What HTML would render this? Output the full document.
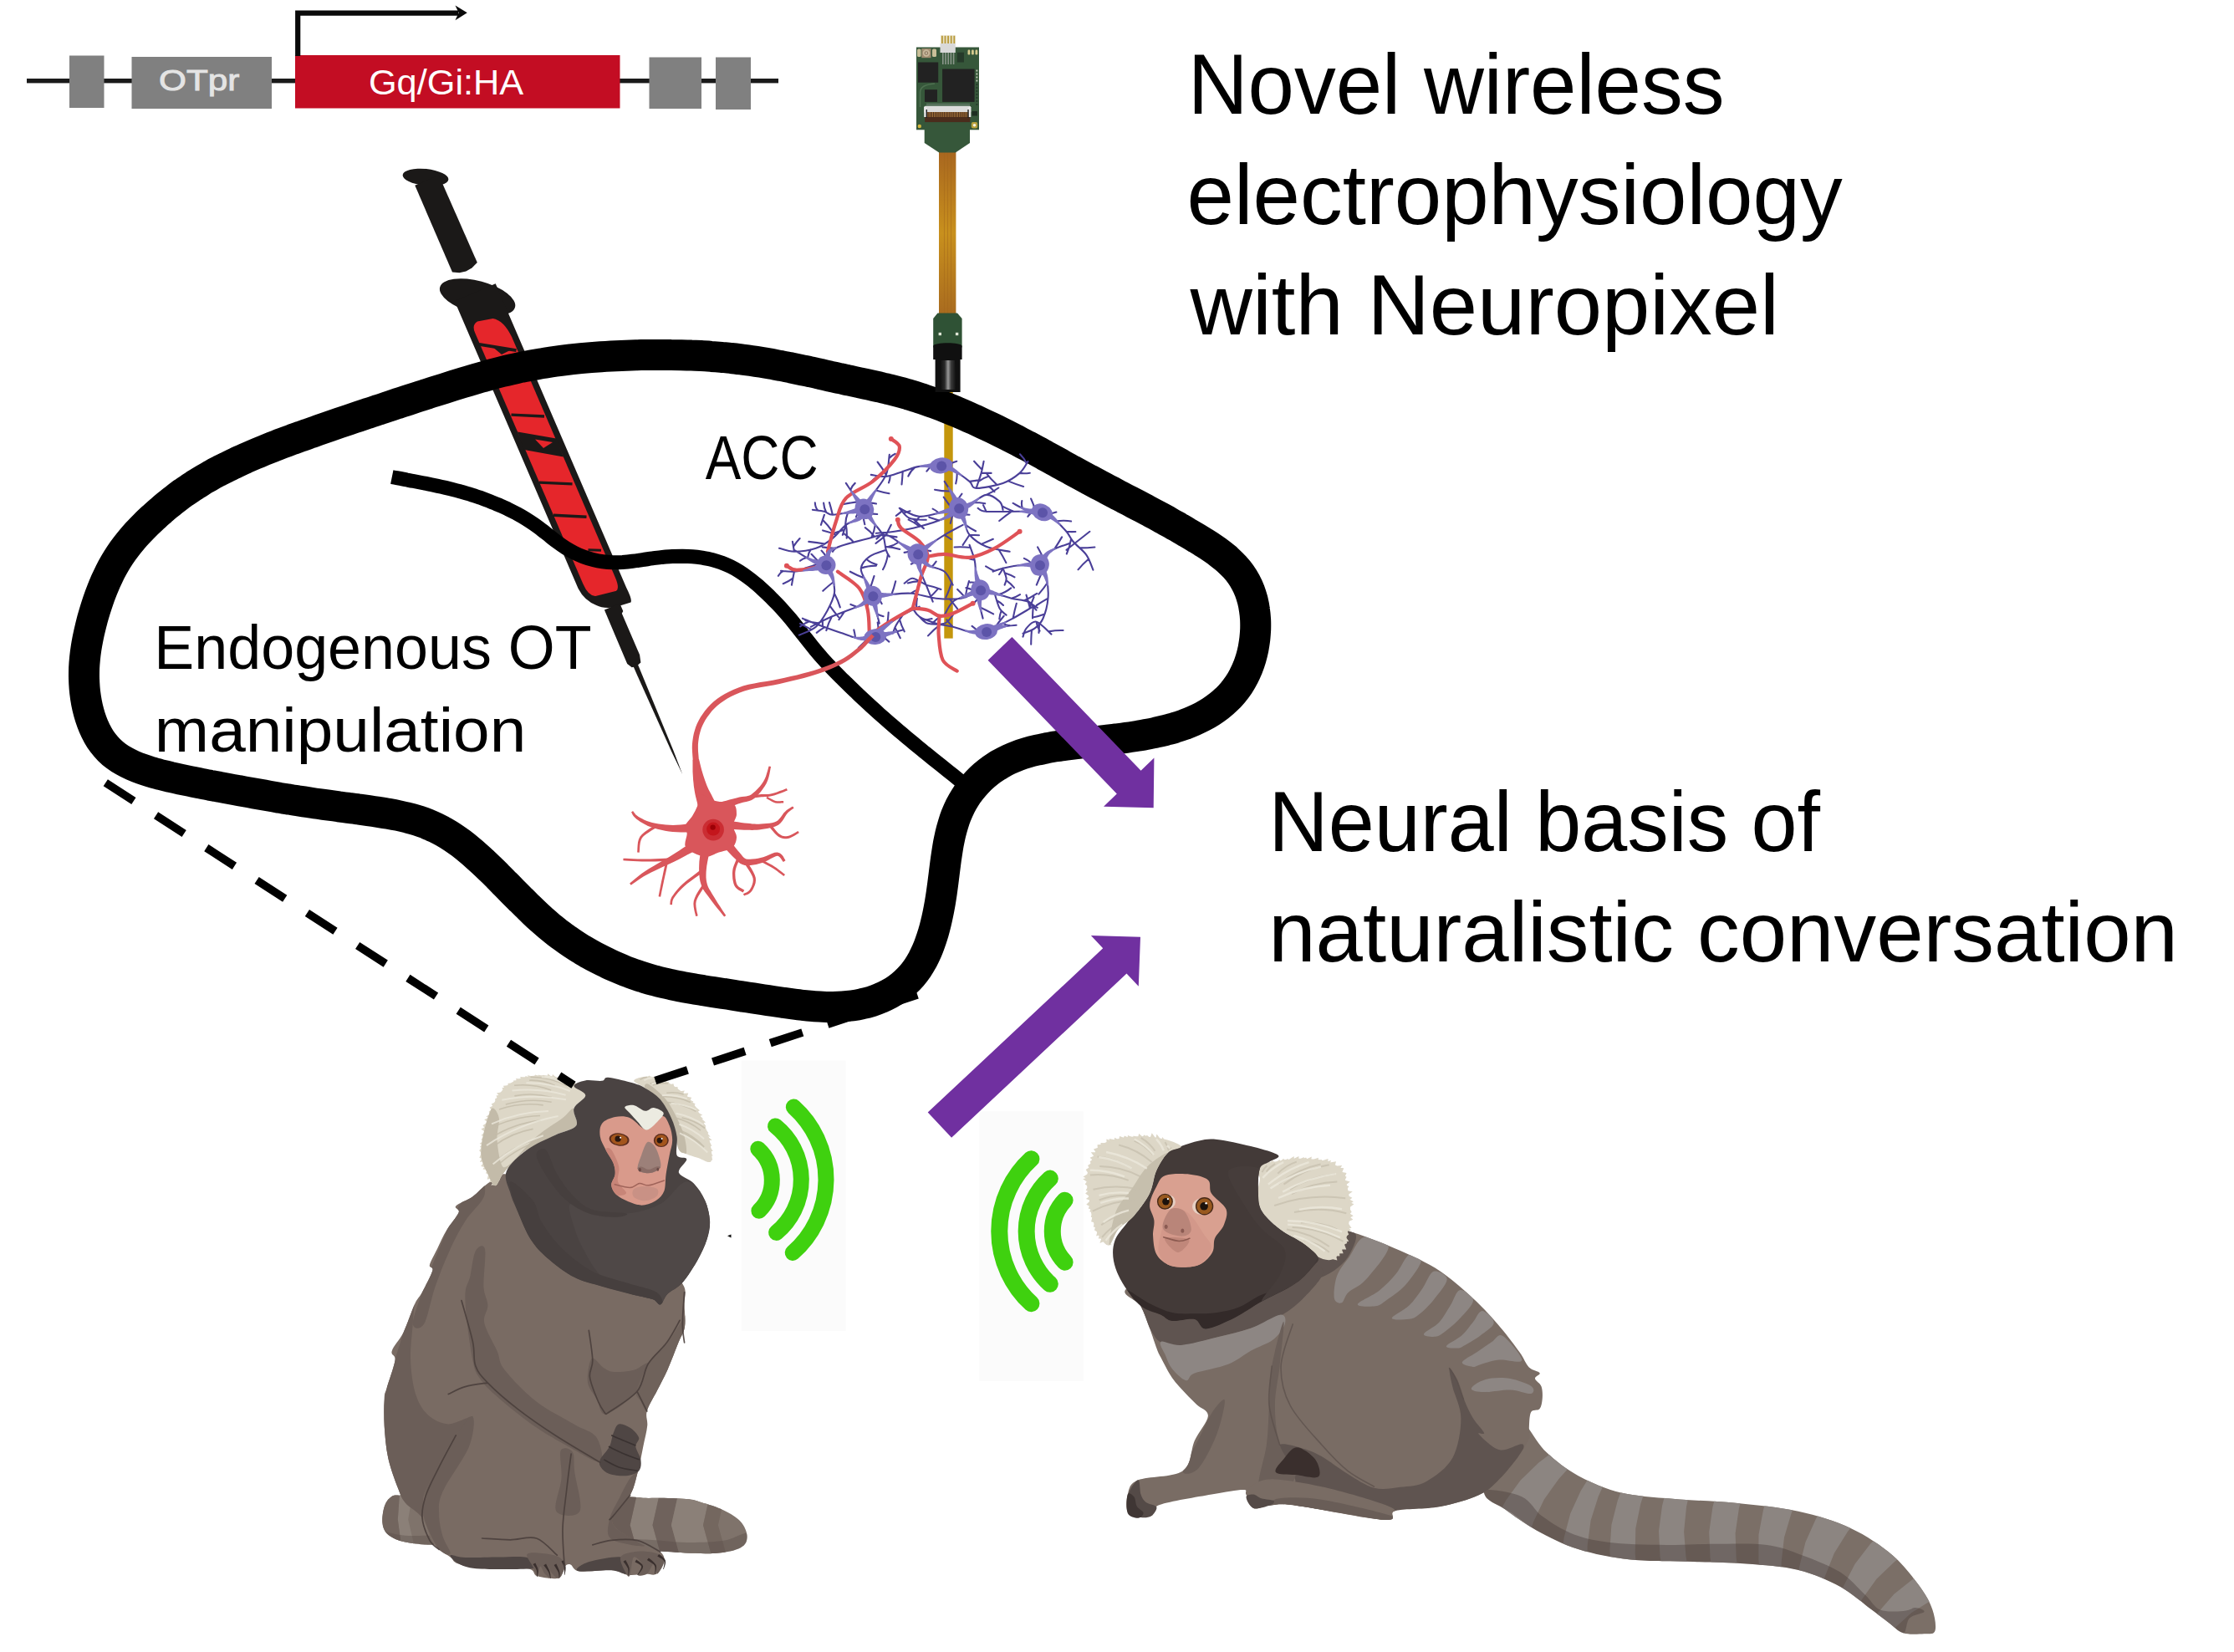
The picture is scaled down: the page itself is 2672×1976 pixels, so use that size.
<!DOCTYPE html>
<html><head><meta charset="utf-8"><title>Figure</title>
<style>html,body{margin:0;padding:0;background:#fff}svg{display:block}text{font-family:"Liberation Sans",sans-serif}</style>
</head><body>
<svg width="2672" height="1976" viewBox="0 0 2672 1976">
<rect width="2672" height="1976" fill="#fff"/>
<g id="gene"><rect x="32" y="94" width="899" height="5.4" fill="#1a1a1a"/>
<rect x="83" y="66.5" width="41.5" height="62.5" fill="#808080"/>
<rect x="157.5" y="68" width="167.5" height="62" fill="#808080"/>
<rect x="776.5" y="68.5" width="62.5" height="61.5" fill="#808080"/>
<rect x="856" y="68.5" width="42" height="62.5" fill="#808080"/>
<rect x="353" y="66" width="388.5" height="63.5" fill="#c30d23"/>
<path d="M356.2 67V15.7H548" fill="none" stroke="#0a0a0a" stroke-width="6.2" stroke-linejoin="miter"/>
<path d="M558.8 15.3L544.5 6.6L548.6 15.3L544.5 24.2Z" fill="#0a0a0a"/></g>
<g id="gene_texts"><text x="190.12" y="107.6" font-size="35.5" fill="#e4e4e4" stroke="#e4e4e4" stroke-width="0.9" textLength="96.32" lengthAdjust="spacingAndGlyphs">OTpr</text>
<text x="440.94" y="113" font-size="42" fill="#fff" textLength="185.27" lengthAdjust="spacingAndGlyphs">Gq/Gi:HA</text></g>
<g id="waves"><rect x="1171.3" y="1329.4" width="124.5" height="322.6" fill="#fbfbfb"/>
<path d="M1273.6 1435.7A53.6 53.6 0 0 0 1273.6 1509.7" fill="none" stroke="#3fd10f" stroke-width="20" stroke-linecap="round"/>
<path d="M1255.8 1409.6A84.8 84.8 0 0 0 1255.8 1535.8" fill="none" stroke="#3fd10f" stroke-width="20" stroke-linecap="round"/>
<path d="M1233.4 1386.2A117.2 117.2 0 0 0 1233.4 1559.2" fill="none" stroke="#3fd10f" stroke-width="20" stroke-linecap="round"/></g>
<g id="waves_left"><rect x="887.2" y="1268.5" width="124.2" height="323.5" fill="#fbfbfb"/>
<path d="M906.8 1374.2A51 51 0 0 1 907.9 1448.3" fill="none" stroke="#3fd10f" stroke-width="19" stroke-linecap="round"/>
<path d="M927.5 1346.9A82.3 82.3 0 0 1 928.6 1474.4" fill="none" stroke="#3fd10f" stroke-width="19" stroke-linecap="round"/>
<path d="M949.3 1324.1A116.4 116.4 0 0 1 948.2 1498.4" fill="none" stroke="#3fd10f" stroke-width="19" stroke-linecap="round"/>
<path d="M870 1478.3L874.5 1476.5L874.5 1480.5Z" fill="#111"/></g>
<g id="syringe"><ellipse cx="509" cy="212" rx="27.5" ry="10" fill="#1b1918" transform="rotate(6 509 212)"/>
<path d="M496.3 221.8L541 325.6L549.5 326.3L557.4 324.5L564.4 320.4L570.8 313.9L524.8 209.5Z" fill="#1b1918"/>
<ellipse cx="571.1" cy="355.5" rx="46.5" ry="19.5" fill="#1b1918" transform="rotate(15 571.1 355.5)"/>
<path d="M543.8 360.3L691.6 703.9Q698.9 718.2 713.3 723.9Q722.6 728.7 736.6 725.9L754.5 720.4Q756.4 717.3 749.2 703L592.7 339.3Z" fill="#1b1918"/>
<path d="M568 397.8Q564.1 388.6 571 384.5L589.5 380.9Q602.4 383 612 402.8L735.9 690.8Q741.8 704.6 736.3 707L712.3 712.9Q703.8 713.3 697.4 698.6Z" fill="#e5262b"/>
<path d="M573 411.9L617.5 419.1" stroke="#1b1918" stroke-width="3.6" fill="none"/>
<path d="M588 414L612 418L600 424Z" fill="#1b1918"/>
<path d="M611.5 496.1L651 498" stroke="#1b1918" stroke-width="3.4" fill="none"/>
<path d="M619 516.5L665.2 524.6L674 546.4L627 538Z" fill="#1b1918"/>
<path d="M640 525.5L661 529L650 536Z" fill="#e5262b"/>
<path d="M645 577.1L684.5 578.9" stroke="#1b1918" stroke-width="3.4" fill="none"/>
<path d="M662 616.2L701.5 618.3" stroke="#1b1918" stroke-width="3.4" fill="none"/>
<path d="M703.5 657.8L719 658.3" stroke="#1b1918" stroke-width="3" fill="none"/>
<path d="M722.9 729.6L750.2 794.1L755.7 798.2L760.7 797.2L766.4 792.5L765.1 783.3L743.8 733.7L745.3 730.9L741.3 721.7Z" fill="#1b1918"/>
<path d="M756.8 795.6L803.2 899.1L816.2 926.1L805.5 898L762.3 793.2Z" fill="#1b1918"/></g>
<g id="shank"><rect x="1129.3" y="460" width="10.4" height="303.6" fill="#c4960c"/></g>
<g id="brain"><path d="M600.2 444.7C604.1 443.7 607.9 442.8 611.8 441.9C615.7 441 619.7 440.2 623.6 439.3C627.5 438.5 631.4 437.7 635.3 437C639.3 436.3 643.2 435.6 647.2 434.9C651.1 434.2 655.1 433.6 659 433C663 432.4 666.9 431.9 670.9 431.4C674.9 430.9 678.9 430.4 682.8 429.9C686.8 429.5 690.8 429.1 694.8 428.7C698.8 428.3 702.7 428 706.7 427.6C710.7 427.3 714.7 427 718.7 426.7C722.7 426.5 726.7 426.2 730.7 426C734.7 425.8 738.7 425.6 742.7 425.4C746.7 425.2 750.7 425.1 754.7 424.9C758.7 424.8 762.7 424.7 766.7 424.6C770.7 424.5 774.7 424.5 778.7 424.4C782.7 424.4 786.7 424.4 790.7 424.4C794.7 424.4 798.7 424.4 802.7 424.5C806.7 424.5 810.7 424.6 814.7 424.7C818.8 424.8 822.8 424.9 826.8 425.1C830.8 425.2 834.8 425.4 838.7 425.6C842.7 425.8 846.7 426.1 850.7 426.4C854.7 426.6 858.7 426.9 862.7 427.3C866.7 427.7 870.7 428 874.6 428.5C878.6 428.9 882.6 429.4 886.6 429.9C890.5 430.4 894.5 430.9 898.5 431.5C902.4 432.1 906.4 432.7 910.3 433.3C914.3 434 918.2 434.6 922.2 435.3C926.1 436 930 436.8 934 437.5C937.9 438.3 941.8 439.1 945.8 439.8C949.7 440.6 953.6 441.5 957.5 442.3C961.4 443.1 965.3 444 969.3 444.8C973.2 445.7 977.1 446.6 981 447.4C984.9 448.3 988.8 449.2 992.7 450.1C996.6 450.9 1000.5 451.8 1004.4 452.7C1008.4 453.5 1012.3 454.4 1016.2 455.2C1020.1 456.1 1024 456.9 1027.9 457.8C1031.8 458.6 1035.8 459.4 1039.7 460.3C1043.6 461.2 1047.5 462 1051.4 462.9C1055.3 463.9 1059.2 464.8 1063.1 465.7C1066.9 466.7 1070.8 467.7 1074.7 468.7C1078.6 469.7 1082.4 470.8 1086.3 471.9C1090.1 473 1093.9 474.2 1097.7 475.4C1101.5 476.6 1105.3 477.9 1109.1 479.2C1112.9 480.5 1116.7 481.8 1120.4 483.2C1124.2 484.6 1127.9 486 1131.6 487.5C1135.3 489 1139 490.5 1142.7 492C1146.4 493.6 1150.1 495.2 1153.8 496.8C1157.4 498.4 1161.1 500 1164.7 501.6C1168.4 503.3 1172 505 1175.6 506.7C1179.3 508.4 1182.9 510.1 1186.5 511.8C1190.1 513.6 1193.7 515.3 1197.3 517.1C1200.9 518.9 1204.4 520.7 1208 522.5C1211.6 524.3 1215.1 526.1 1218.7 528C1222.2 529.9 1225.8 531.7 1229.3 533.6C1232.9 535.5 1236.4 537.4 1239.9 539.3C1243.4 541.2 1246.9 543.1 1250.4 545.1C1254 547 1257.5 548.9 1261 550.9C1264.5 552.8 1268 554.7 1271.5 556.7C1275 558.6 1278.5 560.5 1282 562.5C1285.5 564.4 1289 566.3 1292.6 568.2C1296.1 570.1 1299.6 572 1303.1 573.9C1306.7 575.8 1310.2 577.7 1313.7 579.6C1317.3 581.5 1320.8 583.3 1324.3 585.2C1327.9 587.1 1331.4 588.9 1335 590.8C1338.5 592.7 1342.1 594.5 1345.6 596.4C1349.2 598.3 1352.7 600.1 1356.3 602C1359.8 603.8 1363.4 605.7 1366.9 607.6C1370.4 609.5 1374 611.3 1377.5 613.2C1381 615.1 1384.6 617 1388.1 618.9C1391.6 620.9 1395.1 622.8 1398.6 624.7C1402.1 626.7 1405.6 628.7 1409.1 630.6C1412.5 632.6 1416 634.6 1419.4 636.7C1422.9 638.7 1426.3 640.7 1429.8 642.8C1433.2 644.9 1436.6 646.9 1439.9 649.1C1443.3 651.2 1446.7 653.4 1449.9 655.6C1453.2 657.8 1456.4 660.1 1459.5 662.5C1462.6 664.9 1465.7 667.3 1468.6 669.9C1471.4 672.5 1474.2 675.2 1476.8 678C1479.4 680.8 1481.8 683.8 1484 686.9C1486.2 690 1488.2 693.2 1490 696.6C1491.8 699.9 1493.4 703.4 1494.7 706.9C1496.1 710.5 1497.2 714.2 1498.2 717.9C1499.1 721.6 1499.9 725.4 1500.4 729.3C1501 733.1 1501.4 737 1501.6 740.9C1501.8 744.8 1501.8 748.7 1501.7 752.6C1501.5 756.6 1501.2 760.5 1500.8 764.4C1500.3 768.3 1499.7 772.2 1499 776C1498.2 779.8 1497.3 783.6 1496.2 787.4C1495.1 791.1 1493.8 794.8 1492.4 798.4C1490.9 802 1489.3 805.6 1487.5 809C1485.8 812.4 1483.8 815.8 1481.7 819C1479.5 822.2 1477.2 825.3 1474.7 828.3C1472.3 831.2 1469.6 834.1 1466.8 836.7C1464.1 839.4 1461.1 842 1458.1 844.3C1455 846.7 1451.8 849 1448.5 851.1C1445.2 853.2 1441.8 855.2 1438.4 857C1434.9 858.8 1431.3 860.5 1427.7 862.1C1424.1 863.7 1420.4 865.2 1416.7 866.6C1413 867.9 1409.2 869.2 1405.4 870.3C1401.7 871.5 1397.8 872.5 1394 873.5C1390.1 874.5 1386.2 875.4 1382.3 876.2C1378.4 877.1 1374.5 877.8 1370.6 878.5C1366.6 879.3 1362.7 879.9 1358.7 880.6C1354.8 881.2 1350.8 881.8 1346.9 882.3C1342.9 882.9 1338.9 883.4 1335 883.9C1331 884.5 1327 884.9 1323 885.4C1319.1 885.9 1315.1 886.4 1311.1 886.8C1307.1 887.3 1303.2 887.8 1299.2 888.2C1295.2 888.7 1291.2 889.1 1287.3 889.6C1283.3 890.1 1279.3 890.6 1275.3 891.1C1271.4 891.6 1267.4 892.2 1263.5 892.8C1259.5 893.4 1255.6 894.1 1251.7 894.8C1247.8 895.6 1243.9 896.4 1240 897.3C1236.2 898.2 1232.3 899.2 1228.5 900.3C1224.7 901.4 1221 902.6 1217.3 904C1213.6 905.4 1210 906.9 1206.5 908.5C1202.9 910.2 1199.5 912 1196.1 914C1192.7 915.9 1189.5 918.1 1186.3 920.3C1183.1 922.6 1180.1 925 1177.1 927.6C1174.2 930.1 1171.4 932.8 1168.7 935.6C1166 938.5 1163.5 941.4 1161.1 944.5C1158.7 947.5 1156.4 950.7 1154.4 954C1152.3 957.3 1150.4 960.7 1148.6 964.1C1146.9 967.6 1145.3 971.2 1143.8 974.8C1142.4 978.4 1141.1 982.2 1140 985.9C1138.8 989.7 1137.8 993.5 1136.9 997.3C1136 1001.2 1135.2 1005.1 1134.4 1009C1133.7 1012.9 1133.1 1016.8 1132.5 1020.8C1131.9 1024.7 1131.3 1028.7 1130.8 1032.6C1130.3 1036.6 1129.8 1040.6 1129.3 1044.5C1128.8 1048.5 1128.3 1052.5 1127.8 1056.4C1127.3 1060.4 1126.7 1064.4 1126.2 1068.3C1125.6 1072.3 1125 1076.2 1124.3 1080.2C1123.6 1084.1 1122.9 1088 1122.1 1091.9C1121.3 1095.8 1120.5 1099.7 1119.5 1103.6C1118.6 1107.5 1117.6 1111.3 1116.5 1115.1C1115.3 1118.9 1114.2 1122.7 1112.8 1126.4C1111.5 1130.2 1110.1 1133.9 1108.6 1137.4C1107 1141 1105.3 1144.6 1103.5 1148C1101.6 1151.4 1099.7 1154.7 1097.5 1157.9C1095.3 1161.1 1093 1164.2 1090.5 1167.1C1088 1170 1085.3 1172.7 1082.5 1175.3C1079.7 1177.9 1076.7 1180.3 1073.6 1182.5C1070.5 1184.8 1067.2 1186.8 1063.8 1188.7C1060.5 1190.5 1057 1192.2 1053.4 1193.7C1049.8 1195.3 1046.2 1196.6 1042.4 1197.8C1038.7 1198.9 1034.9 1199.9 1031.1 1200.7C1027.3 1201.6 1023.4 1202.3 1019.5 1202.8C1015.6 1203.3 1011.7 1203.7 1007.8 1204C1003.8 1204.3 999.9 1204.4 995.9 1204.4C991.9 1204.5 987.9 1204.4 984 1204.2C980 1204 976 1203.8 972.1 1203.5C968.1 1203.2 964.1 1202.8 960.1 1202.3C956.2 1201.9 952.2 1201.4 948.2 1200.9C944.3 1200.4 940.3 1199.8 936.3 1199.3C932.4 1198.7 928.4 1198.1 924.4 1197.5C920.5 1196.9 916.5 1196.3 912.6 1195.7C908.6 1195.1 904.6 1194.5 900.7 1193.9C896.7 1193.3 892.8 1192.7 888.8 1192.1C884.9 1191.5 880.9 1190.9 876.9 1190.2C873 1189.6 869 1189 865.1 1188.4C861.1 1187.8 857.1 1187.2 853.2 1186.6C849.2 1186 845.3 1185.4 841.3 1184.8C837.4 1184.1 833.4 1183.5 829.5 1182.8C825.5 1182.1 821.6 1181.4 817.6 1180.7C813.7 1180 809.8 1179.2 805.9 1178.4C802 1177.6 798.1 1176.7 794.2 1175.8C790.3 1174.9 786.4 1173.9 782.6 1172.8C778.7 1171.8 774.9 1170.7 771 1169.5C767.2 1168.4 763.4 1167.1 759.7 1165.8C755.9 1164.5 752.2 1163.1 748.5 1161.7C744.7 1160.2 741.1 1158.7 737.4 1157.1C733.7 1155.5 730.1 1153.9 726.5 1152.1C722.9 1150.4 719.3 1148.6 715.8 1146.8C712.2 1145 708.7 1143.1 705.2 1141.1C701.8 1139.2 698.3 1137.1 694.9 1135.1C691.5 1133 688.1 1130.8 684.8 1128.6C681.5 1126.4 678.2 1124.2 675 1121.8C671.8 1119.5 668.6 1117.1 665.4 1114.7C662.3 1112.2 659.2 1109.7 656.1 1107.1C653.1 1104.6 650.1 1101.9 647.1 1099.3C644.1 1096.6 641.2 1093.9 638.3 1091.1C635.4 1088.4 632.6 1085.6 629.7 1082.8C626.8 1080 624 1077.1 621.2 1074.3C618.4 1071.5 615.5 1068.6 612.7 1065.8C609.9 1062.9 607.1 1060.1 604.3 1057.2C601.5 1054.4 598.7 1051.5 595.8 1048.7C593 1045.9 590.2 1043 587.3 1040.3C584.4 1037.5 581.6 1034.7 578.6 1032C575.7 1029.2 572.8 1026.5 569.8 1023.9C566.8 1021.2 563.8 1018.6 560.7 1016.1C557.7 1013.6 554.5 1011.1 551.4 1008.7C548.2 1006.3 545 1004 541.7 1001.8C538.4 999.6 535 997.5 531.6 995.6C528.2 993.6 524.7 991.8 521.2 990.1C517.6 988.4 514 986.8 510.4 985.3C506.7 983.9 503 982.6 499.2 981.4C495.4 980.2 491.6 979.1 487.8 978.2C484 977.2 480.1 976.3 476.2 975.5C472.3 974.7 468.4 974 464.4 973.3C460.5 972.6 456.5 972 452.6 971.4C448.6 970.8 444.7 970.2 440.7 969.6C436.8 969.1 432.8 968.5 428.8 968C424.9 967.4 420.9 966.9 416.9 966.4C412.9 965.8 409 965.3 405 964.8C401 964.2 397.1 963.7 393.1 963.2C389.1 962.6 385.2 962.1 381.2 961.5C377.2 961 373.3 960.4 369.3 959.8C365.3 959.2 361.4 958.6 357.4 958C353.5 957.4 349.5 956.8 345.6 956.1C341.6 955.5 337.7 954.8 333.7 954.2C329.8 953.5 325.8 952.8 321.9 952.1C317.9 951.4 314 950.7 310 950C306.1 949.3 302.1 948.6 298.2 947.9C294.3 947.2 290.3 946.5 286.4 945.8C282.4 945 278.5 944.3 274.6 943.6C270.6 942.8 266.7 942.1 262.7 941.4C258.8 940.6 254.9 939.9 250.9 939.2C247 938.4 243.1 937.6 239.1 936.9C235.2 936.1 231.3 935.3 227.4 934.5C223.4 933.7 219.5 932.9 215.6 932.1C211.7 931.2 207.8 930.4 203.9 929.5C200 928.5 196.1 927.6 192.2 926.6C188.4 925.6 184.5 924.6 180.7 923.4C176.9 922.3 173.2 921.1 169.5 919.8C165.8 918.5 162.1 917.1 158.6 915.5C155 913.9 151.6 912.2 148.3 910.3C144.9 908.4 141.7 906.4 138.7 904.1C135.7 901.9 132.9 899.4 130.3 896.8C127.6 894.2 125.2 891.3 122.9 888.3C120.7 885.3 118.6 882.1 116.8 878.8C114.9 875.5 113.3 872 111.8 868.5C110.3 864.9 109 861.3 107.8 857.6C106.6 853.8 105.6 850 104.7 846.2C103.8 842.4 103.1 838.5 102.5 834.6C101.9 830.7 101.4 826.8 101.1 822.9C100.8 818.9 100.6 815 100.5 811C100.4 807.1 100.5 803.1 100.6 799.2C100.8 795.2 101.1 791.2 101.5 787.3C101.9 783.3 102.4 779.4 103 775.5C103.6 771.5 104.3 767.6 105.1 763.7C105.9 759.8 106.7 755.9 107.7 752C108.6 748.2 109.6 744.3 110.6 740.4C111.7 736.6 112.8 732.8 114 728.9C115.2 725.1 116.4 721.3 117.7 717.6C119 713.8 120.4 710.1 121.9 706.3C123.3 702.6 124.8 699 126.4 695.3C128.1 691.7 129.8 688.1 131.5 684.6C133.3 681 135.2 677.5 137.2 674.1C139.2 670.7 141.3 667.3 143.5 664C145.7 660.7 148 657.5 150.4 654.4C152.8 651.2 155.3 648.1 157.8 645.1C160.4 642.1 163 639.1 165.8 636.2C168.5 633.3 171.3 630.4 174.1 627.6C176.9 624.8 179.8 622.1 182.7 619.4C185.7 616.7 188.6 614 191.7 611.4C194.7 608.7 197.7 606.2 200.8 603.6C203.9 601.1 207 598.6 210.2 596.2C213.4 593.8 216.6 591.4 219.8 589.1C223.1 586.8 226.4 584.5 229.7 582.3C233 580.1 236.4 578 239.8 575.9C243.2 573.8 246.6 571.8 250.1 569.9C253.6 567.9 257.1 566 260.6 564.1C264.2 562.3 267.7 560.4 271.3 558.7C274.9 556.9 278.5 555.1 282.1 553.4C285.7 551.7 289.4 550.1 293 548.4C296.7 546.8 300.4 545.2 304 543.6C307.7 542.1 311.4 540.5 315.1 539C318.8 537.5 322.5 536 326.3 534.5C330 533.1 333.7 531.6 337.5 530.2C341.2 528.8 345 527.4 348.7 526C352.5 524.6 356.3 523.3 360 521.9C363.8 520.6 367.6 519.2 371.3 517.9C375.1 516.6 378.9 515.3 382.7 513.9C386.5 512.6 390.3 511.3 394 510C397.8 508.7 401.6 507.4 405.4 506.1C409.2 504.8 413 503.5 416.8 502.2C420.6 500.9 424.4 499.7 428.2 498.4C432 497.1 435.8 495.8 439.6 494.5C443.4 493.3 447.2 492 451 490.7C454.8 489.5 458.6 488.2 462.4 486.9C466.2 485.7 470 484.4 473.8 483.2C477.6 481.9 481.4 480.7 485.2 479.5C489 478.2 492.8 477 496.6 475.7C500.4 474.5 504.3 473.3 508.1 472.1C511.9 470.8 515.7 469.6 519.5 468.4C523.3 467.2 527.1 466 531 464.8C534.8 463.6 538.6 462.4 542.4 461.2C546.3 460 550.1 458.8 553.9 457.6C557.7 456.5 561.6 455.3 565.4 454.2C569.3 453.1 573.1 451.9 577 450.9C580.8 449.8 584.7 448.7 588.5 447.7C592.4 446.7 596.3 445.7 600.2 444.7Z" fill="none" stroke="#000" stroke-width="37" stroke-linejoin="round"/>
<path d="M468.8 570.5C471.8 571.1 482.5 573.1 486.8 574C491.2 574.8 491.8 574.9 494.8 575.5C497.8 576.1 501.3 576.8 504.8 577.5C508.4 578.2 512.3 578.9 516.1 579.7C519.9 580.5 523.9 581.4 527.8 582.2C531.7 583.1 535.6 584 539.5 584.9C543.4 585.9 547.2 586.9 551.1 588C555 589 558.8 590.2 562.6 591.3C566.4 592.5 570.2 593.8 574 595.1C577.8 596.5 581.5 597.9 585.3 599.3C589 600.8 592.7 602.3 596.4 603.9C600 605.5 603.7 607.1 607.3 608.8C610.9 610.6 614.5 612.4 618 614.2C621.5 616.1 625 618.1 628.4 620.2C631.8 622.3 635.1 624.5 638.4 626.8C641.7 629 644.8 631.5 648 633.9C651.2 636.3 654.3 638.9 657.4 641.3C660.6 643.8 663.7 646.3 666.9 648.6C670.1 651 673.4 653.3 676.8 655.4C680.1 657.4 683.6 659.4 687.1 661.2C690.6 663 694.3 664.6 698 666C701.7 667.4 705.5 668.6 709.3 669.5C713.1 670.5 717 671.3 720.9 671.8C724.8 672.3 728.8 672.6 732.7 672.7C736.7 672.8 740.7 672.7 744.6 672.5C748.6 672.2 752.6 671.8 756.5 671.3C760.5 670.8 764.4 670.2 768.4 669.6C772.4 669.1 776.3 668.4 780.3 667.9C784.2 667.4 788.2 666.8 792.2 666.4C796.2 666.1 800.2 665.7 804.1 665.5C808.1 665.3 812.1 665.2 816.1 665.2C820.1 665.3 824.1 665.4 828.1 665.7C832 666 836 666.5 839.9 667.1C843.8 667.8 847.7 668.5 851.6 669.5C855.4 670.5 859.2 671.7 862.9 673C866.6 674.4 870.3 676 873.8 677.7C877.4 679.5 880.8 681.4 884.2 683.5C887.5 685.6 890.8 687.9 894 690.3C897.2 692.6 900.4 695.1 903.4 697.7C906.5 700.2 909.5 702.9 912.5 705.6C915.4 708.3 918.3 711 921.2 713.8C924 716.6 926.8 719.5 929.6 722.4C932.4 725.3 935.1 728.2 937.7 731.2C940.4 734.2 943 737.2 945.6 740.3C948.1 743.4 950.6 746.5 953.1 749.6C955.6 752.8 958.1 756 960.5 759.1C963 762.3 965.5 765.4 968 768.6C970.5 771.7 973 774.8 975.5 777.9C978.1 781 980.7 784 983.3 787C986 790 988.7 793 991.5 795.9C994.2 798.8 997 801.7 999.8 804.5C1002.6 807.4 1005.5 810.2 1008.3 813C1011.2 815.8 1014 818.6 1016.9 821.4C1019.8 824.2 1022.7 827 1025.6 829.7C1028.5 832.5 1031.4 835.2 1034.4 838C1037.3 840.7 1040.2 843.4 1043.2 846.1C1046.2 848.8 1049.1 851.5 1052.1 854.2C1055.1 856.8 1058.1 859.5 1061.1 862.1C1064.1 864.8 1067.2 867.4 1070.2 870C1073.3 872.6 1076.3 875.2 1079.4 877.8C1082.5 880.4 1085.5 882.9 1088.6 885.5C1091.7 888.1 1094.8 890.6 1097.9 893.2C1101 895.7 1104.1 898.2 1107.2 900.8C1110.3 903.3 1113.4 905.8 1116.5 908.3C1119.5 910.7 1122.6 913.2 1125.4 915.4C1128.3 917.7 1131 919.9 1133.4 921.8C1135.8 923.7 1136.3 924.1 1139.8 926.9C1143.2 929.7 1151.6 936.6 1154 938.5" fill="none" stroke="#000" stroke-width="17" stroke-linecap="butt"/></g>
<g id="probe"><defs><linearGradient id="flex" x1="0" y1="0" x2="0" y2="1"><stop offset="0" stop-color="#a8661f"/><stop offset=".5" stop-color="#c8901d"/><stop offset="1" stop-color="#a86a1f"/></linearGradient><linearGradient id="hold" x1="0" y1="0" x2="1" y2="0"><stop offset="0" stop-color="#0c0c0c"/><stop offset=".3" stop-color="#2a2a2a"/><stop offset=".5" stop-color="#9a9a9a"/><stop offset=".68" stop-color="#3a3a3a"/><stop offset="1" stop-color="#0a0a0a"/></linearGradient></defs>
<rect x="1123" y="180" width="20.4" height="198" fill="url(#flex)"/>
<path d="M1129.5 182V376M1133.5 182V376M1137.5 182V376" stroke="#a2671c" stroke-width="0.8" opacity=".6"/>
<rect x="1096" y="56.5" width="75" height="98.8" fill="#36573a"/>
<rect x="1124.8" y="42.3" width="18" height="10" fill="#e8e2c8"/>
<rect x="1126" y="42.8" width="1.8" height="9.4" fill="#b89a3c"/>
<rect x="1129.6" y="42.8" width="1.8" height="9.4" fill="#b89a3c"/>
<rect x="1133.2" y="42.8" width="1.8" height="9.4" fill="#b89a3c"/>
<rect x="1136.8" y="42.8" width="1.8" height="9.4" fill="#b89a3c"/>
<rect x="1140.4" y="42.8" width="1.8" height="9.4" fill="#b89a3c"/>
<rect x="1124.5" y="52" width="18.3" height="11" fill="#d9d9d9"/>
<rect x="1127" y="63" width="1.6" height="14" fill="#8a968a"/>
<rect x="1130.2" y="63" width="1.6" height="14" fill="#8a968a"/>
<rect x="1133.4" y="63" width="1.6" height="14" fill="#8a968a"/>
<rect x="1136.6" y="63" width="1.6" height="14" fill="#8a968a"/>
<rect x="1139.8" y="63" width="1.6" height="14" fill="#8a968a"/>
<rect x="1097" y="58.5" width="4.6" height="9.5" rx="1.5" fill="#c9bf98"/>
<rect x="1115" y="58.5" width="5" height="9.5" rx="1.5" fill="#c9bf98"/>
<rect x="1102.3" y="58" width="11.2" height="11.2" fill="#a08c70"/>
<circle cx="1107.9" cy="63.5" r="4.2" fill="#c7b79a"/><circle cx="1107.9" cy="63.5" r="2.3" fill="#8f7a60"/><circle cx="1107.9" cy="63.5" r="1" fill="#e0d6c0"/>
<rect x="1157.5" y="59.6" width="2.8" height="6" rx="1.3" fill="#d6cb8e"/>
<rect x="1162" y="59.6" width="2.8" height="6" rx="1.3" fill="#d6cb8e"/>
<rect x="1166.5" y="59.6" width="2.8" height="6" rx="1.3" fill="#d6cb8e"/>
<rect x="1098" y="74.5" width="24.2" height="24.2" fill="#222222"/>
<rect x="1127.1" y="82.5" width="38.5" height="39.4" fill="#222222"/>
<rect x="1106" y="107.2" width="15" height="14.7" fill="#222222"/>
<rect x="1144.8" y="62.7" width="8.1" height="11.8" fill="#263a2a"/>
<rect x="1162.5" y="133" width="6.5" height="5.5" fill="#1e2e22"/>
<rect x="1167.6" y="83.5" width="1.6" height="2" fill="#cfd4c4"/>
<rect x="1167.6" y="87.5" width="1.6" height="2" fill="#cfd4c4"/>
<rect x="1167.6" y="91.5" width="1.6" height="2" fill="#cfd4c4"/>
<rect x="1167.6" y="95.5" width="1.6" height="2" fill="#cfd4c4"/>
<rect x="1167.6" y="100" width="1.6" height="2" fill="#24382a"/>
<rect x="1167.6" y="104" width="1.6" height="2" fill="#24382a"/>
<rect x="1167.6" y="108" width="1.6" height="2" fill="#24382a"/>
<rect x="1167.6" y="112" width="1.6" height="2" fill="#24382a"/>
<rect x="1167.6" y="116" width="1.6" height="2" fill="#24382a"/>
<rect x="1167.6" y="120" width="1.6" height="2" fill="#24382a"/>
<rect x="1167.6" y="124" width="1.6" height="2" fill="#24382a"/>
<path d="M1118 100C1108 101 1101 103 1100.5 110V128" stroke="#4e7050" stroke-width="1.6" fill="none"/>
<rect x="1108" y="123.5" width="52" height="3" fill="#55705a"/>
<rect x="1105.2" y="126.7" width="56.1" height="8.3" rx="1.5" fill="#dcdcdc"/>
<rect x="1106.2" y="134" width="54.1" height="12.3" fill="#4a2c1c"/>
<rect x="1108.5" y="134" width="1" height="6" fill="#a9793e"/>
<rect x="1110.7" y="134" width="1" height="6" fill="#a9793e"/>
<rect x="1112.8" y="134" width="1" height="6" fill="#a9793e"/>
<rect x="1115" y="134" width="1" height="6" fill="#a9793e"/>
<rect x="1117.1" y="134" width="1" height="6" fill="#a9793e"/>
<rect x="1119.2" y="134" width="1" height="6" fill="#a9793e"/>
<rect x="1121.4" y="134" width="1" height="6" fill="#a9793e"/>
<rect x="1123.5" y="134" width="1" height="6" fill="#a9793e"/>
<rect x="1125.7" y="134" width="1" height="6" fill="#a9793e"/>
<rect x="1127.8" y="134" width="1" height="6" fill="#a9793e"/>
<rect x="1130" y="134" width="1" height="6" fill="#a9793e"/>
<rect x="1132.2" y="134" width="1" height="6" fill="#a9793e"/>
<rect x="1134.3" y="134" width="1" height="6" fill="#a9793e"/>
<rect x="1136.5" y="134" width="1" height="6" fill="#a9793e"/>
<rect x="1138.6" y="134" width="1" height="6" fill="#a9793e"/>
<rect x="1140.8" y="134" width="1" height="6" fill="#a9793e"/>
<rect x="1142.9" y="134" width="1" height="6" fill="#a9793e"/>
<rect x="1145" y="134" width="1" height="6" fill="#a9793e"/>
<rect x="1147.2" y="134" width="1" height="6" fill="#a9793e"/>
<rect x="1149.3" y="134" width="1" height="6" fill="#a9793e"/>
<rect x="1151.5" y="134" width="1" height="6" fill="#a9793e"/>
<rect x="1153.7" y="134" width="1" height="6" fill="#a9793e"/>
<rect x="1155.8" y="134" width="1" height="6" fill="#a9793e"/>
<rect x="1158" y="134" width="1" height="6" fill="#a9793e"/>
<rect x="1105.2" y="128" width="3" height="12" fill="#e8e8e8"/><rect x="1158.3" y="128" width="3" height="12" fill="#e8e8e8"/>
<rect x="1107.6" y="131" width="1.4" height="10" fill="#222"/><rect x="1157.3" y="131" width="1.4" height="10" fill="#222"/>
<circle cx="1099.8" cy="151" r="2.2" fill="#d4b63c"/>
<rect x="1161.8" y="146" width="7.4" height="7.4" rx="2" fill="#b6a03c"/><circle cx="1165.5" cy="149.7" r="1.8" fill="#f4f0e0"/>
<path d="M1105.7 146.3L1160 146.3L1160 171L1142.8 182.5L1123.2 182.5L1105.7 171Z" fill="#36573a"/>
<path d="M1121.5 374.5L1145 374.5L1150.6 381L1150.6 415.5L1116.2 415.5L1116.2 381Z" fill="#2f5235"/>
<rect x="1122.6" y="397.8" width="3.4" height="3.4" fill="#dfe6d6"/><rect x="1142.9" y="397.8" width="3.4" height="3.4" fill="#dfe6d6"/>
<path d="M1116.2 414C1116.2 409 1150.6 409 1150.6 414V430H1148.6V469H1118.6V430H1116.2Z" fill="#101010"/>
<path d="M1124 431H1142L1144 466H1126Z" fill="url(#hold)"/></g>
<g id="network"><path d="M1125.7 556.9C1121.4 557.1 1107.4 556.8 1099.7 557.9C1092.1 559.1 1086.4 561.9 1079.7 563.9C1073.1 565.9 1066.1 569.2 1059.8 569.9C1053.5 570.6 1044.8 568.2 1041.8 567.9M1114 557Q1112.1 559.1 1108.4 563.6M1094.3 559.1Q1089 563.1 1086.3 569.6M1079.7 563.9Q1079.4 570.4 1078.5 579.4M1064.6 569Q1064.9 572.5 1063 577.4M1049.5 569.3Q1044.8 573.2 1038.9 579.5M1125.7 556.9C1128 557.8 1134 558.8 1139.7 561.9C1145.3 565.1 1155 572.2 1159.6 575.9C1164.3 579.6 1161 583.5 1167.6 583.9C1174.3 584.2 1190.9 580.9 1199.6 577.9C1208.2 574.9 1214.6 570.2 1219.6 565.9C1224.5 561.6 1227.9 554.3 1229.5 551.9M1131.4 558.5Q1136.5 553.8 1144.3 551.7M1144.5 564.9Q1145.1 571.3 1143.2 578.4M1159.6 575.9Q1165.3 575.2 1170.5 574.4M1182.9 582.1Q1186.1 584.1 1189.4 588.2M1205.7 575.4Q1213.6 578.8 1224.1 581.9M1219.6 565.9Q1225.6 566.7 1231.8 565.7M1228 554.5Q1224.5 547.6 1220 543.3M1167.6 583.9C1168.6 580.9 1172.1 571.2 1173.6 565.9C1175.1 560.6 1176.1 554.3 1176.6 551.9M1170.4 575.8Q1176.6 571.4 1181.7 570M1174.6 561.8Q1169 556.1 1165.1 551.7M1173.6 565.9C1175.6 565.9 1183.6 565.9 1185.6 565.9M1179.6 565.9Q1184.5 572.6 1192 579.6M1033.8 608.8C1031.5 605.7 1023.5 595 1019.8 589.9C1016.2 584.7 1013.2 579.9 1011.8 577.9M1027.3 600.1Q1017.6 601.3 1009.2 603M1017.2 586.1Q1019 581.2 1022.7 577.9M1033.8 608.8C1035.5 606 1039.5 598.7 1043.8 591.9C1048.1 585 1056.4 575.9 1059.8 567.9C1063.1 559.9 1063.1 547.9 1063.8 543.9M1037.8 601.9Q1042.2 601.1 1048 602.4M1047.7 586.4Q1055.6 588.7 1063.5 590.3M1059.8 567.9Q1056 560.8 1049.6 552.5M1063.3 548.2Q1067.5 544.2 1070.8 542.8M1033.8 608.8C1031.5 609.3 1026.2 610.7 1019.8 611.8C1013.5 613 1001.5 615.8 995.9 615.8C990.2 615.8 989.9 612.8 985.9 611.8C981.9 610.8 974.2 610.2 971.9 609.8M1028.3 610.1Q1026.4 613 1023.9 618.3M1014.2 613Q1011.4 619.6 1011.1 628M995.9 615.8Q993.9 607.3 992 601.1M988.3 612.9Q985.6 608 985.1 601.6M978.3 610.6Q975.1 607.3 974.8 601.3M985.9 615.8C985.2 617.8 982.6 625.8 981.9 627.8M983.9 621.8Q990.7 628.5 996 636.4M1033.8 608.8C1035.5 611.3 1040.1 618.7 1043.8 623.8C1047.5 629 1053.1 634.1 1055.8 639.8C1058.4 645.5 1058.4 653.5 1059.8 657.8C1061.1 662.1 1063.1 664.4 1063.8 665.8M1038.1 615.3Q1043.2 614.2 1049.2 615M1046.8 627.7Q1045.6 635.9 1042.6 642.5M1055.8 639.8Q1063.3 641.1 1072.5 642.4M1059 653.9Q1067.5 654.5 1076.2 656.9M1062 662.9Q1060.5 673.4 1056 681.2M1033.8 608.8C1032.8 610.7 1031.5 616.7 1027.8 619.8C1024.2 623 1017.2 623.8 1011.8 627.8C1006.5 631.8 1001.9 639.1 995.9 643.8C989.9 648.5 983.5 653.1 975.9 655.8C968.2 658.4 957.3 659.8 949.9 659.8C942.6 659.8 935 656.4 932 655.8M1031.8 613.8Q1032.6 620.5 1034.3 627.3M1011.8 627.8Q1013.2 634.5 1012.7 643.6M1000.1 639.9Q992 636.2 984.1 634.4M986.5 650.5Q977.6 649.1 967.3 647.9M969.6 657.5Q966.8 661.2 966.1 666.9M1146.7 607.8C1145.5 605.2 1142.5 597.2 1139.7 591.9C1136.8 586.5 1131.3 578.6 1129.7 575.9M1143.8 600.9Q1147.3 594.7 1150.5 590.7M1137.1 587.5Q1127.4 587.7 1118 585.7M1146.7 607.8C1148.8 607.2 1154.1 606.5 1159.6 603.9C1165.1 601.2 1173.6 592.5 1179.6 591.9C1185.6 591.2 1192.3 596.9 1195.6 599.9C1198.9 602.9 1198.9 608.2 1199.6 609.8M1164.2 601Q1172 601.1 1178.2 602.2M1179.6 591.9Q1188.1 588.2 1194.3 583.5M1198.6 605.4Q1203.6 608.2 1211.5 611.5M1146.7 607.8C1147.8 610.5 1151.5 618.5 1153.6 623.8C1155.8 629.2 1155.3 634.8 1159.6 639.8C1164 644.8 1171.6 650.5 1179.6 653.8C1187.6 657.1 1202.9 658.8 1207.6 659.8M1149.8 614.8Q1153.6 615.6 1159.5 615.7M1154.9 627.9Q1161.1 632.4 1167 635.3M1159.6 639.8Q1166.1 640 1171 640.2M1173.7 650.9Q1180.8 647.9 1187.8 644.8M1194.8 657.7Q1199.1 664.6 1203.4 673.1M1146.7 607.8C1143.8 608.5 1137.5 610.2 1129.7 611.8C1121.9 613.5 1108.7 618.5 1099.7 617.8C1090.7 617.2 1079.7 609.5 1075.8 607.8M1140 609.5Q1133.5 601.9 1128.7 594.6M1123 613.6Q1118.5 609.8 1115.6 608.6M1099.7 617.8Q1097.4 622.2 1093.7 625.6M1079.9 610Q1077.2 613.1 1071.8 616.9M1146.7 607.8C1143.8 609.8 1137.5 616.2 1129.7 619.8C1121.9 623.5 1109.7 627.2 1099.7 629.8C1089.7 632.5 1078.4 634.5 1069.8 635.8C1061.1 637.1 1051.5 637.5 1047.8 637.8M1140 613.2Q1138.5 619.1 1136.8 626M1123.1 622.6Q1116.7 620.5 1111.3 618.7M1099.7 629.8Q1093.2 624.4 1086.6 621.6M1056.9 637.2Q1053.9 639.9 1048.4 644.6M1246.5 612.8C1243.4 612.3 1233.4 611.7 1227.5 609.8C1221.7 608 1214.2 603.2 1211.6 601.9M1238 611.8Q1236.9 603.9 1233.1 596.5M1223 608Q1221.3 604.1 1222.3 599M1246.5 612.8C1242 612.7 1230.7 612 1219.6 611.8C1208.4 611.7 1187.9 612.5 1179.6 611.8C1171.3 611.2 1171.3 608.5 1169.6 607.8M1235.5 612.3Q1231.2 614.3 1229.4 617.8M1209.8 611.9Q1202.4 617 1195.2 623M1179.6 611.8Q1178.5 609.3 1176 604.1M1246.5 612.8C1248.7 614 1254.7 616 1259.5 619.8C1264.3 623.7 1271.5 631.1 1275.5 635.8C1279.5 640.5 1279.5 643.1 1283.5 647.8C1287.5 652.5 1295.4 658.1 1299.4 663.8C1303.4 669.4 1306.1 678.7 1307.4 681.7M1252 615.3Q1257.1 614.7 1263.4 612.6M1263.5 623.3Q1273.8 622 1281.1 623.5M1275.5 635.8Q1280.8 636.4 1286.4 636M1281.1 644.6Q1279.9 653 1275.8 662.5M1291.5 655.4Q1301.1 655.4 1309.4 654.5M1302.2 668.5Q1294.4 675.3 1289.5 681.3M1275.5 657.8C1280.1 654.1 1298.8 639.5 1303.4 635.8M987.9 675.8C984.9 674.8 976.2 672.8 969.9 669.8C963.6 666.8 953.3 659.8 949.9 657.8M980.1 673.5Q972.7 677 963.1 679.5M964.6 666.9Q959.8 668.2 957 670.8M987.9 675.8C985.9 676.4 982.2 678.4 975.9 679.7C969.6 681.1 956.9 683.2 949.9 683.7C942.9 684.2 936.6 682.9 934 682.7M983.5 677.5Q977.1 669.4 970.5 662.8M949.9 683.7Q944.1 679.2 940.7 676M936.6 683Q933 684.7 930.9 688.8M987.9 675.8C988.5 673.1 989.2 663.4 991.9 659.8C994.5 656.1 1001.9 654.8 1003.9 653.8M989.1 668.1Q986.2 662.1 982.5 658.6M987.9 675.8C989.2 678.4 994.2 686.1 995.9 691.7C997.5 697.4 998.9 703.4 997.9 709.7C996.9 716 993.5 723 989.9 729.7C986.2 736.3 981.6 744.7 975.9 749.7C970.2 754.6 959.3 758 955.9 759.6M997 696Q990.6 700.8 984.3 706.8M997.9 709.7Q1002.5 718.4 1004.8 726.4M992.5 724.6Q998 732.3 1003 738.1M983.6 740.3Q984.1 745.9 983.8 748.8M970.9 753.1Q964.4 750 957.1 745.8M1097.7 662.8C1094.7 660.9 1086.1 655.6 1079.7 651.8C1073.4 648 1066.4 641.1 1059.8 639.8C1053.1 638.5 1049.1 641.5 1039.8 643.8C1030.5 646.1 1011.2 651.1 1003.9 653.8C996.5 656.4 997.2 658.8 995.9 659.8M1090 658Q1087.1 660.6 1081.6 660.9M1074.9 648.5Q1069.6 652.3 1062.4 654.1M1059.8 639.8Q1053.5 645.8 1047.5 649.8M1045.9 642Q1040.8 635.3 1034.9 631.2M1021.1 648.7Q1015.3 642.2 1008.8 637.9M999.7 655.7Q992.3 655.6 983.7 654.4M1097.7 662.8C1099.7 664.9 1104.4 672.3 1109.7 675.8C1115 679.2 1124.7 679.7 1129.7 683.7C1134.7 687.7 1138 697.1 1139.7 699.7M1102.5 668.8Q1100.3 676.7 1100.5 682.2M1114.4 677.9Q1116.9 675.7 1119.7 671.6M1138.1 696.7Q1136 704.3 1131.4 714.4M1097.7 662.8C1098.1 665.6 1098.1 673.6 1099.7 679.7C1101.4 685.9 1105 693.1 1107.7 699.7C1110.4 706.4 1114.4 716.4 1115.7 719.7M1098.2 670Q1095 672.4 1089.8 674.7M1107.7 699.7Q1116.3 701.4 1125.4 705M1097.7 662.8C1100.1 660.9 1106.4 655.6 1111.7 651.8C1117 648 1123 643.8 1129.7 639.8C1136.3 635.8 1148 629.8 1151.6 627.8M1103.6 658Q1107.9 658 1113.2 659.1M1129.7 639.8Q1134.9 643 1137.6 645M1243.5 675.8C1240.2 675.8 1230.9 675.1 1223.5 675.8C1216.2 676.4 1205.6 678.4 1199.6 679.7C1193.6 681.1 1189.6 683.1 1187.6 683.7M1235 675.5Q1231.1 670.4 1224.9 667.9M1199.6 679.7Q1197.8 683.8 1195.1 687.1M1189.5 683Q1185.1 681.1 1179.1 677.4M1243.5 675.8C1245.5 673.1 1249.5 664.1 1255.5 659.8C1261.5 655.4 1275.5 651.5 1279.5 649.8M1248 668.4Q1245.8 662.7 1241.1 654.4M1261.2 656.6Q1265.5 650.3 1270.1 642.4M1243.5 675.8C1244.9 678.4 1249.8 685.1 1251.5 691.7C1253.2 698.4 1254.2 707.7 1253.5 715.7C1252.8 723.7 1250.2 733.7 1247.5 739.7C1244.9 745.7 1241.5 748.7 1237.5 751.6C1233.5 754.6 1225.9 756.6 1223.5 757.6M1247.4 682.2Q1243.7 689.9 1239.8 699.6M1252.6 697.2Q1248.9 703.1 1242.4 710.6M1253.5 715.7Q1245.5 720.3 1239.8 724M1249.5 734.5Q1242.5 737.1 1236.6 738.2M1243 746.8Q1242.9 751.3 1242.5 756.9M1234 753.7Q1233.3 761.9 1233.2 770.7M1043.8 712.7C1042.5 709.9 1038.1 701.2 1035.8 695.7C1033.5 690.2 1029.2 684.7 1029.8 679.7C1030.5 674.8 1034.8 669.4 1039.8 665.8C1044.8 662.1 1056.4 659.1 1059.8 657.8M1040.2 705.2Q1042.9 697.4 1045.5 689.1M1033.8 691.6Q1025 688.1 1016.8 683.7M1029.8 679.7Q1037.5 676.8 1048 676.6M1036.2 668.8Q1041.1 673.3 1048.6 675.2M1043.8 712.7C1046.5 712.5 1052.1 712.2 1059.8 711.7C1067.4 711.2 1079.7 709 1089.7 709.7C1099.7 710.4 1109.7 714.7 1119.7 715.7C1129.7 716.7 1142.3 716.7 1149.7 715.7C1157 714.7 1161.3 710.7 1163.6 709.7M1049.9 712.3Q1051.1 716.2 1054.7 722.2M1066.3 711.1Q1069.2 703.9 1071.2 695.2M1089.7 709.7Q1094.2 706.2 1098.3 705.5M1112.2 714.4Q1117 710 1122.1 704.1M1135.7 716.4Q1140.1 721.4 1145.1 728.1M1154.6 714.5Q1156.1 704.2 1159 695M1043.8 712.7C1044.5 715.5 1046.5 724.2 1047.8 729.7C1049.1 735.2 1051.1 743 1051.8 745.7M1048.9 734.1Q1052.5 736.2 1056.6 737.3M1043.8 712.7C1041.5 714.5 1035.5 720.5 1029.8 723.7C1024.2 726.8 1016.5 729 1009.8 731.7C1003.2 734.3 996.5 736.7 989.9 739.7C983.2 742.7 973.2 748 969.9 749.7M1038.1 717.7Q1037.8 725 1038.1 733.8M1025.2 725.9Q1020.8 724.2 1017.4 722.9M1009.8 731.7Q1007.7 735.1 1003.4 741.2M994.9 737.5Q990.8 745 988.3 754.1M978.6 745.2Q971.4 744.9 963.4 742.2M1172.6 705.7C1171.8 702.7 1168.8 693.7 1167.6 687.7C1166.5 681.7 1167 675.8 1165.6 669.8C1164.3 663.8 1160.6 654.8 1159.6 651.8M1170.2 697.8Q1165.1 696.4 1160.6 696.6M1165.6 669.8Q1160.6 669 1155.8 667M1160.8 655Q1150.7 653.8 1141.6 654.5M1172.6 705.7C1175.4 706.4 1183.4 708 1189.6 709.7C1195.8 711.4 1202.9 714 1209.6 715.7C1216.2 717.4 1224.5 717.4 1229.5 719.7C1234.5 722 1237.9 728 1239.5 729.7M1194.4 711.1Q1202.8 708.7 1209.2 703.4M1209.6 715.7Q1214.3 714.8 1220 711.1M1225.2 718.3Q1232.2 715 1240.2 709.8M1235.8 724.9Q1235.2 731.6 1235 739.4M1172.6 705.7C1172.5 708.4 1171.1 716 1171.6 721.7C1172.1 727.3 1174.9 736.7 1175.6 739.7M1171.9 712.6Q1168.7 718.4 1163.6 722.6M1172.4 726.5Q1178.9 729.5 1188.1 734.4M1172.6 705.7C1170.1 706.7 1163.1 709.4 1157.6 711.7C1152.1 714 1144.3 715.7 1139.7 719.7C1135 723.7 1131.3 733 1129.7 735.7M1166.3 708.2Q1162.2 704.3 1155.4 703.1M1153.2 713.4Q1149.9 709.4 1145.2 704.9M1046.8 761.6C1043.6 762 1034.3 764.3 1027.8 763.6C1021.3 763 1015.8 760.3 1007.8 757.6C999.9 755 987.9 750.6 979.9 747.7C971.9 744.7 963.2 741 959.9 739.7M1038.6 763Q1032.6 769.7 1026.8 774.7M1023.1 762.8Q1022.2 756.6 1021.3 753.4M986.5 750.1Q981.1 753.1 976.7 756.9M968.2 743Q961.6 745.9 957.1 749.3M1046.8 761.6C1049.6 761 1058.3 759 1063.8 757.6C1069.3 756.3 1077.1 754.3 1079.7 753.6M1054.3 759.9Q1060.3 764.9 1063.4 767.6M1046.8 761.6C1048.3 760 1050.3 756 1055.8 751.6C1061.3 747.3 1072.4 740 1079.7 735.7C1087.1 731.3 1096.4 727.3 1099.7 725.7M1049.8 757.6Q1051.2 752.5 1049.7 744.6M1060.8 747.9Q1062.3 741 1062.7 732.6M1096.2 727.3Q1095.9 720.9 1096.9 715.8M1179.6 755.6C1176.3 755.6 1166.3 756.6 1159.6 755.6C1153 754.6 1146.3 751.3 1139.7 749.7C1133 748 1126.3 747.7 1119.7 745.7C1113 743.7 1104.4 740.7 1099.7 737.7C1095.1 734.7 1093.1 729.3 1091.7 727.7M1170.9 756Q1166 751.4 1162.6 748.9M1139.7 749.7Q1135.2 745.6 1132.4 741.4M1124.7 746.9Q1116.2 753.6 1110.1 760.4M1179.6 755.6C1182.3 754.3 1190.3 750.3 1195.6 747.7C1200.9 745 1204.9 743.3 1211.6 739.7C1218.2 736 1231.5 728 1235.5 725.7M1199.4 745.8Q1203.8 748 1207.6 748.3M1211.6 739.7Q1213.5 730 1215.8 721.8M1231 728.3Q1234.2 720.4 1236.6 714.2M1179.6 755.6C1182.9 754.6 1193.6 751 1199.6 749.7C1205.6 748.3 1212.9 748 1215.6 747.7M1188.6 752.8Q1193.3 745.5 1200.7 736.8M1223.5 761.6C1224.2 760 1224.9 754.6 1227.5 751.6C1230.2 748.7 1234.5 742.5 1239.5 743.7C1244.5 744.8 1254.5 756.1 1257.5 758.6M1239.5 743.7Q1240.7 750.1 1243.6 754.7M1254.1 755.4Q1263.4 753.7 1271.6 754M1099.7 737.7C1101.4 739 1104.7 744.3 1109.7 745.7C1114.7 747 1124.7 747.3 1129.7 745.7C1134.7 744 1138 737.3 1139.7 735.7M1103.5 741.7Q1110.5 741.4 1114.6 740.1M1114.2 746.5Q1119.3 741.3 1125.3 736.6M1199.6 679.7C1200.2 681.7 1203.2 688.4 1203.6 691.7C1203.9 695.1 1201.9 698.4 1201.6 699.7M1201.7 685.2Q1208.9 687.6 1213.5 690.3M1203.5 694.2Q1209.3 698.4 1212.9 702.9M1189.6 709.7C1190.6 712.7 1193.3 723.4 1195.6 727.7C1197.9 732 1202.2 734.3 1203.6 735.7M1192.1 718.2Q1196.9 720.7 1200 723.9M1197.6 730.6Q1196 734.4 1195.3 740.3M1227.5 711.7C1228.2 714 1230.9 723.4 1231.5 725.7M1229.5 718.7Q1236.1 724.2 1240.8 726.8M1075.8 607.8C1077.8 609.8 1082.4 617.5 1087.7 619.8C1093.1 622.2 1104.4 621.5 1107.7 621.8M1080.5 613.7Q1085.8 611.9 1088.6 611.2M1092.6 621.1Q1099.3 627.8 1104.9 632.2M1079.7 735.7C1078.4 737.7 1073.8 744 1071.8 747.7C1069.8 751.3 1068.4 756 1067.8 757.6M1076 741Q1077.9 748.1 1081.7 755.3M1070.4 750.5Q1073.2 755.7 1076.8 763.2M1107.7 699.7C1105 698.4 1096.1 692.1 1091.7 691.7C1087.4 691.4 1083.4 696.7 1081.7 697.7M1100.3 695.4Q1093.8 695 1085.8 697.5M1011.8 627.8C1011.2 629.8 1008.5 637.8 1007.8 639.8M1009.8 633.8Q1001.9 636 995.1 638.7M949.9 659.8C949.6 657.8 948.3 649.8 947.9 647.8M948.9 653.8Q952.8 648 956.6 644M949.9 683.7C949.4 686.4 947.4 697.1 946.9 699.7M948.4 691.7Q942.9 695.9 936.7 698.2M1159.6 639.8C1158.3 641.8 1153 649.8 1151.6 651.8M1059.8 639.8C1060.8 637.8 1064.8 629.8 1065.8 627.8" fill="none" stroke="#4a3f98" stroke-width="2.1" stroke-linecap="round"/>
<path d="M1039.8 757.6C1039.5 753 1039.8 738.7 1037.8 729.7C1035.8 720.7 1033.8 711.4 1027.8 703.7C1021.8 696.1 1006.2 687.1 1001.9 683.7M940.9 676.8C942.8 677.6 946.1 681.4 951.9 681.7C957.8 682.1 971.9 679.2 975.9 678.7M989.9 659.8C991.5 653.8 996.2 634.5 999.9 623.8C1003.5 613.2 1004.5 603.9 1011.8 595.9C1019.2 587.9 1034.1 583.5 1043.8 575.9C1053.5 568.2 1064.4 556.9 1069.8 549.9C1075.1 542.9 1076.4 538.1 1075.8 534C1075.1 529.8 1067.4 526.5 1065.8 525M1091.7 727.7C1093.4 721.4 1098.7 700.1 1101.7 689.7C1104.7 679.4 1110 672.8 1109.7 665.8C1109.4 658.8 1105 653.5 1099.7 647.8C1094.4 642.1 1082.1 636.1 1077.8 631.8C1073.4 627.5 1074.4 623.5 1073.8 621.8M1109.7 665.8C1113 665.3 1121.4 662.6 1129.7 662.8C1138 662.9 1149.7 667.9 1159.6 666.8C1169.6 665.6 1179.6 660.9 1189.6 655.8C1199.6 650.6 1214.6 639.1 1219.6 635.8M1091.7 727.7C1094.7 728 1104.4 728.2 1109.7 729.7C1115 731.2 1118.7 736 1123.7 736.7C1128.7 737.3 1133 736.2 1139.7 733.7C1146.3 731.2 1159.6 723.7 1163.6 721.7M1123.7 736.7C1123.5 740.5 1122 750.8 1122.7 759.6C1123.4 768.5 1124 782.4 1127.7 789.6C1131.3 796.8 1141.8 800.4 1144.7 802.6M1037.8 761.6C1042.1 758.6 1054.8 749.3 1063.8 743.7C1072.8 738 1087.1 730.3 1091.7 727.7" fill="none" stroke="#df5257" stroke-width="4.2" stroke-linecap="round" stroke-linejoin="round"/>
<circle cx="1065.8" cy="525" r="3" fill="#df5257"/>
<circle cx="1073.8" cy="621.8" r="3" fill="#df5257"/>
<circle cx="1219.6" cy="635.8" r="3" fill="#df5257"/>
<circle cx="1163.6" cy="721.7" r="3" fill="#df5257"/>
<circle cx="940.9" cy="676.8" r="3" fill="#df5257"/>
<g fill="#7d73c2"><path d="M1125.6 552.4L1124.6 552.6L1123.1 552.8L1121.4 553.1L1119.6 553.4L1117.6 553.7L1115.4 554L1113.1 554.3L1110.8 554.7L1108.5 555.2L1106.1 555.6L1103.8 556.1L1102.1 556.5L1101 556.7L1100.3 556.9L1099.9 557L1099.6 557.1L1099.9 558.7L1100.2 558.7L1100.5 558.7L1101.2 558.7L1102.3 558.8L1104 558.9L1106.3 559.1L1108.7 559.3L1111 559.5L1113.2 559.8L1115.5 560.1L1117.7 560.4L1119.7 560.6L1121.5 560.9L1123.2 561.1L1124.7 561.3L1125.7 561.4Z"/><path d="M1124.5 561.3L1125 561.3L1125.7 561.4L1126.6 561.6L1127.5 561.7L1128.6 561.9L1129.7 562L1130.7 562.2L1131.8 562.4L1133 562.6L1134.2 562.9L1135.5 563.2L1136.7 563.5L1138 564L1139.4 564.6L1140.8 565.2L1142.4 565.9L1144.2 566.8L1146.3 567.8L1148.2 568.8L1149.5 569.5L1150 569.8L1150.9 568.3L1150.6 568.1L1150.5 568.1L1149.6 569.4L1149.7 569.5L1149.9 569.7L1151 568.3L1150.6 567.9L1149.5 566.9L1147.9 565.5L1146.1 563.9L1144.5 562.6L1143.2 561.4L1141.8 560.4L1140.5 559.4L1139.2 558.5L1137.9 557.7L1136.5 556.9L1135.3 556.3L1134.1 555.7L1132.9 555.1L1131.7 554.6L1130.7 554.2L1129.8 553.8L1128.9 553.5L1128.1 553.1L1127.4 552.8L1126.9 552.6Z"/><path d="M1037.4 606.2L1036.8 605.5L1035.8 604.5L1034.7 603.3L1033.5 602.1L1032.2 600.8L1030.7 599.3L1029.3 597.8L1027.8 596.3L1026.4 594.8L1025 593.3L1023.7 591.9L1022.4 590.6L1021.2 589.3L1020.1 588.1L1019.1 587.1L1018.5 586.3L1018.2 586L1016.8 587L1017 587.2L1017.1 587.3L1018.4 586.4L1018.3 586.3L1018.2 586.1L1016.8 587L1017 587.4L1017.4 588.2L1018.1 589.5L1018.9 591L1019.7 592.5L1020.6 594.2L1021.5 595.9L1022.5 597.7L1023.5 599.5L1024.5 601.3L1025.5 603.1L1026.5 604.9L1027.4 606.6L1028.3 608.1L1029.1 609.5L1029.7 610.7L1030.2 611.5Z"/><path d="M1037.7 611.1L1038 610.4L1038.4 609.5L1038.8 608.4L1039.3 607.2L1039.8 605.9L1040.4 604.5L1041 603.1L1041.6 601.6L1042.3 600L1042.9 598.4L1043.6 596.8L1044.4 595.1L1045.2 593.3L1046.2 591.4L1047 589.6L1047.8 588.2L1048.3 587.2L1048.7 586.5L1049 586L1049.2 585.7L1047.9 584.7L1047.6 585L1047.2 585.4L1046.6 586L1045.8 586.8L1044.7 588.1L1043.4 589.6L1042 591.2L1040.6 592.7L1039.5 594.2L1038.3 595.7L1037.2 597.1L1036.2 598.4L1035.2 599.7L1034.2 601L1033.3 602.2L1032.5 603.3L1031.7 604.3L1031 605.2L1030.3 606L1029.9 606.6Z"/><path d="M1032.8 604.5L1032.3 604.6L1031.7 604.9L1030.9 605.2L1030 605.5L1029.1 605.8L1028.2 606.2L1027.1 606.6L1026.1 607L1024.9 607.4L1023.7 607.8L1022.5 608.2L1021.1 608.7L1019.7 609.2L1018.3 609.7L1016.7 610.2L1015.1 610.7L1013.1 611.4L1010.9 612.2L1008.8 612.9L1007.4 613.3L1006.9 613.5L1007.3 615.2L1007.6 615.1L1007.8 615.1L1007.4 613.5L1007.3 613.5L1006.9 613.5L1007.2 615.2L1007.8 615.2L1009.3 615.1L1011.4 615L1013.8 614.8L1015.8 614.7L1017.6 614.6L1019.2 614.5L1020.8 614.4L1022.3 614.3L1023.7 614.2L1025 614.1L1026.3 614L1027.6 613.9L1028.8 613.8L1029.9 613.7L1030.9 613.6L1031.9 613.5L1032.8 613.4L1033.6 613.3L1034.3 613.3L1034.8 613.2Z"/><path d="M1030 611.3L1030.5 611.8L1031.1 612.6L1031.9 613.4L1032.7 614.4L1033.6 615.4L1034.6 616.4L1035.6 617.6L1036.6 618.8L1037.6 619.9L1038.7 621.1L1039.8 622.3L1040.9 623.5L1042 624.6L1043.1 625.8L1044.1 626.8L1045.1 627.8L1046.1 628.7L1046.9 629.5L1047.7 630.1L1048.2 630.6L1049.4 629.5L1049.1 628.9L1048.5 628.1L1047.9 627.1L1047.3 626.1L1046.6 624.9L1045.9 623.6L1045.2 622.3L1044.5 620.9L1043.8 619.6L1043.1 618.2L1042.4 616.7L1041.8 615.3L1041.1 614L1040.5 612.6L1039.9 611.3L1039.3 610.1L1038.8 608.9L1038.3 607.9L1037.9 607L1037.6 606.4Z"/><path d="M1029.6 607.2L1029.5 607.6L1029.4 608.3L1029.2 609.1L1028.9 609.9L1028.7 610.8L1028.5 611.8L1028.3 612.7L1028 613.5L1027.7 614.4L1027.4 615.3L1027 616.1L1026.7 616.8L1026.2 617.4L1025.6 618.1L1024.9 618.7L1024.1 619.4L1023.2 620L1022.2 620.6L1021 621.3L1019.8 622L1018.5 622.8L1017 623.6L1015.7 624.4L1014.8 624.9L1014.5 625.1L1015.2 626.7L1015.4 626.6L1015.5 626.5L1014.9 625L1014.8 625.1L1014.5 625.1L1015.2 626.7L1015.6 626.6L1016.6 626.3L1018 625.9L1019.6 625.5L1021.1 625.1L1022.4 624.7L1023.7 624.4L1025.1 624.1L1026.4 623.6L1027.6 623L1028.8 622.4L1030 621.7L1031.1 620.8L1032.1 619.8L1033 618.8L1033.7 617.7L1034.4 616.8L1035.1 615.7L1035.7 614.6L1036.2 613.7L1036.6 613L1037 612.2L1037.4 611.5L1037.8 610.9L1038 610.5Z"/><path d="M1150.8 606.1L1150.5 605.6L1150 604.7L1149.5 603.8L1148.9 602.7L1148.2 601.6L1147.5 600.4L1146.8 599L1146 597.7L1145.2 596.4L1144.4 595.1L1143.6 593.7L1142.8 592.4L1141.9 591.2L1141 590L1140.1 588.8L1139.2 587.5L1138.1 586.1L1136.9 584.6L1135.8 583.3L1135 582.4L1134.7 582L1133.3 583L1133.5 583.2L1133.6 583.3L1134.9 582.5L1134.8 582.3L1134.7 582.1L1133.3 583L1133.5 583.4L1134 584.5L1134.7 586L1135.5 587.7L1136.2 589.3L1136.8 590.7L1137.3 592L1137.8 593.3L1138.3 594.7L1138.7 596L1139.2 597.5L1139.6 598.9L1140 600.3L1140.4 601.7L1140.8 603.1L1141.1 604.5L1141.5 605.7L1141.8 606.9L1142.1 608L1142.3 608.9L1142.5 609.6Z"/><path d="M1147.7 612.2L1148.1 612.1L1148.8 611.8L1149.5 611.5L1150.3 611.2L1151.2 610.9L1152.1 610.5L1153.2 610.1L1154.3 609.7L1155.4 609.2L1156.6 608.6L1157.9 608L1159.2 607.3L1160.5 606.5L1161.8 605.5L1163.1 604.6L1164.4 603.4L1165.9 602.1L1167.5 600.6L1169 599.2L1170.1 598L1170.9 597.3L1171.4 596.8L1171.8 596.5L1172 596.3L1171.1 595L1170.8 595.1L1170.4 595.3L1169.7 595.7L1168.8 596.2L1167.3 597L1165.6 598L1163.7 599L1162.1 599.9L1160.6 600.5L1159.3 601.1L1158 601.5L1156.8 601.9L1155.6 602.2L1154.5 602.4L1153.4 602.6L1152.3 602.8L1151.3 602.9L1150.3 603L1149.4 603.1L1148.4 603.2L1147.5 603.3L1146.8 603.4L1146.1 603.4L1145.6 603.5Z"/><path d="M1142.5 609.7L1142.9 610.3L1143.4 611.1L1144 612L1144.6 613.1L1145.3 614.2L1146.1 615.4L1146.9 616.7L1147.7 618L1148.4 619.2L1149.2 620.6L1150 621.8L1150.7 623L1151.4 624.2L1152 625.3L1152.5 626.4L1153 627.5L1153.6 628.7L1154 630L1154.5 631.2L1154.8 632.2L1155.1 632.9L1155.3 633.3L1155.4 633.6L1155.5 633.8L1157 633.3L1157 633.1L1157 632.8L1156.9 632.4L1156.8 631.7L1156.7 630.7L1156.6 629.4L1156.5 628L1156.3 626.6L1156.1 625.3L1155.8 624L1155.5 622.6L1155.2 621.3L1154.8 619.8L1154.4 618.3L1153.9 616.8L1153.5 615.4L1153.1 613.9L1152.7 612.5L1152.3 611.1L1151.9 609.9L1151.5 608.7L1151.2 607.6L1151 606.7L1150.8 606Z"/><path d="M1145.6 603.5L1145 603.7L1144.2 604L1143.3 604.4L1142.3 604.8L1141.2 605.2L1140 605.6L1138.8 606.1L1137.4 606.6L1136.1 607.1L1134.6 607.7L1133 608.2L1131.4 608.8L1129.6 609.5L1127.7 610.2L1125.8 610.9L1124 611.6L1122.3 612.3L1120.6 613L1119.1 613.7L1118.1 614.1L1118.6 615.6L1119.7 615.5L1121.2 615.2L1123 615L1124.8 614.7L1126.7 614.5L1128.7 614.3L1130.7 614.1L1132.6 613.9L1134.3 613.7L1135.9 613.5L1137.5 613.4L1139 613.2L1140.4 613.1L1141.8 612.9L1143 612.8L1144.2 612.6L1145.3 612.5L1146.3 612.4L1147.1 612.3L1147.7 612.2Z"/><path d="M1143.8 604.4L1143.3 604.9L1142.6 605.7L1141.7 606.6L1140.8 607.6L1139.7 608.7L1138.7 609.8L1137.6 611L1136.4 612.1L1135.2 613.3L1133.8 614.5L1132.5 615.7L1131 616.9L1129.3 618L1127.3 619.3L1125.4 620.4L1124.1 621.1L1123.6 621.5L1124.4 623L1124.7 622.9L1124.8 622.8L1124.2 621.3L1124 621.3L1123.7 621.4L1124.4 623.1L1124.9 622.9L1126.3 622.5L1128.4 621.9L1130.8 621.2L1132.9 620.5L1134.9 619.7L1136.7 618.8L1138.4 617.9L1140 617.1L1141.6 616.2L1143.1 615.3L1144.5 614.4L1145.7 613.7L1146.8 613L1147.9 612.3L1148.8 611.7L1149.5 611.3Z"/><path d="M1247 608.4L1246.3 608.4L1245.2 608.4L1243.9 608.4L1242.6 608.4L1241.1 608.5L1239.5 608.5L1237.9 608.5L1236.3 608.5L1234.7 608.5L1233 608.5L1231.4 608.4L1229.9 608.3L1228.5 608.1L1227.1 607.8L1225.7 607.5L1224.4 607.2L1223.3 606.9L1222.2 606.5L1221.2 606.2L1220.5 605.9L1219.8 607.3L1220.4 607.7L1221.2 608.3L1222.3 609L1223.4 609.7L1224.6 610.4L1225.9 611.1L1227.3 611.8L1228.9 612.4L1230.5 613L1232.1 613.6L1233.8 614.1L1235.4 614.6L1237 615L1238.7 615.4L1240.3 615.8L1241.7 616.2L1243 616.5L1244.2 616.9L1245.3 617.1L1246 617.3Z"/><path d="M1246.7 608.3L1245.7 608.4L1244.4 608.6L1242.7 608.7L1241 608.9L1239.1 609L1237.1 609.2L1234.9 609.4L1232.7 609.6L1230.2 609.9L1227.5 610.2L1224.9 610.4L1222.9 610.6L1221.6 610.8L1220.6 610.9L1220 611L1219.6 611L1219.5 612.6L1220 612.7L1220.6 612.8L1221.5 612.9L1222.9 613.2L1224.9 613.5L1227.4 613.9L1230 614.4L1232.5 614.8L1234.7 615.2L1236.8 615.6L1238.8 616L1240.6 616.3L1242.4 616.6L1244 616.9L1245.4 617.2L1246.3 617.3Z"/><path d="M1244.7 616.9L1245.2 617.1L1245.9 617.3L1246.7 617.6L1247.7 617.9L1248.7 618.2L1249.7 618.5L1250.8 618.8L1251.9 619.1L1253 619.5L1254.2 620L1255.3 620.4L1256.4 621L1257.6 621.6L1258.8 622.3L1260 623.1L1261.3 623.9L1262.9 625L1264.5 626.2L1266.1 627.4L1267.1 628.2L1267.6 628.5L1268.7 627.2L1268.5 627L1268.4 626.9L1267.2 628.1L1267.3 628.2L1267.5 628.4L1268.8 627.2L1268.5 626.8L1267.6 625.8L1266.5 624.3L1265.1 622.6L1263.9 621.1L1262.8 619.8L1261.8 618.7L1260.7 617.6L1259.6 616.5L1258.4 615.5L1257.3 614.6L1256.1 613.8L1255.1 613L1254 612.2L1252.9 611.6L1251.9 611L1251 610.4L1250.2 609.9L1249.5 609.4L1248.8 609L1248.4 608.7Z"/><path d="M989.1 671.4L988.4 671.3L987.4 671.2L986.2 671L985 670.8L983.6 670.6L982.1 670.4L980.6 670.2L979 670L977.5 669.7L975.9 669.4L974.3 669L972.7 668.7L971 668.2L969.3 667.6L967.6 667L966.3 666.5L965.3 666.2L964.7 665.9L964.2 665.7L963.8 665.5L963 666.9L963.3 667.2L963.7 667.5L964.3 668L965.2 668.6L966.3 669.4L967.8 670.5L969.4 671.6L971 672.6L972.6 673.5L974.1 674.3L975.7 675.1L977.2 675.8L978.7 676.5L980.1 677.2L981.5 677.8L982.8 678.3L983.9 678.9L985 679.4L986 679.8L986.6 680.1Z"/><path d="M986.2 671.6L985.8 671.8L985.3 672.1L984.7 672.4L984 672.8L983.3 673.2L982.6 673.6L981.9 674L981.1 674.4L980.1 674.9L979.2 675.4L978.1 675.8L977 676.3L975.7 676.8L974.3 677.3L972.7 677.8L971 678.4L969 679L966.8 679.7L964.7 680.4L963 680.9L961.8 681.2L961.1 681.5L960.5 681.6L960.2 681.7L960.4 683.3L960.8 683.3L961.3 683.3L962.2 683.3L963.4 683.2L965.1 683.2L967.4 683.1L969.7 683L971.8 682.9L973.7 682.8L975.3 682.6L976.9 682.5L978.5 682.3L979.9 682.1L981.2 681.9L982.4 681.7L983.5 681.5L984.6 681.2L985.6 681L986.4 680.7L987.2 680.5L987.9 680.4L988.6 680.2L989.1 680L989.5 679.9Z"/><path d="M992.3 676.5L992.3 675.8L992.4 674.8L992.4 673.7L992.4 672.5L992.5 671.1L992.5 669.7L992.5 668.3L992.6 666.9L992.7 665.6L992.9 664.3L993.1 663.1L993.3 662.2L993.6 661.4L994 660.7L994.4 660L995 659.3L995.8 658.7L996.7 658L997.7 657.4L998.6 656.9L999.3 656.5L1000.1 656.1L1000.7 655.8L1001.1 655.6L1000.7 654.1L1000.2 654.1L999.5 654.3L998.6 654.4L997.7 654.7L996.6 655L995.4 655.3L994.1 655.8L992.9 656.3L991.8 657L990.8 657.8L989.9 658.8L989 659.9L988.2 661.3L987.5 662.7L987 664.1L986.4 665.5L985.9 667L985.4 668.5L985 669.9L984.6 671.2L984.3 672.3L983.9 673.4L983.6 674.4L983.4 675Z"/><path d="M984 678L984.4 678.5L985 679.3L985.7 680.2L986.4 681.3L987.3 682.3L988.1 683.5L989 684.7L989.9 685.9L990.7 687.1L991.6 688.4L992.4 689.6L993.1 690.8L993.7 692L994.2 693.1L994.7 694.3L995.2 695.5L995.7 696.9L996.2 698.4L996.7 699.7L997 700.6L997.1 701L998.8 700.6L998.7 700.4L998.6 700.3L997.1 700.6L997.1 700.8L997.1 701L998.8 700.7L998.7 700.3L998.7 699.3L998.6 697.9L998.5 696.3L998.4 694.8L998.2 693.4L998 692L997.8 690.6L997.5 689.1L997.1 687.6L996.6 686L996.1 684.5L995.5 683L995 681.5L994.4 680L993.8 678.6L993.3 677.4L992.9 676.2L992.4 675.1L992.1 674.2L991.8 673.5Z"/><path d="M1100.1 658.9L1099.3 658.6L1098.3 658.1L1097.1 657.6L1095.7 657L1094.3 656.4L1092.8 655.7L1091.1 655L1089.5 654.2L1087.8 653.5L1086.1 652.7L1084.4 652L1082.8 651.3L1081.1 650.5L1079.4 649.7L1077.8 648.9L1076.5 648.3L1075.6 647.8L1075.1 647.5L1074.7 647.3L1074.4 647.1L1073.4 648.4L1073.7 648.6L1074 649L1074.5 649.5L1075.3 650.1L1076.3 651.1L1077.7 652.2L1079.2 653.5L1080.6 654.7L1082.1 655.9L1083.5 657L1085 658.2L1086.4 659.3L1087.8 660.5L1089.2 661.6L1090.5 662.7L1091.7 663.6L1092.8 664.5L1093.9 665.4L1094.7 666.1L1095.4 666.6Z"/><path d="M1094.2 665.6L1094.7 666L1095.4 666.7L1096.2 667.5L1097.1 668.3L1098 669.2L1099.1 670.2L1100.2 671.3L1101.4 672.4L1102.6 673.4L1103.9 674.4L1105.3 675.5L1106.8 676.4L1108.3 677.2L1109.9 677.9L1111.4 678.4L1112.8 678.9L1114.2 679.2L1115.5 679.4L1116.6 679.6L1117.4 679.7L1117.8 678.2L1117.1 677.8L1116.1 677.4L1115 676.9L1113.9 676.2L1112.8 675.5L1111.6 674.6L1110.5 673.7L1109.5 672.8L1108.6 671.8L1107.8 670.6L1106.9 669.4L1106.1 668.2L1105.4 667L1104.6 665.8L1103.9 664.6L1103.3 663.4L1102.6 662.4L1102.1 661.4L1101.6 660.6L1101.3 660Z"/><path d="M1093.2 663.1L1093.4 663.7L1093.5 664.6L1093.8 665.7L1094 666.8L1094.2 668L1094.5 669.3L1094.8 670.8L1095.1 672.3L1095.5 673.8L1095.9 675.3L1096.3 676.8L1096.8 678.4L1097.3 679.9L1097.9 681.3L1098.6 682.7L1099.3 684.1L1100.1 685.7L1101 687.4L1101.9 688.9L1102.5 689.9L1102.7 690.3L1104.3 689.6L1104.2 689.4L1104.1 689.2L1102.6 689.8L1102.6 690L1102.7 690.2L1104.3 689.6L1104.2 689.2L1103.9 688.1L1103.4 686.4L1103 684.6L1102.6 683L1102.3 681.5L1102.1 680.1L1101.9 678.7L1101.7 677.3L1101.7 675.9L1101.6 674.5L1101.7 673L1101.7 671.6L1101.7 670.2L1101.8 668.8L1101.9 667.5L1102 666.2L1102.1 665.1L1102.1 664L1102.2 663.1L1102.2 662.5Z"/><path d="M1100.6 666.3L1101 665.8L1101.7 665.1L1102.4 664.3L1103.3 663.4L1104.2 662.5L1105.1 661.5L1106.2 660.4L1107.2 659.4L1108.3 658.3L1109.4 657.2L1110.5 656.1L1111.6 655L1112.7 653.9L1113.7 652.9L1114.8 651.9L1116 650.9L1117.2 649.7L1118.6 648.5L1119.8 647.4L1120.7 646.6L1121 646.3L1120 644.9L1119.8 645.1L1119.7 645.2L1120.6 646.5L1120.8 646.4L1121 646.3L1120.1 644.9L1119.7 645.1L1118.6 645.6L1117.2 646.4L1115.5 647.2L1114 648L1112.6 648.8L1111.3 649.5L1109.9 650.2L1108.6 651L1107.2 651.8L1105.8 652.6L1104.4 653.4L1103.1 654.2L1101.8 655L1100.5 655.8L1099.3 656.5L1098.2 657.2L1097.2 657.8L1096.3 658.4L1095.5 658.9L1094.9 659.3Z"/><path d="M1243.7 671.3L1242.9 671.3L1241.8 671.4L1240.6 671.6L1239.2 671.7L1237.8 671.9L1236.2 672L1234.5 672.2L1232.8 672.4L1231.1 672.6L1229.3 672.9L1227.5 673.2L1225.7 673.5L1223.8 673.9L1221.9 674.4L1220.1 674.8L1218.7 675.2L1217.7 675.4L1217 675.6L1216.5 675.8L1216.1 675.9L1216.4 677.4L1216.8 677.4L1217.2 677.4L1217.9 677.4L1219 677.4L1220.4 677.5L1222.2 677.5L1224.1 677.6L1225.9 677.7L1227.6 677.8L1229.4 678.1L1231.1 678.3L1232.8 678.5L1234.4 678.8L1236 679L1237.6 679.3L1239 679.5L1240.3 679.7L1241.6 680L1242.6 680.1L1243.4 680.3Z"/><path d="M1247.4 678.1L1247.7 677.4L1248.1 676.4L1248.6 675.2L1249.2 674L1249.8 672.6L1250.4 671.1L1251.1 669.7L1251.8 668.3L1252.5 666.9L1253.4 665.4L1254.2 664.1L1255.2 662.8L1256.4 661.6L1257.8 660.4L1259.3 659.2L1260.5 658.3L1261.3 657.6L1262 657.2L1262.5 657L1262.9 656.8L1262.3 655.3L1261.9 655.4L1261.3 655.5L1260.4 655.8L1259.3 656.2L1257.9 656.8L1256.1 657.6L1254.2 658.5L1252.4 659.6L1250.8 660.8L1249.3 662.1L1248 663.4L1246.8 664.7L1245.6 666.1L1244.4 667.5L1243.4 668.8L1242.5 669.9L1241.7 671L1240.8 672L1240.2 672.8L1239.7 673.4Z"/><path d="M1239.7 678.1L1240.1 678.6L1240.7 679.3L1241.4 680.2L1242.1 681.2L1242.9 682.2L1243.8 683.3L1244.7 684.4L1245.5 685.5L1246.4 686.7L1247.2 687.9L1248 689.2L1248.7 690.5L1249.3 691.9L1249.9 693.4L1250.5 694.9L1251 696.3L1251.4 697.6L1251.8 698.9L1252.1 700L1252.3 700.8L1253.9 700.6L1253.9 699.8L1253.9 698.6L1253.9 697.2L1253.8 695.7L1253.7 694.2L1253.6 692.5L1253.4 690.8L1253.1 689L1252.7 687.3L1252.2 685.6L1251.7 684L1251.2 682.5L1250.6 681L1250 679.6L1249.4 678.3L1248.9 677.1L1248.5 676L1248 674.9L1247.6 674.1L1247.4 673.5Z"/><path d="M1047.9 710.7L1047.4 710.1L1046.9 709.3L1046.2 708.2L1045.4 707.1L1044.6 705.9L1043.8 704.7L1042.9 703.3L1042 702L1041.1 700.6L1040.2 699.3L1039.3 697.9L1038.5 696.6L1037.7 695.3L1036.9 694.1L1036.1 692.9L1035.4 691.9L1034.7 690.9L1034.1 690L1033.6 689.3L1033.2 688.8L1031.8 689.5L1032 690.1L1032.3 691L1032.7 692L1033 693L1033.4 694.2L1033.8 695.5L1034.2 696.9L1034.6 698.3L1035.1 699.8L1035.6 701.4L1036 703L1036.5 704.5L1037 706.1L1037.5 707.7L1038 709.2L1038.4 710.5L1038.8 711.8L1039.2 713L1039.5 714L1039.7 714.7Z"/><path d="M1044.1 717.2L1044.6 717.1L1045.4 716.9L1046.3 716.8L1047.2 716.6L1048.2 716.4L1049.4 716.1L1050.5 715.9L1051.8 715.6L1053.2 715.4L1054.6 715.1L1056.1 714.8L1057.7 714.5L1059.5 714.1L1061.4 713.7L1063.3 713.2L1065 712.8L1066.7 712.4L1068.4 712L1069.8 711.6L1070.8 711.4L1070.7 709.8L1069.6 709.8L1068.1 709.7L1066.4 709.7L1064.7 709.6L1062.9 709.6L1061 709.5L1059.1 709.3L1057.3 709.2L1055.7 709.1L1054.2 709L1052.8 708.9L1051.4 708.8L1050.1 708.7L1048.9 708.6L1047.8 708.5L1046.7 708.5L1045.7 708.4L1044.8 708.3L1044.1 708.3L1043.5 708.2Z"/><path d="M1039.4 713.7L1039.7 714.4L1040 715.3L1040.4 716.3L1040.8 717.5L1041.3 718.7L1041.8 720.1L1042.4 721.5L1042.9 722.9L1043.4 724.3L1044 725.7L1044.5 727.1L1045 728.5L1045.5 729.8L1046 731.1L1046.5 732.3L1047 733.6L1047.6 735L1048.2 736.6L1048.8 738L1049.2 738.9L1049.3 739.3L1050.9 738.9L1050.9 738.7L1050.8 738.5L1049.3 738.9L1049.3 739.1L1049.3 739.3L1051 738.9L1050.9 738.5L1050.8 737.5L1050.6 736L1050.5 734.3L1050.3 732.8L1050.1 731.4L1050 730.1L1049.9 728.8L1049.7 727.4L1049.6 725.9L1049.4 724.4L1049.3 722.9L1049.1 721.4L1049 719.9L1048.8 718.4L1048.7 717L1048.6 715.7L1048.4 714.5L1048.3 713.3L1048.2 712.4L1048.2 711.7Z"/><path d="M1040.8 709.3L1040.4 709.8L1039.8 710.5L1039 711.4L1038.2 712.3L1037.4 713.3L1036.5 714.4L1035.5 715.5L1034.5 716.5L1033.5 717.6L1032.5 718.7L1031.4 719.8L1030.3 720.7L1029.2 721.7L1028 722.6L1026.7 723.4L1025.6 724.2L1024.6 724.9L1023.5 725.5L1022.6 726L1022 726.4L1022.6 727.8L1023.3 727.7L1024.3 727.4L1025.5 727.1L1026.8 726.7L1028.2 726.3L1029.6 725.8L1031.2 725.2L1032.7 724.6L1034.2 723.8L1035.7 723L1037.1 722.2L1038.5 721.4L1039.8 720.6L1041.1 719.7L1042.3 719L1043.4 718.3L1044.4 717.6L1045.4 717L1046.2 716.5L1046.8 716.1Z"/><path d="M1176.9 704.4L1176.6 703.8L1176.2 702.8L1175.7 701.7L1175.2 700.5L1174.6 699.2L1174 697.8L1173.3 696.4L1172.7 694.9L1172.1 693.5L1171.4 692L1170.8 690.5L1170.3 689.1L1169.8 687.8L1169.4 686.5L1169 685.2L1168.7 684L1168.4 682.5L1168 681L1167.8 679.7L1167.6 678.7L1167.5 678.3L1165.8 678.5L1165.9 678.7L1165.9 678.8L1167.5 678.7L1167.5 678.6L1167.5 678.3L1165.8 678.4L1165.8 678.8L1165.7 679.8L1165.6 681.2L1165.5 682.8L1165.5 684.3L1165.5 685.7L1165.6 687.2L1165.6 688.6L1165.8 690.1L1165.9 691.7L1166.1 693.4L1166.4 695L1166.6 696.7L1166.9 698.3L1167.1 699.9L1167.4 701.4L1167.6 702.8L1167.8 704.1L1168 705.3L1168.2 706.3L1168.3 707Z"/><path d="M1171.6 710.1L1172.3 710.2L1173.2 710.2L1174.3 710.3L1175.5 710.5L1176.8 710.6L1178.1 710.7L1179.6 710.8L1181 711L1182.5 711.1L1184 711.3L1185.6 711.4L1187.1 711.6L1188.5 711.8L1190 712L1191.4 712.2L1192.9 712.5L1194.6 712.7L1196.4 713.1L1198 713.4L1199.1 713.6L1199.6 713.7L1200 712L1199.8 712L1199.6 711.9L1199.2 713.5L1199.3 713.5L1199.5 713.6L1200.1 712L1199.7 711.8L1198.6 711.3L1197.1 710.6L1195.5 709.9L1193.9 709.2L1192.5 708.5L1191.1 707.9L1189.7 707.4L1188.3 706.8L1186.9 706.2L1185.4 705.7L1183.9 705.1L1182.5 704.6L1181.1 704.1L1179.7 703.6L1178.4 703.1L1177.2 702.6L1176.1 702.2L1175.1 701.9L1174.2 701.5L1173.6 701.3Z"/><path d="M1168.1 705.2L1168.2 705.8L1168.2 706.7L1168.2 707.7L1168.2 708.8L1168.3 710L1168.3 711.3L1168.3 712.7L1168.4 714.1L1168.5 715.6L1168.6 717L1168.8 718.5L1169 720L1169.2 721.5L1169.6 722.9L1170 724.3L1170.4 725.8L1171 727.4L1171.6 729.2L1172.2 730.8L1172.7 731.9L1172.8 732.3L1174.5 731.9L1174.4 731.6L1174.3 731.5L1172.8 731.9L1172.8 732L1172.8 732.3L1174.5 731.9L1174.5 731.5L1174.3 730.3L1174.2 728.6L1174 726.8L1173.9 725.1L1173.9 723.7L1173.9 722.4L1174 721.1L1174.1 719.8L1174.2 718.6L1174.5 717.3L1174.7 715.9L1175 714.6L1175.3 713.4L1175.6 712.1L1175.9 710.9L1176.2 709.7L1176.5 708.6L1176.7 707.6L1176.9 706.8L1177.1 706.2Z"/><path d="M1171 701.5L1170.4 701.8L1169.7 702.2L1168.8 702.7L1167.9 703.3L1166.8 703.8L1165.7 704.5L1164.5 705.1L1163.3 705.8L1162.1 706.5L1160.9 707.2L1159.6 707.9L1158.4 708.6L1157.2 709.3L1156 710L1154.7 710.7L1153.5 711.4L1152.1 712.2L1150.5 713L1149 713.7L1148 714.2L1147.6 714.4L1148.3 716L1148.5 715.9L1148.6 715.8L1148.1 714.3L1147.9 714.3L1147.7 714.4L1148.2 716L1148.6 715.9L1149.7 715.7L1151.3 715.4L1153.1 715L1154.7 714.7L1156.2 714.4L1157.5 714L1158.9 713.7L1160.3 713.3L1161.7 713L1163.1 712.6L1164.5 712.3L1165.8 711.9L1167.1 711.6L1168.4 711.3L1169.6 711L1170.8 710.7L1171.8 710.5L1172.8 710.2L1173.7 710L1174.3 709.9Z"/><path d="M1046.1 757.2L1045.3 757.4L1044.3 757.7L1043.2 758.1L1041.9 758.5L1040.5 758.9L1039 759.4L1037.5 759.9L1036 760.3L1034.5 760.7L1032.9 761.1L1031.4 761.4L1029.9 761.6L1028.5 761.7L1027 761.8L1025.6 761.7L1024.3 761.7L1023.1 761.6L1022.1 761.5L1021.2 761.3L1020.5 761.2L1020.1 762.8L1020.6 763L1021.5 763.4L1022.6 763.9L1023.8 764.3L1025.1 764.7L1026.5 765.2L1028.1 765.6L1029.8 765.9L1031.5 766.1L1033.3 766.2L1035 766.3L1036.8 766.3L1038.5 766.3L1040.2 766.3L1041.8 766.2L1043.2 766.2L1044.5 766.2L1045.7 766.1L1046.8 766.1L1047.5 766.1Z"/><path d="M1047.8 766L1048.5 765.8L1049.4 765.4L1050.4 765L1051.6 764.6L1052.8 764.1L1054.2 763.6L1055.6 763.1L1057 762.5L1058.4 762L1059.8 761.5L1061.2 760.9L1062.6 760.4L1063.9 759.9L1065.2 759.4L1066.4 758.9L1067.7 758.4L1069.1 757.8L1070.7 757.2L1072.1 756.7L1073 756.3L1073.4 756.1L1073 754.5L1072.8 754.6L1072.6 754.6L1073 756.2L1073.1 756.2L1073.4 756.1L1073 754.5L1072.6 754.5L1071.6 754.6L1070.1 754.8L1068.4 755L1066.9 755.2L1065.5 755.3L1064.2 755.4L1062.9 755.6L1061.5 755.7L1060 755.9L1058.5 756L1057 756.2L1055.5 756.3L1054 756.5L1052.5 756.6L1051.1 756.7L1049.8 756.9L1048.6 757L1047.4 757.1L1046.4 757.2L1045.8 757.3Z"/><path d="M1050.4 764.3L1050.6 764L1050.9 763.4L1051.3 762.8L1051.7 762.1L1052.1 761.3L1052.5 760.5L1053 759.8L1053.5 759L1054 758.1L1054.7 757.2L1055.4 756.2L1056.2 755.2L1057.2 754.1L1058.3 753L1059.5 751.8L1060.9 750.5L1062.6 748.9L1064.6 747.2L1066.4 745.6L1067.6 744.5L1068.1 744L1067 742.6L1066.8 742.9L1066.6 743L1067.5 744.3L1067.7 744.2L1068 744.1L1067.1 742.6L1066.5 742.9L1065 743.6L1062.9 744.7L1060.5 745.9L1058.4 747L1056.7 748L1055.1 748.9L1053.6 749.8L1052.3 750.7L1051 751.6L1049.8 752.5L1048.8 753.3L1047.9 754.1L1047 755L1046.2 755.8L1045.6 756.5L1045 757.1L1044.5 757.6L1043.9 758.2L1043.5 758.6L1043.2 758.9Z"/><path d="M1179.4 751.1L1178.7 751.3L1177.6 751.5L1176.3 751.7L1174.9 752L1173.4 752.3L1171.8 752.6L1170.2 752.9L1168.6 753.1L1166.9 753.4L1165.2 753.6L1163.5 753.8L1161.9 753.9L1160.3 754L1158.7 753.9L1157.1 753.8L1155.9 753.7L1155.1 753.7L1154.5 753.6L1154.2 753.5L1153.9 753.5L1153.4 755L1153.6 755.1L1154 755.3L1154.6 755.5L1155.4 755.9L1156.6 756.3L1158.1 756.8L1159.8 757.4L1161.5 757.8L1163.3 758.2L1165.1 758.5L1166.9 758.8L1168.6 759L1170.4 759.2L1172.1 759.4L1173.8 759.5L1175.3 759.7L1176.6 759.8L1177.9 760L1179 760.1L1179.8 760.1Z"/><path d="M1181.6 759.7L1182.2 759.3L1183 758.7L1184 758.1L1185 757.4L1186.1 756.6L1187.3 755.8L1188.6 754.9L1189.8 754L1191.1 753.2L1192.4 752.3L1193.7 751.4L1194.9 750.5L1196.1 749.8L1197.2 749L1198.3 748.3L1199.3 747.6L1200.5 746.8L1201.7 746L1202.7 745.3L1203.5 744.8L1203.8 744.6L1203 743.1L1202.8 743.2L1202.7 743.3L1203.4 744.8L1203.5 744.7L1203.7 744.7L1203 743.1L1202.7 743.2L1201.9 743.5L1200.6 743.9L1199.3 744.3L1198 744.7L1196.7 745.1L1195.5 745.6L1194.2 746L1192.9 746.4L1191.5 746.9L1190 747.4L1188.5 747.9L1187 748.4L1185.6 748.9L1184.1 749.4L1182.7 749.9L1181.5 750.3L1180.3 750.7L1179.2 751.1L1178.3 751.4L1177.6 751.6Z"/><path d="M1181 759.9L1181.7 759.6L1182.8 759.1L1184.1 758.4L1185.4 757.8L1186.9 757.1L1188.5 756.3L1190.1 755.5L1191.8 754.8L1193.4 754L1195 753.3L1196.6 752.6L1198.1 751.9L1199.6 751.4L1201 750.8L1202.4 750.4L1203.5 750L1204.2 749.8L1204.7 749.6L1205 749.6L1205.3 749.5L1205.1 747.9L1204.8 747.9L1204.5 747.9L1203.9 747.9L1203.1 747.9L1201.9 748L1200.5 748L1198.9 748.1L1197.2 748.3L1195.5 748.5L1193.7 748.8L1191.9 749L1190.1 749.3L1188.3 749.6L1186.4 749.9L1184.7 750.2L1183.1 750.5L1181.6 750.8L1180.2 751L1179.1 751.2L1178.2 751.4Z"/></g>
<ellipse cx="1125.7" cy="556.9" rx="13.9" ry="9.4" fill="#7d73c2" transform="rotate(-8 1125.7 556.9)"/>
<circle cx="1126.2" cy="557.4" r="6" fill="#5c54a8"/>
<ellipse cx="1033.8" cy="608.8" rx="11.2" ry="12.5" fill="#7d73c2" transform="rotate(-25 1033.8 608.8)"/>
<circle cx="1034.3" cy="609.3" r="6" fill="#5c54a8"/>
<ellipse cx="1146.7" cy="607.8" rx="11.2" ry="13" fill="#7d73c2" transform="rotate(-20 1146.7 607.8)"/>
<circle cx="1147.2" cy="608.3" r="6" fill="#5c54a8"/>
<ellipse cx="1246.5" cy="612.8" rx="13" ry="9.8" fill="#7d73c2" transform="rotate(25 1246.5 612.8)"/>
<circle cx="1247" cy="613.3" r="6" fill="#5c54a8"/>
<ellipse cx="987.9" cy="675.8" rx="11.6" ry="11.2" fill="#7d73c2" transform="rotate(0 987.9 675.8)"/>
<circle cx="988.4" cy="676.3" r="6" fill="#5c54a8"/>
<ellipse cx="1097.7" cy="662.8" rx="12.1" ry="12.5" fill="#7d73c2" transform="rotate(-25 1097.7 662.8)"/>
<circle cx="1098.2" cy="663.3" r="6" fill="#5c54a8"/>
<ellipse cx="1243.5" cy="675.8" rx="11.2" ry="13" fill="#7d73c2" transform="rotate(15 1243.5 675.8)"/>
<circle cx="1244" cy="676.3" r="6" fill="#5c54a8"/>
<ellipse cx="1043.8" cy="712.7" rx="11.2" ry="12.1" fill="#7d73c2" transform="rotate(-20 1043.8 712.7)"/>
<circle cx="1044.3" cy="713.2" r="6" fill="#5c54a8"/>
<ellipse cx="1172.6" cy="705.7" rx="11.2" ry="12.5" fill="#7d73c2" transform="rotate(-15 1172.6 705.7)"/>
<circle cx="1173.1" cy="706.2" r="6" fill="#5c54a8"/>
<ellipse cx="1046.8" cy="761.6" rx="13.4" ry="9.4" fill="#7d73c2" transform="rotate(-5 1046.8 761.6)"/>
<circle cx="1047.3" cy="762.1" r="6" fill="#5c54a8"/>
<ellipse cx="1179.6" cy="755.6" rx="13.4" ry="9.4" fill="#7d73c2" transform="rotate(-8 1179.6 755.6)"/>
<circle cx="1180.1" cy="756.1" r="6" fill="#5c54a8"/></g>
<g id="redneuron"><g fill="#d9565b"><path d="M842.3 945.8L841.5 941.5L840.4 935.4L839.1 928.3L837.8 920.9L836.6 913.9L835.8 907.9L835.4 903L835 898.6L834.9 894.6L834.9 890.9L835.2 887.2L835.7 883.5L836.4 879.6L837.4 875.8L838.5 872.1L839.9 868.5L841.6 864.9L843.6 861.3L845.9 857.7L848.6 854.2L851.4 850.6L854.6 847.2L858 844L861.8 841L865.8 838.2L870 835.5L874.6 833L879.5 830.7L884.8 828.5L890.4 826.5L896.5 824.8L903.3 823.3L910.4 822L917.8 820.7L925.2 819.4L932.5 817.9L939.7 816.2L947 814.5L954.4 812.7L961.6 810.9L968.5 809L975 807L981.1 805L986.9 803L992.4 800.8L997.6 798.6L1002.5 796.3L1007.2 794L1011.6 791.5L1015.6 788.9L1019.4 786.2L1022.8 783.6L1025.9 781.1L1028.7 778.8L1031.2 776.7L1033.4 774.6L1035.2 772.7L1036.7 771L1038.1 769.4L1039.5 768L1040.8 766.6L1042.1 765.3L1043.3 764.2L1044.3 763.1L1045.1 762.3L1045.8 761.6L1042.5 758.4L1041.9 759L1041 759.9L1040 760.9L1038.8 762L1037.5 763.3L1036.1 764.7L1034.7 766.2L1033.2 767.8L1031.7 769.5L1030 771.3L1028 773.1L1025.7 775.1L1022.9 777.3L1019.8 779.7L1016.5 782.2L1012.9 784.8L1009 787.2L1004.8 789.5L1000.4 791.7L995.6 793.9L990.5 796L985.1 798L979.4 800L973.4 801.9L967.1 803.8L960.2 805.6L953.1 807.4L945.7 809.1L938.4 810.7L931.3 812.3L924.1 813.7L916.8 814.9L909.4 816.1L902.1 817.4L895.1 818.8L888.6 820.6L882.6 822.7L877 824.9L871.8 827.4L866.9 830L862.3 832.8L857.9 835.8L853.8 839.1L850 842.6L846.5 846.3L843.3 850.1L840.5 853.9L837.9 857.8L835.7 861.8L833.7 865.8L832.1 869.8L830.8 873.9L829.7 878.1L828.9 882.3L828.3 886.5L827.9 890.6L827.8 894.7L828 899L828.3 903.6L828.7 908.7L829.5 914.9L830.6 922.1L831.9 929.6L833.1 936.7L834.2 942.8L835 947.1Z"/><path d="M859.7 970.8L859.1 969.2L858.2 967.1L857.2 964.5L856 961.7L854.8 958.8L853.6 956L852.3 953.4L851.1 951L849.9 948.7L848.7 946.5L847.6 944.4L846.5 942.1L845.4 939.4L844.3 936.5L843.2 933.4L842.1 930.3L841.1 927.2L840.2 924.3L839.3 921.3L838.5 918.2L837.7 915.1L837 912.2L836.4 909.7L836 907.9L828.6 908.7L828.5 910.6L828.5 913.1L828.5 916.1L828.5 919.5L828.5 922.9L828.7 926.2L828.9 929.5L829.1 932.9L829.5 936.4L829.8 939.9L830.3 943.3L830.8 946.6L831.4 949.7L832 952.6L832.7 955.3L833.3 957.8L833.9 960.1L834.3 962.3L834.7 964.8L835.2 967.6L835.6 970.5L836 973.2L836.4 975.5L836.6 977.2Z"/><path d="M865.3 967.6L867.7 966.8L871 965.6L874.9 964.3L879 962.9L882.9 961.6L886.2 960.4L888.8 959.7L891.2 959.2L893.6 958.8L896.3 958.1L899 957L901.8 955.2L904.5 952.8L907.3 950L910 946.9L912.5 943.6L914.8 940.2L916.7 936.9L918.3 933.3L919.5 929.5L920.4 925.7L921.1 922.1L921.6 919.2L922.1 917.1L919.6 916.5L919 918.6L918.2 921.5L917.2 924.8L916.1 928.4L914.7 931.8L913.1 934.8L911.1 937.7L908.8 940.7L906.2 943.6L903.5 946.3L900.8 948.6L898.4 950.4L896.4 951.5L894.5 952.1L892.5 952.4L890.2 952.7L887.4 953L884.3 953.6L880.8 954.5L876.8 955.6L872.6 956.6L868.6 957.7L865.2 958.6L862.8 959.2Z"/><path d="M900.3 954.5L901.4 954.4L902.9 954.2L904.8 954L906.8 953.8L908.8 953.5L910.8 953.3L912.7 953.2L914.6 953.1L916.6 953.1L918.8 952.9L921.2 952.6L923.7 952.1L926.7 951.2L930.1 950.1L933.7 948.7L937 947.4L939.8 946.3L941.9 945.5L940.9 943.1L938.9 943.8L936.1 944.9L932.7 946.1L929.2 947.4L925.9 948.5L923 949.2L920.7 949.7L918.6 949.9L916.5 950L914.5 950L912.5 950L910.6 950.1L908.5 950.3L906.4 950.5L904.4 950.7L902.6 950.9L901 951L899.9 951.1Z"/><path d="M916.4 954.9L917.6 955.6L919.2 956.5L921.1 957.6L923.2 958.7L925.3 959.7L927.3 960.4L929.3 960.7L931.2 960.8L933.1 960.8L934.8 960.6L936.2 960.5L937.2 960.5L937.1 957.9L936 957.9L934.6 958.1L933 958.2L931.2 958.3L929.5 958.2L927.9 957.9L926.3 957.4L924.3 956.5L922.3 955.4L920.4 954.4L918.8 953.4L917.6 952.8Z"/><path d="M872 991.5L874.4 991.7L877.7 991.9L881.6 992.2L885.8 992.5L889.9 992.7L893.5 992.8L896.6 992.8L899.5 992.9L902.3 992.8L905.1 992.7L908 992.5L911 992.1L914.2 991.6L917.6 991L921.1 990.3L924.6 989.4L927.9 988.2L931 986.7L933.6 984.6L935.7 982.1L937.4 979.5L938.9 977L940.3 974.8L941.6 973.1L943 971.6L944.6 970.3L946.1 969.1L947.5 968.1L948.7 967.2L949.6 966.6L948.1 964.4L947.2 965L945.9 965.7L944.4 966.7L942.7 967.8L940.9 969.1L939.1 970.7L937.3 972.6L935.6 974.9L934 977.2L932.3 979.3L930.5 981.2L928.5 982.5L926.1 983.4L923.3 984.2L920.1 984.7L916.8 985.1L913.5 985.3L910.3 985.6L907.5 985.7L904.9 985.7L902.4 985.6L899.8 985.4L897 985.1L894 984.8L890.5 984.4L886.6 983.9L882.6 983.3L878.7 982.7L875.4 982.2L873.1 981.9Z"/><path d="M920 988.8L921.1 990.2L922.7 992.2L924.7 994.5L926.8 996.9L928.9 999L931 1000.7L932.9 1001.8L934.8 1002.6L936.7 1003.1L938.7 1003.3L940.7 1003.2L942.8 1002.9L945.1 1002.2L947.6 1001L950.1 999.7L952.5 998.3L954.4 997.1L955.8 996.3L954.5 994L953.1 994.8L951.1 996L948.8 997.3L946.4 998.6L944.1 999.6L942.1 1000.1L940.5 1000.3L938.8 1000.3L937.3 1000.1L935.8 999.7L934.3 999L932.8 998.1L931 996.7L929.1 994.7L927.2 992.4L925.3 990.1L923.7 988.1L922.6 986.7Z"/><path d="M864.2 1011.3L865.7 1012.9L867.7 1015.2L870.2 1018L872.8 1020.8L875.4 1023.6L877.7 1025.8L879.6 1027.6L881.2 1029.3L883 1031L885.2 1032.7L887.8 1034.1L890.8 1035L894.1 1035.3L897.6 1035.1L901.1 1034.6L904.6 1033.9L908.1 1033L911.5 1032L915 1030.7L918.6 1028.9L922 1027L925.1 1025.4L927.8 1024.2L929.6 1023.8L930.9 1024.1L932.3 1025L933.7 1026.5L934.9 1028.3L936 1029.9L936.9 1031.1L939.5 1029.2L938.8 1028.1L937.9 1026.4L936.7 1024.3L935 1022.2L932.8 1020.4L929.8 1019.5L926.6 1019.8L923.2 1020.9L919.8 1022.4L916.3 1023.9L912.9 1025.2L909.8 1026.1L906.7 1026.7L903.4 1027.3L900.1 1027.6L897.1 1027.8L894.5 1027.7L892.4 1027.4L891 1026.8L889.9 1026L888.8 1025L887.6 1023.5L886 1021.6L884.3 1019.6L882.3 1017.3L880.1 1014.6L877.8 1011.6L875.6 1008.7L873.8 1006.2L872.4 1004.4Z"/><path d="M910 1030.8L911.6 1031.6L913.9 1032.8L916.6 1034.2L919.5 1035.7L922.3 1037.2L924.8 1038.7L927.1 1040.3L929.6 1042L932 1043.9L934.2 1045.6L936.1 1047.1L937.4 1048.1L939 1046L937.7 1045L935.8 1043.5L933.6 1041.8L931.2 1039.9L928.7 1038L926.3 1036.4L923.7 1034.8L920.8 1033.2L918 1031.7L915.3 1030.2L913 1029.1L911.4 1028.2Z"/><path d="M890 1032.2L891.3 1034.3L893.3 1037.3L895.6 1040.7L897.8 1044.3L899.6 1047.8L900.6 1050.6L900.8 1053L900.5 1055.5L899.8 1058L898.9 1060.4L897.8 1062.5L896.8 1064.3L895.7 1065.6L894.4 1066.6L892.9 1067.4L891.3 1068.1L889.9 1068.7L888.9 1069.2L890.1 1071.6L891 1071.1L892.4 1070.6L894.1 1069.9L895.9 1068.9L897.7 1067.6L899.1 1065.9L900.4 1063.9L901.6 1061.6L902.7 1059L903.6 1056.2L904 1053.1L903.8 1049.9L902.7 1046.4L900.9 1042.7L898.7 1038.8L896.5 1035.3L894.5 1032.3L893.3 1030.2Z"/><path d="M881.6 1026.3L880.9 1027.9L879.9 1030L878.8 1032.7L877.7 1035.6L876.7 1038.6L876.2 1041.6L876 1044.6L876.1 1047.7L876.3 1050.9L876.8 1054L877.5 1056.9L878.5 1059.5L880 1061.7L881.9 1063.5L884 1064.9L886 1066L887.6 1066.9L888.6 1067.5L890.3 1064.8L889.2 1064L887.5 1063.1L885.7 1062.1L884 1060.9L882.5 1059.5L881.4 1058L880.7 1055.9L880.1 1053.4L879.6 1050.5L879.4 1047.5L879.3 1044.6L879.5 1042L880 1039.4L880.8 1036.7L881.9 1034L883 1031.4L884 1029.2L884.7 1027.6Z"/><path d="M839.3 1008.9L838.9 1011.7L838.3 1015.7L837.6 1020.4L837 1025.5L836.4 1030.5L836.2 1035L836.1 1039L836.2 1042.9L836.4 1046.7L836.8 1050.4L837.4 1054L838.4 1057.6L839.7 1060.9L841.2 1063.9L843 1066.7L844.9 1069.3L847 1072L849.2 1075L851.8 1078.6L855 1082.7L858.4 1086.9L861.6 1090.8L864.3 1094.2L866.2 1096.6L868.3 1095L866.6 1092.5L864.2 1088.9L861.4 1084.6L858.5 1080.2L855.8 1075.8L853.5 1072.1L851.6 1068.9L849.9 1066L848.3 1063.4L847 1060.9L846 1058.3L845.3 1055.6L844.8 1052.7L844.5 1049.6L844.5 1046.4L844.6 1043L844.9 1039.5L845.3 1035.8L846 1031.8L846.9 1027.1L848 1022.3L849.1 1017.8L850.1 1013.9L850.7 1011.1Z"/><path d="M840.4 1057.8L839.1 1059.9L837.2 1062.8L835 1066.3L832.8 1070.1L831 1073.9L829.8 1077.5L829.4 1081L829.7 1084.7L830.3 1088.2L831 1091.5L831.7 1094.1L832.1 1096.1L834.6 1095.6L834.3 1093.6L833.6 1090.9L833 1087.7L832.5 1084.4L832.3 1081.1L832.7 1078.1L833.8 1075.1L835.6 1071.6L837.8 1068L840 1064.6L841.9 1061.7L843.3 1059.6Z"/><path d="M838.5 1040.2L836 1042.1L832.5 1044.7L828.3 1047.9L823.9 1051.2L819.8 1054.5L816.4 1057.5L813.5 1060.3L811 1063L808.7 1065.7L806.7 1068.3L805 1070.7L803.5 1072.8L802.5 1074.9L801.9 1076.8L801.6 1078.5L801.5 1080L801.4 1081.1L801.3 1081.9L803.9 1082.2L804 1081.3L804.1 1080.2L804.2 1078.9L804.5 1077.5L805 1076L805.9 1074.3L807.3 1072.3L809 1070.1L811 1067.6L813.3 1065.1L815.8 1062.5L818.5 1059.9L821.9 1057.1L826 1054L830.4 1050.8L834.7 1047.8L838.3 1045.2L840.9 1043.3Z"/><path d="M827.4 1007.5L824.8 1009.2L821.3 1011.6L817 1014.3L812.3 1017.4L807.5 1020.5L802.8 1023.4L797.9 1026.4L792.6 1029.5L787 1032.7L781.5 1035.9L776.3 1038.9L771.7 1041.9L767.6 1044.7L763.8 1047.7L760.4 1050.5L757.4 1053L755 1055.1L753.1 1056.6L754.7 1058.7L756.7 1057.3L759.3 1055.4L762.5 1053.2L766.1 1050.8L770 1048.3L774.2 1045.9L778.9 1043.5L784.2 1041L789.9 1038.3L795.7 1035.6L801.4 1033L806.7 1030.5L811.8 1027.9L816.9 1025.2L821.9 1022.6L826.4 1020.2L830.1 1018.2L832.9 1016.7Z"/><path d="M802.6 1026.3L799.3 1026.5L794.8 1026.7L789.4 1027L783.7 1027.3L778.1 1027.5L773 1027.6L768 1027.5L762.7 1027.4L757.4 1027.2L752.6 1027L748.5 1026.8L745.5 1026.7L745.4 1029.3L748.3 1029.5L752.4 1029.7L757.3 1030L762.6 1030.3L767.9 1030.5L773 1030.6L778.2 1030.5L783.8 1030.4L789.6 1030.2L794.9 1030L799.5 1029.8L802.7 1029.7Z"/><path d="M795.9 1031.9L795.3 1034.7L794.5 1038.6L793.5 1043.1L792.5 1047.9L791.5 1052.5L790.7 1056.3L790 1059.7L789.4 1062.9L788.8 1065.8L788.3 1068.4L787.9 1070.6L787.6 1072.2L790.1 1072.8L790.5 1071.1L790.9 1068.9L791.4 1066.3L792 1063.4L792.7 1060.2L793.4 1056.9L794.2 1053L795.2 1048.5L796.3 1043.7L797.3 1039.2L798.1 1035.3L798.8 1032.6Z"/><path d="M829.8 984.5L827 984.8L823.2 985.3L818.7 985.9L814 986.4L809.3 986.7L805 986.9L800.8 986.8L796.4 986.5L792.1 986.1L787.8 985.5L783.8 984.8L780.1 984.1L776.8 983.1L773.7 982L770.7 980.7L768 979.3L765.5 978L763.4 976.8L761.8 975.6L760.4 974.4L759.3 973.1L758.5 971.9L757.7 970.9L757.1 970L755 971.6L755.5 972.3L756.1 973.5L756.9 974.9L758 976.4L759.5 978.1L761.3 979.7L763.5 981.2L765.9 982.9L768.6 984.6L771.7 986.3L775 987.9L778.5 989.3L782.4 990.6L786.5 991.7L791 992.8L795.5 993.7L800 994.4L804.5 995L809.3 995.3L814.3 995.5L819.3 995.5L823.9 995.4L827.8 995.3L830.5 995.2Z"/><path d="M782.6 987.4L780.7 988.7L777.8 990.5L774.4 992.7L770.9 995.2L767.8 997.9L765.4 1000.7L763.9 1003.9L763 1007.5L762.6 1011.2L762.4 1014.6L762.3 1017.4L762.1 1019.4L764.7 1019.7L764.9 1017.6L765.1 1014.7L765.3 1011.5L765.8 1008.1L766.6 1004.9L767.9 1002.3L769.9 1000L772.8 997.7L776.2 995.4L779.5 993.3L782.5 991.6L784.5 990.2Z"/><path d="M838.6 950.7C842.2 949.8 849.2 956.3 855.6 958.1C861.9 959.9 872.5 958.6 876.8 961.3C881 963.9 881 969.6 881 974C881 978.4 876.8 983.2 876.8 987.8C876.8 992.3 881.2 997.1 881 1001.5C880.8 1005.9 879.3 1011.2 875.7 1014.2C872.2 1017.2 865 1017.8 859.8 1019.5C854.7 1021.3 849.9 1024.7 845 1024.8C840.1 1025 834.4 1022.7 830.2 1020.6C825.9 1018.5 821 1016 819.6 1012.1C818.2 1008.2 821.7 1001.3 821.7 997.3C821.7 993.2 818.5 991.3 819.6 987.8C820.6 984.2 825.6 980.2 828.1 976.1C830.5 972 832.6 967.6 834.4 963.4C836.2 959.2 835.1 951.6 838.6 950.7Z"/></g>
<circle cx="853.1" cy="992.6" r="12.8" fill="#cb2d33"/>
<circle cx="853.1" cy="991.6" r="8" fill="#c4161c"/>
<circle cx="852.6" cy="989.6" r="3.2" fill="#9c0006"/></g>
<g id="arrows"><path d="M1181.6 789.7L1335.8 949.5L1320 964.8L1379.7 966.2L1380.4 906.5L1364.6 921.7L1210.4 761.9Z" fill="#7030a0"/>
<path d="M1138.1 1360.8L1347.5 1164.5L1361.8 1179.8L1364 1120.7L1304.9 1119.1L1319.2 1134.3L1109.7 1330.6Z" fill="#7030a0"/></g>
<g id="monkey1"><path d="M731.2 1794.1C738.7 1786.1 761.1 1792 776 1791.9C791 1791.7 810.4 1792.1 820.8 1793C831.3 1793.8 831.3 1794.8 838.7 1797C846.2 1799.2 857.8 1802.6 865.6 1806.4C873.5 1810.2 881.1 1814.6 885.8 1819.9C890.5 1825.1 893.6 1832.6 893.6 1837.8C893.6 1843 892.3 1847.9 885.8 1851.2C879.3 1854.6 869 1857.1 854.4 1857.9C839.9 1858.8 813.4 1857.3 798.4 1856.1C783.5 1855 776 1853.9 764.8 1851.2C753.6 1848.5 736.8 1849.5 731.2 1840C725.6 1830.5 723.8 1802.1 731.2 1794.1Z" fill="#7f736b"/>
<clipPath id="m1tr"><path d="M731.2 1794.1C738.7 1786.1 761.1 1792 776 1791.9C791 1791.7 810.4 1792.1 820.8 1793C831.3 1793.8 831.3 1794.8 838.7 1797C846.2 1799.2 857.8 1802.6 865.6 1806.4C873.5 1810.2 881.1 1814.6 885.8 1819.9C890.5 1825.1 893.6 1832.6 893.6 1837.8C893.6 1843 892.3 1847.9 885.8 1851.2C879.3 1854.6 869 1857.1 854.4 1857.9C839.9 1858.8 813.4 1857.3 798.4 1856.1C783.5 1855 776 1853.9 764.8 1851.2C753.6 1848.5 736.8 1849.5 731.2 1840C725.6 1830.5 723.8 1802.1 731.2 1794.1Z"/></clipPath>
<g clip-path="url(#m1tr)"><path d="M762.6 1784L789.5 1784L780.5 1824.3L791.7 1864.7L764.8 1864.7L753.6 1824.3Z" fill="#8b8078"/><path d="M789.5 1784L811.9 1784L802.9 1824.3L814.1 1864.7L791.7 1864.7L780.5 1824.3Z" fill="#6f625c"/><path d="M811.9 1784L849.9 1784L841 1824.3L852.2 1864.7L814.1 1864.7L802.9 1824.3Z" fill="#8b8078"/><path d="M849.9 1784L867.9 1784L858.9 1824.3L870.1 1864.7L852.2 1864.7L841 1824.3Z" fill="#74675f"/><path d="M731.2 1784L762.6 1784L753.6 1824.3L764.8 1864.7L733.5 1864.7L722.3 1824.3Z" fill="#6a5d57"/><path d="M731.2 1842.7C738.7 1838.5 761.1 1841.4 776 1841.8C791 1842.2 805.9 1844.8 820.8 1844.9C835.8 1845.1 852.9 1844.5 865.6 1842.7C878.3 1841 891.8 1830.4 897 1834.4C902.2 1838.4 924.6 1861.5 897 1866.9C869.4 1872.3 758.8 1870.9 731.2 1866.9C703.6 1862.9 723.8 1846.9 731.2 1842.7Z" fill="#5a4e49" opacity=".4"/></g>
<path d="M498.2 1786.3C490.8 1783.3 485.2 1787.9 480.3 1788.5C475.5 1789.1 472.5 1787.6 469.1 1789.6C465.8 1791.7 462.1 1795.4 460.2 1800.8C458.2 1806.2 456.7 1816.2 457.5 1822.1C458.2 1828 460.1 1832.3 464.6 1836C469.2 1839.7 475.8 1842.6 484.8 1844.5C493.8 1846.4 510.2 1848.4 518.4 1847.6C526.6 1846.9 533 1846.9 534.1 1840C535.2 1833.1 531.1 1815.4 525.1 1806.4C519.2 1797.5 505.7 1789.2 498.2 1786.3Z" fill="#7f736b"/>
<clipPath id="m1tl"><path d="M498.2 1786.3C490.8 1783.3 485.2 1787.9 480.3 1788.5C475.5 1789.1 472.5 1787.6 469.1 1789.6C465.8 1791.7 462.1 1795.4 460.2 1800.8C458.2 1806.2 456.7 1816.2 457.5 1822.1C458.2 1828 460.1 1832.3 464.6 1836C469.2 1839.7 475.8 1842.6 484.8 1844.5C493.8 1846.4 510.2 1848.4 518.4 1847.6C526.6 1846.9 533 1846.9 534.1 1840C535.2 1833.1 531.1 1815.4 525.1 1806.4C519.2 1797.5 505.7 1789.2 498.2 1786.3Z"/></clipPath>
<g clip-path="url(#m1tl)"><path d="M478.1 1784L493.8 1784L488.2 1817.6L496 1851.2L480.3 1851.2L475.8 1817.6Z" fill="#8b8078"/><path d="M453.4 1784L478.1 1784L475.8 1817.6L480.3 1851.2L453.4 1851.2Z" fill="#72655e"/><path d="M453.4 1832.2C458.7 1829.8 471.4 1835.7 484.8 1836.7C498.2 1837.6 525.9 1835.4 534.1 1837.8C542.3 1840.2 547.5 1849 534.1 1851.2C520.6 1853.5 466.9 1854.4 453.4 1851.2C440 1848 448.2 1834.6 453.4 1832.2Z" fill="#5a4e49" opacity=".4"/></g>
<path d="M605.8 1404.4C592.3 1402.5 590.1 1411.1 583.4 1415.6C576.6 1420.1 571.8 1426.8 565.4 1431.3C559.1 1435.8 548.1 1439.3 545.3 1442.5C542.5 1445.7 550.5 1445.5 548.6 1450.3C546.8 1455.2 538.4 1464.3 534.1 1471.6C529.8 1478.9 526.2 1487.1 522.9 1494C519.5 1500.9 514.9 1508.8 513.9 1513.1C513 1517.3 518.8 1514.4 517.3 1519.8C515.8 1525.2 508.5 1538.8 505 1545.5C501.4 1552.2 499.7 1552 496 1560C492.3 1568 487.1 1584.3 482.6 1593.6C478 1602.9 470.4 1610.4 468.7 1616C467 1621.6 473.5 1619.7 472.5 1627.2C471.4 1634.7 464.5 1653.3 462.4 1660.8C460.3 1668.3 460.2 1664.5 459.7 1672C459.3 1679.5 459 1693.7 459.7 1705.6C460.5 1717.6 461.5 1731.4 464.2 1743.7C466.9 1756 472.4 1770.6 475.8 1779.5C479.3 1788.5 479.9 1791.5 484.8 1797.5C489.7 1803.4 499.7 1807.9 505 1815.4C510.2 1822.8 512.8 1835.9 516.2 1842.3C519.5 1848.6 521.4 1850.1 525.1 1853.5C528.9 1856.8 534.8 1859.6 538.6 1862.4C542.3 1865.2 541.6 1868 547.5 1870.3C553.5 1872.5 560.6 1874.9 574.4 1875.9C588.2 1876.9 619 1874.7 630.4 1876.3C641.8 1877.9 636.4 1883.4 642.7 1885.3C649.1 1887.1 663.1 1889.4 668.5 1887.5C673.9 1885.6 672.9 1876.8 675.2 1874.1C677.5 1871.4 679.4 1870.5 682.4 1871.4C685.4 1872.3 685 1878.3 693.1 1879.4C701.3 1880.6 721.5 1877.4 731.2 1878.1C740.9 1878.8 744.7 1883.2 751.4 1883.9C758.1 1884.7 765.9 1882.8 771.5 1882.6C777.2 1882.4 781.6 1885.2 785.4 1882.6C789.2 1880 793.7 1871.3 794.4 1866.9C795.1 1862.5 793.3 1859.1 789.5 1856.1C785.7 1853.2 780.1 1853.5 771.5 1849C763 1844.4 744.3 1834.8 737.9 1828.8C731.6 1822.8 730.8 1819.9 733.5 1813.1C736.1 1806.4 748.8 1797.1 753.6 1788.5C758.5 1779.9 760 1771.3 762.6 1761.6C765.2 1751.9 767.4 1739.6 769.3 1730.3C771.2 1720.9 773.5 1712.7 774.2 1705.6C775 1698.5 771.8 1694.8 773.8 1687.7C775.8 1680.6 782 1671.3 786.1 1663C790.2 1654.8 794.1 1648.1 798.4 1638.4C802.7 1628.7 808.4 1613.4 811.9 1604.8C815.3 1596.2 817.9 1594.3 819 1586.9C820.2 1579.4 818.7 1568 818.6 1560C818.4 1552 821.5 1546.1 818.1 1538.8C814.8 1531.6 809.2 1527.6 798.4 1516.4C787.7 1505.2 776 1486.5 753.6 1471.6C731.2 1456.7 688.7 1438 664 1426.8C639.4 1415.6 619.2 1406.3 605.8 1404.4Z" fill="#796b63"/>
<clipPath id="m1b"><path d="M605.8 1404.4C592.3 1402.5 590.1 1411.1 583.4 1415.6C576.6 1420.1 571.8 1426.8 565.4 1431.3C559.1 1435.8 548.1 1439.3 545.3 1442.5C542.5 1445.7 550.5 1445.5 548.6 1450.3C546.8 1455.2 538.4 1464.3 534.1 1471.6C529.8 1478.9 526.2 1487.1 522.9 1494C519.5 1500.9 514.9 1508.8 513.9 1513.1C513 1517.3 518.8 1514.4 517.3 1519.8C515.8 1525.2 508.5 1538.8 505 1545.5C501.4 1552.2 499.7 1552 496 1560C492.3 1568 487.1 1584.3 482.6 1593.6C478 1602.9 470.4 1610.4 468.7 1616C467 1621.6 473.5 1619.7 472.5 1627.2C471.4 1634.7 464.5 1653.3 462.4 1660.8C460.3 1668.3 460.2 1664.5 459.7 1672C459.3 1679.5 459 1693.7 459.7 1705.6C460.5 1717.6 461.5 1731.4 464.2 1743.7C466.9 1756 472.4 1770.6 475.8 1779.5C479.3 1788.5 479.9 1791.5 484.8 1797.5C489.7 1803.4 499.7 1807.9 505 1815.4C510.2 1822.8 512.8 1835.9 516.2 1842.3C519.5 1848.6 521.4 1850.1 525.1 1853.5C528.9 1856.8 534.8 1859.6 538.6 1862.4C542.3 1865.2 541.6 1868 547.5 1870.3C553.5 1872.5 560.6 1874.9 574.4 1875.9C588.2 1876.9 619 1874.7 630.4 1876.3C641.8 1877.9 636.4 1883.4 642.7 1885.3C649.1 1887.1 663.1 1889.4 668.5 1887.5C673.9 1885.6 672.9 1876.8 675.2 1874.1C677.5 1871.4 679.4 1870.5 682.4 1871.4C685.4 1872.3 685 1878.3 693.1 1879.4C701.3 1880.6 721.5 1877.4 731.2 1878.1C740.9 1878.8 744.7 1883.2 751.4 1883.9C758.1 1884.7 765.9 1882.8 771.5 1882.6C777.2 1882.4 781.6 1885.2 785.4 1882.6C789.2 1880 793.7 1871.3 794.4 1866.9C795.1 1862.5 793.3 1859.1 789.5 1856.1C785.7 1853.2 780.1 1853.5 771.5 1849C763 1844.4 744.3 1834.8 737.9 1828.8C731.6 1822.8 730.8 1819.9 733.5 1813.1C736.1 1806.4 748.8 1797.1 753.6 1788.5C758.5 1779.9 760 1771.3 762.6 1761.6C765.2 1751.9 767.4 1739.6 769.3 1730.3C771.2 1720.9 773.5 1712.7 774.2 1705.6C775 1698.5 771.8 1694.8 773.8 1687.7C775.8 1680.6 782 1671.3 786.1 1663C790.2 1654.8 794.1 1648.1 798.4 1638.4C802.7 1628.7 808.4 1613.4 811.9 1604.8C815.3 1596.2 817.9 1594.3 819 1586.9C820.2 1579.4 818.7 1568 818.6 1560C818.4 1552 821.5 1546.1 818.1 1538.8C814.8 1531.6 809.2 1527.6 798.4 1516.4C787.7 1505.2 776 1486.5 753.6 1471.6C731.2 1456.7 688.7 1438 664 1426.8C639.4 1415.6 619.2 1406.3 605.8 1404.4Z"/></clipPath>
<g clip-path="url(#m1b)"><path d="M496 1546.6C494.1 1548.4 488.2 1574.6 482.6 1593.6C477 1612.6 466.5 1642.1 462.4 1660.8C458.3 1679.5 457.9 1691.8 457.9 1705.6C457.9 1719.4 459.8 1731.4 462.4 1743.7C465 1756 470.1 1770.6 473.6 1779.5C477.1 1788.5 478.5 1791.5 483.7 1797.5C488.9 1803.4 501 1816.9 505 1815.4C508.9 1813.9 503.8 1799.3 507.2 1788.5C510.6 1777.7 518.8 1762.4 525.1 1750.4C531.5 1738.5 538.6 1726.1 545.3 1716.8C552 1707.5 566.9 1696.6 565.4 1694.4C564 1692.2 545.3 1703.7 536.3 1703.4C527.4 1703 518.2 1698.1 511.7 1692.2C505.2 1686.2 500.6 1678.4 497.1 1667.5C493.7 1656.7 491.6 1641.4 491.1 1627.2C490.5 1613 492.9 1595.8 493.8 1582.4C494.6 1569 497.9 1544.7 496 1546.6Z" fill="#6b5e58"/><path d="M574.4 1413.4C569.2 1415.6 555.7 1431.3 547.5 1444.7C539.3 1458.2 532.2 1477.2 525.1 1494C518 1510.8 510.2 1530.6 505 1545.5C499.7 1560.5 493.4 1577.3 493.8 1583.6C494.1 1590 502.7 1591.1 507.2 1583.6C511.7 1576.2 515.4 1553.8 520.6 1538.8C525.9 1523.9 532.6 1507.1 538.6 1494C544.5 1480.9 549.8 1470.9 556.5 1460.4C563.2 1450 575.9 1439.1 578.9 1431.3C581.9 1423.4 579.6 1411.1 574.4 1413.4Z" fill="#6b5e58"/><path d="M568.8 1496.3C571.8 1490.7 578.4 1486.9 580 1494C581.6 1501.1 577.9 1527.6 578.4 1538.8C579 1550 583.2 1554 583.4 1561.2C583.5 1568.5 577.5 1573.3 579.3 1582.4C581.2 1591.5 590.5 1606.7 594.6 1616C598.6 1625.3 595.7 1628.3 603.5 1638.4C611.4 1648.5 627.8 1665.7 641.6 1676.5C655.4 1687.3 674.5 1696.3 686.4 1703.4C698.4 1710.5 708.1 1711.6 713.3 1719.1C718.5 1726.5 723 1746.1 717.8 1748.2C712.6 1750.2 695.4 1738.7 681.9 1731.4C668.5 1724.1 652.1 1714.9 637.1 1704.5C622.2 1694 603.2 1678.4 592.3 1668.6C581.5 1658.9 576.6 1653.2 572.2 1646.2C567.7 1639.3 567.7 1637.8 565.4 1627.2C563.2 1616.6 560.2 1595.8 558.7 1582.4C557.2 1569 555.9 1555.7 556.5 1546.6C557 1537.4 560 1536 562.1 1527.6C564.1 1519.2 565.8 1501.9 568.8 1496.3Z" fill="#6b5e58"/><path d="M545.3 1716.8C552 1707.5 562.8 1692.2 565.4 1694.4C568.1 1696.6 566.9 1715.3 561 1730.3C555 1745.2 535.6 1770.6 529.6 1784C523.6 1797.5 525.1 1801.9 525.1 1810.9C525.1 1819.9 527.4 1829.9 529.6 1837.8C531.8 1845.6 539.3 1855.3 538.6 1857.9C537.8 1860.6 530.4 1860.6 525.1 1853.5C519.9 1846.4 509.8 1827 507.2 1815.4C504.6 1803.8 506.5 1794.8 509.4 1784C512.4 1773.2 519.2 1761.6 525.1 1750.4C531.1 1739.2 538.6 1726.1 545.3 1716.8Z" fill="#6b5e58"/><path d="M707.7 1625C710.8 1622.1 717.4 1633.3 721.8 1636C726.3 1638.7 728.4 1640.6 734.4 1641C740.4 1641.5 751.2 1640.4 758 1638.8C764.8 1637.2 774.7 1627 775.3 1631.3C776 1635.5 770.3 1654.3 762 1664.3C753.6 1674.3 733 1689.8 725 1691.4C717 1693 717.6 1680.1 714 1673.8C710.3 1667.4 704 1661.4 702.9 1653.3C701.9 1645.2 704.5 1627.9 707.7 1625Z" fill="#6b5e58"/><path d="M775.3 1631.3C781.4 1621.8 791.1 1615.5 797.4 1607.7C803.7 1599.8 808.9 1590.1 813.1 1584.1C817.3 1578 819.9 1570.2 822.5 1571.5C825.2 1572.8 829.9 1584.6 828.8 1591.9C827.8 1599.3 821.5 1606.1 816.2 1615.5C811 1625 803.1 1638.6 797.4 1648.6C791.6 1658.5 785.5 1668.6 781.6 1675.3C777.7 1682 776.7 1688.7 774.1 1688.7C771.4 1688.7 768 1679.4 765.9 1675.3C763.7 1671.3 759.6 1671.7 761.2 1664.3C762.7 1657 769.3 1640.7 775.3 1631.3Z" fill="#6f625b"/><path d="M670.7 1735.1C672.9 1729.9 682.1 1732.5 684.8 1736.7C687.6 1740.9 685.8 1748.5 687.2 1760.3C688.6 1772.1 697.2 1799.6 693.5 1807.5C689.8 1815.4 668.8 1814.1 665.2 1807.5C661.5 1800.9 670.6 1780.2 671.5 1768.2C672.4 1756.1 668.5 1740.4 670.7 1735.1Z" fill="#6b5e58"/><path d="M753.6 1768.3C757.5 1763.1 763.7 1758.3 763.7 1761.6C763.7 1765 758.7 1779.9 753.6 1788.5C748.6 1797.1 736.1 1806.4 733.5 1813.1C730.8 1819.9 731.6 1822.8 737.9 1828.8C744.3 1834.8 772.7 1846.9 771.5 1849C770.4 1851 738.3 1846.4 731.2 1841.1C724.1 1835.9 727.5 1825.6 729 1817.6C730.5 1809.6 736.1 1801.2 740.2 1793C744.3 1784.8 749.7 1773.6 753.6 1768.3Z" fill="#6b5e58"/></g>
<path d="M538.6 1860.2C539.7 1858.8 546.8 1862.5 556.5 1862.9C566.2 1863.2 584.5 1862.4 596.8 1862.4C609.1 1862.4 622.8 1861 630.4 1862.9C638.1 1864.7 642.4 1871.3 642.7 1873.6C643.1 1875.9 644 1876 632.7 1876.5C621.3 1877 588.2 1877.5 574.4 1876.5C560.6 1875.6 555.7 1873.7 549.8 1870.9C543.8 1868.2 537.4 1861.5 538.6 1860.2Z" fill="#4f4644"/>
<path d="M693.1 1873.6C695.7 1871.5 700.6 1868.8 708.8 1866.9C717 1865 735.3 1861.3 742.4 1862.4C749.6 1863.5 750.7 1870.3 751.8 1873.6C752.9 1877 752.6 1881.8 749.1 1882.6C745.7 1883.4 740.6 1878.8 731.2 1878.3C721.9 1877.8 699.5 1880.2 693.1 1879.4C686.8 1878.7 690.5 1875.7 693.1 1873.6Z" fill="#4f4644"/>
<path d="M630.4 1859.1C632.3 1856.4 642 1857.4 648.3 1857.9C654.7 1858.5 663.9 1859.8 668.5 1862.4C673 1865 675.7 1869.4 675.7 1873.6C675.7 1877.8 671 1886 668.5 1887.5C666 1889 662.9 1884.9 660.7 1882.6C658.4 1880.3 655.4 1872.9 655.1 1873.6C654.7 1874.4 659 1885.6 658.4 1887.1C657.9 1888.6 653.7 1884.8 651.7 1882.6C649.6 1880.3 647.6 1873.2 646.1 1873.6C644.6 1874.1 644.2 1885.3 642.7 1885.3C641.2 1885.3 639.2 1878 637.1 1873.6C635.1 1869.3 628.5 1861.7 630.4 1859.1Z" fill="#6b5e58"/>
<path d="M742.4 1862.4C744.7 1857.9 755.5 1856.4 762.6 1855.7C769.7 1855 779.7 1856.1 785 1857.9C790.3 1859.8 794.2 1862.8 794.4 1866.9C794.6 1871 788 1882.2 786.1 1882.6C784.2 1883 784.8 1869.1 782.7 1869.1C780.7 1869.1 777.1 1880.2 773.8 1882.6C770.4 1885 763.3 1885.2 762.6 1883.7C761.8 1882.2 770 1877.2 769.3 1873.6C768.6 1870.1 760.7 1860.7 758.1 1862.4C755.5 1864.1 755.1 1880.3 753.6 1883.7C752.1 1887.1 751 1886.1 749.1 1882.6C747.3 1879 740.2 1866.9 742.4 1862.4Z" fill="#6b5e58"/>
<g fill="#3a302e"><path d="M637.5 1871L638.2 1872.1L639.2 1873.5L640.3 1875.1L641.2 1876.8L641.8 1878.3L642.1 1879.8L642.2 1881.6L642.1 1883.3L642 1884.8L642 1885.9L642.6 1886L642.8 1884.9L643.1 1883.4L643.5 1881.7L643.7 1879.8L643.6 1877.9L643.2 1876L642.4 1874L641.6 1872.2L640.8 1870.6L640.3 1869.5Z"/><path d="M650.3 1872.2L651.2 1873.4L652.4 1875.1L653.8 1877L655.1 1879L656.1 1880.7L656.7 1882.3L657.2 1884L657.6 1885.6L657.9 1887L658.1 1888L658.7 1887.9L658.6 1886.9L658.5 1885.5L658.4 1883.7L658.1 1881.9L657.6 1880L656.9 1878L655.8 1875.8L654.7 1873.7L653.7 1871.8L653.1 1870.5Z"/><path d="M662.6 1872.1L663.4 1873.3L664.5 1875L665.7 1877L666.9 1878.9L667.7 1880.6L668.1 1882.2L668.4 1883.9L668.5 1885.5L668.6 1886.9L668.6 1888L669.2 1888L669.3 1886.9L669.5 1885.5L669.6 1883.8L669.6 1882L669.3 1880.1L668.7 1878.1L667.8 1875.9L666.9 1873.7L666 1871.9L665.4 1870.6Z"/><path d="M671.5 1867.5L672 1868.5L672.7 1869.9L673.5 1871.6L674.2 1873.3L674.7 1874.9L674.9 1876.6L675 1878.6L675 1880.7L674.9 1882.4L674.9 1883.7L675.5 1883.7L675.7 1882.5L676 1880.8L676.4 1878.7L676.6 1876.6L676.6 1874.6L676.4 1872.7L675.9 1870.7L675.3 1868.9L674.8 1867.4L674.5 1866.3Z"/><path d="M745.5 1867.7L746.4 1868.9L747.6 1870.6L749 1872.5L750.2 1874.4L751 1876.1L751.3 1877.8L751.4 1879.7L751.3 1881.5L751.2 1883.2L751.1 1884.3L751.7 1884.4L751.9 1883.3L752.3 1881.7L752.6 1879.8L752.8 1877.7L752.7 1875.6L752 1873.5L751 1871.3L749.9 1869.1L748.9 1867.3L748.3 1866.1Z"/><path d="M759.5 1868.2L760.8 1869L762.8 1870.1L764.9 1871.3L766.5 1872.6L767.2 1873.7L767 1875.3L766 1877.6L764.6 1880.1L763.2 1882.2L762.3 1883.8L762.8 1884.1L763.9 1882.7L765.5 1880.7L767.3 1878.3L768.7 1875.9L769.2 1873.5L768.2 1871.3L766.4 1869.4L764.3 1867.8L762.4 1866.5L761.2 1865.6Z"/><path d="M773.9 1865.9L775.4 1866.9L777.5 1868.2L779.8 1869.7L781.8 1871.3L783 1872.9L783.5 1874.7L783.6 1877L783.4 1879.4L783.1 1881.5L782.9 1883L783.5 1883.1L783.8 1881.6L784.4 1879.5L784.9 1877.1L785.1 1874.5L784.7 1872.1L783.3 1869.9L781.3 1867.9L779.1 1866L777.2 1864.5L775.9 1863.4Z"/><path d="M786.3 1861.5L787.6 1862.3L789.5 1863.4L791.5 1864.6L793.2 1865.9L794.2 1867.2L794.5 1868.9L794.4 1871.1L794 1873.4L793.5 1875.5L793.2 1876.9L793.8 1877.1L794.2 1875.7L795 1873.6L795.7 1871.3L796.1 1868.9L795.9 1866.6L794.8 1864.5L793 1862.7L791 1861.1L789.3 1859.8L788.1 1858.9Z"/></g>
<path d="M717.8 1745.9C719.5 1741.8 726.4 1735.5 729 1730.3C731.6 1725 731.6 1719.1 733.5 1714.6C735.3 1710.1 736.8 1704.5 740.2 1703.4C743.5 1702.2 749.6 1705.2 753.6 1707.8C757.6 1710.5 763 1715.8 764.1 1719.5C765.3 1723.2 760 1725.8 760.3 1730.3C760.7 1734.7 765.8 1741.1 766.4 1745.9C767 1750.8 767 1756.2 764.1 1759.4C761.3 1762.6 755 1764.6 749.1 1765.2C743.3 1765.8 734 1764.6 729 1763C723.9 1761.3 720.8 1758.2 718.9 1755.3C717 1752.5 716.1 1750.1 717.8 1745.9Z" fill="#4f4644"/>
<path d="M731.2 1716.8C733.8 1717.9 742 1721.5 746.9 1723.5C751.8 1725.6 758.1 1728.2 760.3 1729.1M727.9 1730.3C731 1731.7 740.7 1736.6 746.9 1739.2C753.1 1741.8 761.8 1744.8 764.8 1745.9M722.3 1745.9C725.2 1747.4 733.5 1752.7 740.2 1754.9C746.9 1757.1 758.8 1758.6 762.6 1759.4" fill="none" stroke="#3a3231" stroke-width="1.6"/>
<path d="M552 1555.5C554.2 1563.7 562.6 1591.7 565.4 1604.8C568.2 1617.9 565.8 1625.7 568.8 1633.9C571.8 1642.1 575 1645.5 583.4 1654.1C591.8 1662.7 605.8 1675 619.2 1685.4C632.7 1695.9 647.6 1706.2 664 1716.8C680.4 1727.5 708.8 1743.9 717.8 1749.3M583.4 1654.1C578.9 1654.8 564.3 1656.3 556.5 1658.6C548.6 1660.8 539.7 1666 536.3 1667.5M545.3 1716.8C541.9 1723.2 531.1 1742.9 525.1 1754.9C519.2 1766.8 512.8 1778.4 509.4 1788.5C506.1 1798.6 504.2 1806.4 505 1815.4C505.7 1824.3 510.6 1835.9 513.9 1842.3C517.3 1848.6 523.3 1851.6 525.1 1853.5M683.1 1739.2C682.1 1746.7 679.1 1769.1 677.5 1784C675.8 1798.9 673.3 1813.9 673 1828.8C672.6 1843.8 674.8 1866.2 675.2 1873.6M576.6 1840C582.2 1840.3 599.4 1841.8 610.3 1841.8C621.1 1841.8 632.3 1837 641.6 1840C650.9 1843.1 662.1 1856.8 666.3 1860.2M708.8 1847.9C712.6 1846.9 722.3 1843.1 731.2 1842.3C740.2 1841.4 752.9 1840.4 762.6 1842.7C772.3 1845 785 1853.9 789.5 1856.1M704.3 1591.4C705.1 1597.3 708.6 1617.9 708.8 1627.2C709 1636.5 704.3 1639.2 705.5 1647.4C706.6 1655.6 712.4 1669.2 715.5 1676.5C718.6 1683.8 722.6 1688.6 724.1 1691M725 1691.4C731.1 1686.9 753.6 1674.3 762 1664.3C770.3 1654.3 769.4 1641 775.3 1631.3C781.2 1621.6 791.1 1614.7 797.4 1606.1C803.7 1597.4 810.5 1583.8 813.1 1579.3M762 1664.3C763.9 1668.2 771.8 1684 773.8 1687.9M729 1817.6C729.7 1816.9 729.4 1818 733.5 1813.1C737.6 1808.3 750.3 1792.6 753.6 1788.5M818.6 1545.5C818.2 1551.9 816.3 1573.5 816.3 1583.6C816.3 1593.7 818.2 1602.3 818.6 1606" fill="none" stroke="#4a3f3c" stroke-width="1.7" stroke-linecap="round" opacity=".9"/>
<path d="M688.7 1295.8C682.6 1292 671.9 1289.5 664 1287.9C656.2 1286.4 649.1 1286 641.6 1286.6C634.1 1287.1 625.9 1288.4 619.2 1291.3C612.5 1294.1 606.5 1297.8 601.3 1303.6C596.1 1309.4 591.6 1317.8 587.8 1326C584.1 1334.2 581 1343.6 578.9 1352.9C576.8 1362.2 574.6 1373.4 575.3 1382C576.1 1390.6 580.5 1398.4 583.4 1404.4C586.2 1410.5 589.3 1418.3 592.3 1418.3C595.3 1418.3 597.6 1409.3 601.3 1404.4C605 1399.5 609.9 1393.6 614.7 1388.7C619.6 1383.9 622.2 1380.4 630.4 1375.3C638.6 1370.1 654.2 1362.6 664 1357.8C673.8 1353 685.4 1351.9 689.1 1346.6C692.8 1341.3 684.5 1332.1 686.4 1326C688.3 1320 699.9 1315.4 700.3 1310.3C700.7 1305.3 694.7 1299.5 688.7 1295.8Z" fill="#ddd7c7"/>
<path d="M666.8 1289.9L660.9 1285.1L660 1289.2ZM661.4 1289.3L655.3 1284.2L654.4 1288.6ZM655.6 1288L649.2 1285.7L649.2 1287.6ZM649.3 1288L644.3 1285.4L643.4 1288.1ZM646.1 1287.9L640.2 1285.5L638.1 1288.6ZM638.5 1287.8L630.9 1286.3L632.3 1288.8ZM634.1 1289L628.5 1287.1L627.8 1290.3ZM631.5 1288.7L622.2 1287.9L623.1 1291ZM624.5 1290.7L617 1290.1L618.1 1293.3ZM619.6 1292.9L614.3 1292.3L614.4 1295.5ZM614.4 1295.4L607.7 1295.7L607.3 1300.3ZM609.9 1298L601.9 1298.7L603.9 1303.3ZM606.5 1301.1L600.4 1301.1L602.4 1305.1ZM601.5 1306L594 1307.6L597.7 1311.2ZM599.1 1309.5L593.4 1310.5L595.6 1315ZM597.6 1311.4L592 1314.5L593.2 1319.3ZM594 1317.5L587.7 1320.6L590.5 1324.7ZM591.9 1321.6L585.4 1324.7L588.8 1328.5ZM590 1325.5L584.6 1329.8L586.5 1333.6ZM587 1332.3L581.3 1335.6L585.2 1337.3ZM585.7 1336.3L579.2 1339.2L583.7 1342.5ZM583.7 1342.1L577.4 1346.2L581.4 1350.7ZM582.3 1347.1L575.4 1350.5L580.6 1354.3ZM580.4 1353.8L575.5 1358.1L579.2 1359.6ZM579.4 1357.5L575.5 1363.3L577.9 1365.6ZM578.4 1364.6L573.6 1367.9L577.7 1369.7ZM577.7 1367.5L573.8 1371.9L577.2 1373.1ZM577.4 1370.9L573.1 1376.2L577 1379.9ZM576.6 1377.8L573.3 1384.7L577.7 1386.6ZM577.2 1383.7L573.9 1390L578.6 1389.3ZM578.9 1389.7L575.2 1395L581.7 1396.6ZM580.6 1393.9L577.4 1398.6L583.2 1399.5ZM583.2 1399.5L580.8 1403.5L585.4 1403.9ZM584.5 1403L582.7 1410.8L588.3 1409.4ZM587.8 1408.5L585.1 1414.3L591.2 1413.4ZM590.7 1412.7L587.3 1417.8L594 1417.1Z" fill="#ddd7c7"/>
<clipPath id="m1e"><path d="M688.7 1295.8C682.6 1292 671.9 1289.5 664 1287.9C656.2 1286.4 649.1 1286 641.6 1286.6C634.1 1287.1 625.9 1288.4 619.2 1291.3C612.5 1294.1 606.5 1297.8 601.3 1303.6C596.1 1309.4 591.6 1317.8 587.8 1326C584.1 1334.2 581 1343.6 578.9 1352.9C576.8 1362.2 574.6 1373.4 575.3 1382C576.1 1390.6 580.5 1398.4 583.4 1404.4C586.2 1410.5 589.3 1418.3 592.3 1418.3C595.3 1418.3 597.6 1409.3 601.3 1404.4C605 1399.5 609.9 1393.6 614.7 1388.7C619.6 1383.9 622.2 1380.4 630.4 1375.3C638.6 1370.1 654.2 1362.6 664 1357.8C673.8 1353 685.4 1351.9 689.1 1346.6C692.8 1341.3 684.5 1332.1 686.4 1326C688.3 1320 699.9 1315.4 700.3 1310.3C700.7 1305.3 694.7 1299.5 688.7 1295.8Z"/></clipPath>
<g clip-path="url(#m1e)"><path d="M575.3 1382C574.6 1373.4 576.8 1362.2 578.9 1352.9C581 1343.6 584.9 1328.6 587.8 1326C590.8 1323.4 595.7 1330.9 596.8 1337.2C597.9 1343.6 593.8 1354.4 594.6 1364.1C595.3 1373.8 597.9 1391.3 601.3 1395.4C604.7 1399.6 614.7 1387.2 614.7 1388.7C614.7 1390.2 605 1399.5 601.3 1404.4C597.6 1409.3 595.3 1418.3 592.3 1418.3C589.3 1418.3 586.2 1410.5 583.4 1404.4C580.5 1398.4 576.1 1390.6 575.3 1382Z" fill="#c3bba9"/><path d="M689.1 1346.6C685.4 1351.9 673.8 1353 664 1357.8C654.2 1362.6 638.6 1370.1 630.4 1375.3C622.2 1380.4 612.9 1391.3 614.7 1388.7C616.6 1386.1 631.9 1368.2 641.6 1359.6C651.3 1351 665.5 1342.8 673 1337.2C680.4 1331.6 683.7 1324.4 686.4 1326C689.1 1327.6 692.8 1341.3 689.1 1346.6Z" fill="#c3bba9"/><path d="M683.4 1296.2Q673.9 1290.3 662.8 1289.3M681.1 1297.5Q666 1289.5 649 1289.1M678.2 1298.8Q657.6 1288.3 634.5 1288.3M663.8 1298.5Q649.2 1291.7 633.1 1292.2M659.2 1304Q637.8 1295.9 615.1 1298.3M659.8 1312.6Q637.8 1306.4 615.4 1310.9M659.7 1318.2Q631.9 1313.1 604.8 1321.1M649.7 1321.9Q622.7 1318.2 597 1327.1M646.1 1334.5Q611.9 1335.6 581.8 1352.1M646.9 1340.1Q614 1343.6 586.3 1361.7M637.6 1350.4Q611.9 1354.9 591.1 1370.6M640.3 1363.6Q611.2 1372 589 1392.8M645.6 1364.4Q614.3 1374.5 591 1397.8M671.8 1355.3Q629.2 1371.7 598.8 1405.6" fill="none" stroke="#c3bba9" stroke-width="1.6" opacity=".8"/><path d="M673 1293.8Q662.9 1288.3 651.5 1287.1M675.3 1295.8Q662.3 1289.3 647.8 1288.3M681.8 1305Q656.6 1294.9 629.4 1295.3M676.6 1309.8Q645.1 1300.8 612.6 1304.5M677 1315.3Q638.6 1307.9 600.3 1315.8M655.9 1329.1Q620.4 1329.9 588 1344.3M667.6 1335.1Q621.3 1344 582 1370.1M649.8 1358.2Q616.3 1369.3 589.6 1392.5M663.4 1363.7Q625.6 1381.5 597.5 1412.4" fill="none" stroke="#ebe7db" stroke-width="2" opacity=".8"/></g>
<path d="M758.1 1292.4C758.8 1290.1 769.3 1287.1 776 1287.5C782.7 1287.8 790.2 1290.1 798.4 1294.6C806.6 1299.2 818.2 1307 825.3 1314.8C832.4 1322.6 837 1333.1 841 1341.7C844.9 1350.3 847.5 1358.4 849.1 1366.3C850.6 1374.2 852.9 1386.1 850.4 1389.2C847.9 1392.2 839.2 1386.2 834.3 1384.7C829.3 1383.2 824.6 1381.8 820.8 1380.2C817.1 1378.6 814.1 1379.5 811.9 1375.3C809.6 1371.1 809.6 1362.2 807.4 1355.1C805.1 1348 802.2 1339.8 798.4 1332.7C794.7 1325.6 789.5 1317.8 785 1312.6C780.5 1307.3 776 1304.7 771.5 1301.4C767.1 1298 757.4 1294.7 758.1 1292.4Z" fill="#ddd7c7"/>
<path d="M774.2 1288.7L776.5 1286.4L781.8 1290.5ZM779.9 1290.2L782.7 1287.8L787.8 1292ZM786 1291.9L788.9 1287.4L791.2 1293.5ZM790.8 1293.3L795.8 1290.7L799.1 1296.9ZM795.1 1295.1L799.8 1294L800.8 1298.3ZM799.5 1297.5L805.4 1296.3L807.1 1302.2ZM804.7 1300.6L810.5 1300.1L810.6 1304.6ZM811.9 1305.4L818.9 1304.4L816.4 1309ZM815.2 1308L823.3 1307.5L821.2 1313.3ZM819.4 1311.2L827.1 1312.7L825.1 1317.2ZM823.8 1315.2L829.4 1317.6L827.4 1319.8ZM825.7 1317.7L831.7 1320.2L829.5 1323.1ZM829.7 1322.2L837 1328.3L834.1 1330.1ZM833.7 1330.1L840.3 1333.7L836.2 1335.2ZM835.9 1333.8L841.3 1338.2L838.2 1338.6ZM837.2 1336.5L844 1342.6L840.5 1343.6ZM839.7 1341.1L844.6 1347.3L842.7 1348.1ZM842.8 1349.2L847.4 1355L845.5 1357ZM844.6 1354L849.8 1359.8L846.1 1359.2ZM845.6 1358.6L851.7 1363.9L847 1364.1ZM847.7 1363.7L851.5 1371L848.6 1370.5ZM848.2 1370.4L852.8 1376.9L848.7 1376.9ZM848.5 1377.2L852.8 1382.6L848.6 1382.6ZM849.1 1379L852.3 1387.6L849.1 1388Z" fill="#ddd7c7"/>
<clipPath id="m1f"><path d="M758.1 1292.4C758.8 1290.1 769.3 1287.1 776 1287.5C782.7 1287.8 790.2 1290.1 798.4 1294.6C806.6 1299.2 818.2 1307 825.3 1314.8C832.4 1322.6 837 1333.1 841 1341.7C844.9 1350.3 847.5 1358.4 849.1 1366.3C850.6 1374.2 852.9 1386.1 850.4 1389.2C847.9 1392.2 839.2 1386.2 834.3 1384.7C829.3 1383.2 824.6 1381.8 820.8 1380.2C817.1 1378.6 814.1 1379.5 811.9 1375.3C809.6 1371.1 809.6 1362.2 807.4 1355.1C805.1 1348 802.2 1339.8 798.4 1332.7C794.7 1325.6 789.5 1317.8 785 1312.6C780.5 1307.3 776 1304.7 771.5 1301.4C767.1 1298 757.4 1294.7 758.1 1292.4Z"/></clipPath>
<g clip-path="url(#m1f)"><path d="M771.5 1301.4C773 1304 780.5 1307.3 785 1312.6C789.5 1317.8 794.7 1325.6 798.4 1332.7C802.2 1339.8 805.1 1348 807.4 1355.1C809.6 1362.2 809.6 1371.1 811.9 1375.3C814.1 1379.5 819.7 1382.8 820.8 1380.2C821.9 1377.6 820.5 1366.8 818.6 1359.6C816.7 1352.4 813.4 1344.7 809.6 1337.2C805.9 1329.7 801.8 1321.5 796.2 1314.8C790.6 1308.1 780.1 1299.1 776 1296.9C771.9 1294.6 770 1298.7 771.5 1301.4Z" fill="#c3bba9"/><path d="M765.5 1291.3Q769.4 1288.7 774.1 1288.2M777.6 1296.2Q784.7 1292.8 792.5 1293M780.8 1298Q789.8 1294.8 799.2 1296M797.3 1307.2Q807.7 1305.6 817.7 1308.9M791.3 1311.9Q809.3 1311 825.8 1318.4M795.9 1318.4Q815.5 1319.5 832.4 1329.3M815.6 1337Q830.8 1340 843.1 1349.5M806.8 1336.9Q824.2 1340.8 838 1352.1M812.3 1351.4Q829.7 1358 842.2 1371.7M812.2 1353.1Q829.2 1359.7 841.4 1373.2" fill="none" stroke="#c3bba9" stroke-width="1.6" opacity=".8"/><path d="M770.4 1292.1Q775.3 1289.6 780.8 1289.1M779.5 1296.3Q787.1 1293.4 795.3 1293.7M791.9 1310.2Q807.3 1309.3 821.8 1314.3M802.5 1319.7Q818.6 1320.6 833.1 1327.7M808.6 1331.8Q826.4 1335.3 841.4 1345.3M812.3 1344.7Q828.9 1350.5 842.1 1362.2M812.9 1355.4Q831.9 1363.6 846.2 1378.5" fill="none" stroke="#ebe7db" stroke-width="2" opacity=".8"/></g>
<path d="M605.8 1401C602.4 1409.6 608 1418.8 610.3 1426.8C612.5 1434.8 615.1 1439.9 619.2 1449.2C623.3 1458.5 628.9 1473.5 634.9 1482.8C640.9 1492.1 646.5 1497.7 655.1 1505.2C663.6 1512.7 675.6 1522 686.4 1527.6C697.2 1533.2 708.8 1535.5 720 1538.8C731.2 1542.2 743.5 1545.2 753.6 1547.8C763.7 1550.3 774.5 1551.9 780.5 1554.1C786.6 1556.2 786.9 1561.6 789.9 1560.5C792.9 1559.5 794 1552.1 798.4 1547.8C802.8 1543.4 810.4 1541.1 816.3 1534.3C822.3 1527.6 829.4 1516 834.3 1507.5C839.1 1498.9 843 1490.7 845.5 1482.8C847.9 1475 849.4 1468.3 849.1 1460.4C848.7 1452.6 846.4 1443.2 843.2 1435.8C840 1428.3 835 1421.1 829.8 1415.6C824.6 1410.1 813.3 1407.5 811.9 1402.6C810.4 1397.8 821.6 1389.9 821.3 1386.5C820.9 1383.1 811.6 1386.5 809.6 1382C807.7 1377.5 810.7 1367.1 809.6 1359.6C808.5 1352.1 806.3 1344.7 802.9 1337.2C799.5 1329.7 794.7 1320.8 789.5 1314.8C784.2 1308.8 777.5 1304.7 771.5 1301.4C765.6 1298 761 1296.7 753.6 1294.6C746.2 1292.6 732.8 1289.1 727.2 1288.8C721.6 1288.5 724.6 1292.3 720 1292.8C715.5 1293.4 705.5 1291.4 699.9 1292.4C694.3 1293.4 686.3 1296.1 686.4 1299.1C686.5 1302.1 700.3 1305.8 700.3 1310.3C700.3 1314.8 688.3 1320 686.4 1326C684.5 1332.1 692.8 1341.3 689.1 1346.6C685.4 1351.9 673.8 1353 664 1357.8C654.2 1362.6 640.1 1368.1 630.4 1375.3C620.7 1382.5 609.1 1392.5 605.8 1401Z" fill="#4a4342"/>
<clipPath id="m1m"><path d="M605.8 1401C602.4 1409.6 608 1418.8 610.3 1426.8C612.5 1434.8 615.1 1439.9 619.2 1449.2C623.3 1458.5 628.9 1473.5 634.9 1482.8C640.9 1492.1 646.5 1497.7 655.1 1505.2C663.6 1512.7 675.6 1522 686.4 1527.6C697.2 1533.2 708.8 1535.5 720 1538.8C731.2 1542.2 743.5 1545.2 753.6 1547.8C763.7 1550.3 774.5 1551.9 780.5 1554.1C786.6 1556.2 786.9 1561.6 789.9 1560.5C792.9 1559.5 794 1552.1 798.4 1547.8C802.8 1543.4 810.4 1541.1 816.3 1534.3C822.3 1527.6 829.4 1516 834.3 1507.5C839.1 1498.9 843 1490.7 845.5 1482.8C847.9 1475 849.4 1468.3 849.1 1460.4C848.7 1452.6 846.4 1443.2 843.2 1435.8C840 1428.3 835 1421.1 829.8 1415.6C824.6 1410.1 813.3 1407.5 811.9 1402.6C810.4 1397.8 821.6 1389.9 821.3 1386.5C820.9 1383.1 811.6 1386.5 809.6 1382C807.7 1377.5 810.7 1367.1 809.6 1359.6C808.5 1352.1 806.3 1344.7 802.9 1337.2C799.5 1329.7 794.7 1320.8 789.5 1314.8C784.2 1308.8 777.5 1304.7 771.5 1301.4C765.6 1298 761 1296.7 753.6 1294.6C746.2 1292.6 732.8 1289.1 727.2 1288.8C721.6 1288.5 724.6 1292.3 720 1292.8C715.5 1293.4 705.5 1291.4 699.9 1292.4C694.3 1293.4 686.3 1296.1 686.4 1299.1C686.5 1302.1 700.3 1305.8 700.3 1310.3C700.3 1314.8 688.3 1320 686.4 1326C684.5 1332.1 692.8 1341.3 689.1 1346.6C685.4 1351.9 673.8 1353 664 1357.8C654.2 1362.6 640.1 1368.1 630.4 1375.3C620.7 1382.5 609.1 1392.5 605.8 1401Z"/></clipPath>
<g clip-path="url(#m1m)"><path d="M681.9 1440.3C685.7 1436.9 697.6 1445.1 708.8 1447C720 1448.8 735.7 1452.6 749.1 1451.5C762.6 1450.3 777.5 1446.6 789.5 1440.3C801.4 1433.9 811.9 1414.1 820.8 1413.4C829.8 1412.6 838.5 1427.9 843.2 1435.8C847.9 1443.6 848.7 1452.6 849.1 1460.4C849.4 1468.3 847.9 1475 845.5 1482.8C843 1490.7 839.1 1498.9 834.3 1507.5C829.4 1516 823.7 1525.5 816.3 1534.3C809 1543.2 800.4 1558.3 789.9 1560.5C779.5 1562.8 765.3 1553.3 753.6 1547.8C742 1542.3 729.4 1536.6 720 1527.6C710.7 1518.7 703.2 1504.1 697.6 1494C692 1483.9 689 1476.1 686.4 1467.1C683.8 1458.2 678.2 1443.6 681.9 1440.3Z" fill="#4f4847"/><path d="M652.8 1375.3C656.9 1379 660.7 1395.1 666.3 1404.4C671.9 1413.7 679.3 1424.2 686.4 1431.3C693.5 1438.4 698.4 1443.6 708.8 1447C719.3 1450.3 744.7 1450 749.1 1451.5C753.6 1452.9 743.2 1455.9 735.7 1455.9C728.2 1455.9 714 1454.8 704.3 1451.5C694.6 1448.1 685.7 1442.9 677.5 1435.8C669.2 1428.7 661 1417.8 655.1 1408.9C649.1 1399.9 642 1387.6 641.6 1382C641.2 1376.4 648.7 1371.6 652.8 1375.3Z" fill="#463f3e"/><path d="M619.2 1449.2C623.3 1460.8 628.9 1473.5 634.9 1482.8C640.9 1492.1 646.5 1497.7 655.1 1505.2C663.6 1512.7 675.6 1522 686.4 1527.6C697.2 1533.2 708.8 1535.5 720 1538.8C731.2 1542.2 742 1544.2 753.6 1547.8C765.3 1551.4 784.7 1560.9 789.9 1560.5C795.1 1560.2 791.8 1549.9 785 1545.5C778.2 1541.2 761.8 1538.4 749.1 1534.3C736.4 1530.2 721.5 1527.6 708.8 1520.9C696.1 1514.2 683.1 1503.7 673 1494C662.9 1484.3 654.3 1472.4 648.3 1462.7C642.4 1452.9 643.5 1444 637.1 1435.8C630.8 1427.6 613.2 1411.1 610.3 1413.4C607.3 1415.6 615.1 1437.6 619.2 1449.2Z" fill="#463f3e"/></g>
<path d="M720 1343.9C717 1347.8 717 1354.4 717.8 1359.6C718.5 1364.8 721.9 1370.1 724.5 1375.3C727.1 1380.5 731.6 1386.1 733.5 1391C735.3 1395.8 736.1 1399.9 735.7 1404.4C735.3 1408.9 730.8 1413.7 731.2 1417.8C731.6 1422 734.2 1426.1 737.9 1429.5C741.7 1432.9 748.4 1436 753.6 1438C758.8 1440 764.1 1442 769.3 1441.6C774.5 1441.2 780.8 1438.6 785 1435.8C789.2 1432.9 792.4 1429.8 794.4 1424.6C796.3 1419.3 795.6 1411.5 796.6 1404.4C797.7 1397.3 799.4 1388.7 800.7 1382C801.9 1375.3 804.2 1370.1 804.2 1364.1C804.2 1358.1 802.8 1351 800.7 1346.2C798.6 1341.3 796.2 1334.1 791.7 1335C787.2 1335.8 780.1 1350.7 773.8 1351.1C767.4 1351.5 760 1339.7 753.6 1337.2C747.3 1334.7 741.3 1335 735.7 1336.1C730.1 1337.2 723 1340 720 1343.9Z" fill="#d99a8b"/>
<path d="M731.2 1375.3C733.8 1378.6 738.9 1389.1 740.2 1395.4C741.5 1401.8 737.6 1408.1 739.1 1413.4C740.6 1418.6 749.3 1424.1 749.1 1426.8C749 1429.5 740.9 1431 737.9 1429.5C735 1428 731.6 1422 731.2 1417.8C730.8 1413.7 735.3 1408.9 735.7 1404.4C736.1 1399.9 735.3 1395.8 733.5 1391C731.6 1386.1 724.9 1377.9 724.5 1375.3C724.1 1372.7 728.6 1371.9 731.2 1375.3Z" fill="#c88578"/>
<path d="M758.1 1422.3C760.3 1420.2 766.9 1419 771.5 1419C776.2 1419 783.9 1420.3 786.1 1422.3C788.3 1424.4 787.4 1429 785 1431.3C782.6 1433.6 776 1436.1 771.5 1436.2C767.1 1436.3 760.3 1434.1 758.1 1431.7C755.9 1429.4 755.9 1424.5 758.1 1422.3Z" fill="#c99185"/>
<path d="M747.3 1324.2C748.1 1322.6 754.1 1321.2 758.1 1322C762.1 1322.7 767.6 1328.2 771.5 1328.7C775.5 1329.2 778 1324.6 781.6 1324.9C785.2 1325.2 792 1328.2 793.3 1330.5C794.6 1332.7 792.7 1334.8 789.5 1338.3C786.2 1341.8 778.3 1351 773.8 1351.5C769.3 1352.1 765.9 1345 762.6 1341.7C759.2 1338.4 756.2 1334.7 753.6 1331.8C751.1 1328.9 746.6 1325.9 747.3 1324.2Z" fill="#ecebe1"/>
<path d="M774.2 1366.3C771.6 1368.2 769 1376.8 767.1 1382C765.1 1387.2 762.2 1394.3 762.6 1397.7C763 1401.1 766.3 1401.8 769.3 1402.6C772.3 1403.4 777.1 1403.6 780.5 1402.6C783.9 1401.6 788.6 1399.6 789.9 1396.6C791.3 1393.5 789.8 1388.5 788.6 1384.2C787.4 1380 785.1 1373.8 782.7 1370.8C780.4 1367.8 776.8 1364.5 774.2 1366.3Z" fill="#9c8079"/>
<path d="M762.6 1397.7C763 1398.9 766.3 1401.8 769.3 1402.6C772.3 1403.4 777.1 1403.6 780.5 1402.6C783.9 1401.6 789.2 1397.8 789.9 1396.6C790.7 1395.4 787.3 1395.1 785 1395.4C782.7 1395.8 779 1398.8 776 1398.8C773 1398.8 769.3 1395.6 767.1 1395.4C764.8 1395.3 762.2 1396.5 762.6 1397.7Z" fill="#8a6c66"/>
<ellipse cx="765.3" cy="1399.3" rx="1.6" ry="2.2" fill="#6b4a46"/>
<ellipse cx="786.8" cy="1398.8" rx="1.4" ry="2" fill="#6b4a46"/>
<path d="M735.3 1416.7C738.3 1417.4 748.7 1420.7 753.6 1420.5C758.5 1420.4 761.1 1416.1 764.8 1415.6C768.6 1415.2 771.1 1418.4 776 1417.8C780.9 1417.3 791.3 1413 794.4 1412" fill="none" stroke="#a0645a" stroke-width="1.5" stroke-linecap="round"/>
<ellipse cx="740.6" cy="1363" rx="12" ry="7.6" fill="#5a2c1e" transform="rotate(8 740.6 1363)"/>
<ellipse cx="740.6" cy="1363" rx="10" ry="6.4" fill="#a3551c" transform="rotate(8 740.6 1363)"/>
<circle cx="739.1" cy="1362.2" r="3.6" fill="#2a1710"/><circle cx="742.1" cy="1360.8" r="1" fill="#fff"/>
<ellipse cx="790.8" cy="1364.1" rx="9" ry="8" fill="#5a2c1e"/>
<ellipse cx="790.8" cy="1364.1" rx="7.4" ry="6.8" fill="#a3551c"/>
<circle cx="789" cy="1364.1" r="3.4" fill="#2a1710"/><circle cx="791.6" cy="1361.9" r="1" fill="#fff"/></g>
<g id="monkey2"><path d="M1815 1690C1822.1 1685 1821.7 1699.6 1827.6 1707.5C1833.4 1715.5 1840.1 1728 1850.1 1737.6C1860.2 1747.2 1873.1 1757.2 1887.7 1765.2C1902.4 1773.1 1919.1 1780.6 1937.9 1785.2C1956.7 1789.8 1977.6 1790.7 2000.6 1792.8C2023.5 1794.8 2050.7 1795.3 2075.8 1797.8C2100.8 1800.3 2128 1802.8 2151 1807.8C2173.9 1812.8 2194.8 1819.1 2213.6 1827.9C2232.4 1836.6 2250 1848.7 2263.8 1860.4C2277.6 1872.1 2288.4 1887.2 2296.4 1898C2304.3 1908.9 2308.4 1916.8 2311.4 1925.6C2314.4 1934.4 2316.1 1945.9 2314.4 1950.7C2312.7 1955.5 2307.7 1953.8 2301.4 1954.2C2295 1954.6 2283.4 1955.5 2276.3 1953.2C2269.2 1950.9 2265 1945.3 2258.8 1940.7C2252.5 1936.1 2248.3 1932.7 2238.7 1925.6C2229.1 1918.5 2215.7 1906 2201.1 1898C2186.5 1890.1 2169.8 1882.6 2151 1878C2132.2 1873.4 2109.2 1872.1 2088.3 1870.5C2067.4 1868.8 2048.6 1868.8 2025.6 1868C2002.6 1867.1 1973.4 1868 1950.4 1865.5C1927.4 1862.9 1906.5 1858.8 1887.7 1852.9C1868.9 1847.1 1852.2 1838.3 1837.6 1830.4C1823 1822.4 1810.4 1812.8 1800 1805.3C1789.6 1797.8 1777.4 1796.5 1774.9 1785.2C1772.4 1774 1778.3 1753.5 1785 1737.6C1791.6 1721.7 1807.9 1695 1815 1690Z" fill="#7b6f67"/>
<clipPath id="m2t"><path d="M1815 1690C1822.1 1685 1821.7 1699.6 1827.6 1707.5C1833.4 1715.5 1840.1 1728 1850.1 1737.6C1860.2 1747.2 1873.1 1757.2 1887.7 1765.2C1902.4 1773.1 1919.1 1780.6 1937.9 1785.2C1956.7 1789.8 1977.6 1790.7 2000.6 1792.8C2023.5 1794.8 2050.7 1795.3 2075.8 1797.8C2100.8 1800.3 2128 1802.8 2151 1807.8C2173.9 1812.8 2194.8 1819.1 2213.6 1827.9C2232.4 1836.6 2250 1848.7 2263.8 1860.4C2277.6 1872.1 2288.4 1887.2 2296.4 1898C2304.3 1908.9 2308.4 1916.8 2311.4 1925.6C2314.4 1934.4 2316.1 1945.9 2314.4 1950.7C2312.7 1955.5 2307.7 1953.8 2301.4 1954.2C2295 1954.6 2283.4 1955.5 2276.3 1953.2C2269.2 1950.9 2265 1945.3 2258.8 1940.7C2252.5 1936.1 2248.3 1932.7 2238.7 1925.6C2229.1 1918.5 2215.7 1906 2201.1 1898C2186.5 1890.1 2169.8 1882.6 2151 1878C2132.2 1873.4 2109.2 1872.1 2088.3 1870.5C2067.4 1868.8 2048.6 1868.8 2025.6 1868C2002.6 1867.1 1973.4 1868 1950.4 1865.5C1927.4 1862.9 1906.5 1858.8 1887.7 1852.9C1868.9 1847.1 1852.2 1838.3 1837.6 1830.4C1823 1822.4 1810.4 1812.8 1800 1805.3C1789.6 1797.8 1777.4 1796.5 1774.9 1785.2C1772.4 1774 1778.3 1753.5 1785 1737.6C1791.6 1721.7 1807.9 1695 1815 1690Z"/></clipPath>
<g clip-path="url(#m2t)"><path d="M1786.2 1821.6L1801.1 1794.8L1818.7 1770.4L1840.4 1749.5L1864.8 1731L1885.1 1746.3L1864.4 1768.9L1846.9 1793.4L1834 1820.6L1824.2 1849.7Z" fill="#8c8581"/><path d="M1866.4 1869.9L1870.6 1839.6L1878.2 1810.4L1890.8 1783.1L1906.9 1757L1924.4 1762L1911.7 1790L1902.6 1818.7L1898.7 1848.5L1898.3 1879.2Z" fill="#8c8581"/><path d="M1927 1884.6L1925.4 1854L1927.4 1823.9L1934.8 1794.7L1945.6 1766.1L1971.9 1769.6L1962.3 1798.8L1956.3 1828.3L1955.7 1858.4L1958.6 1888.9Z" fill="#8c8581"/><path d="M1990.6 1891.5L1985.5 1861.3L1984 1831.2L1988 1801.3L1995.5 1771.6L2023.8 1772.2L2017.1 1802.1L2014.1 1832.1L2016.5 1862.1L2022.5 1892.2Z" fill="#8c8581"/><path d="M2050.3 1892.9L2045.5 1862.7L2044.2 1832.6L2048.4 1802.7L2056.1 1773.1L2087.8 1774.5L2079.9 1804.2L2075.6 1834L2076.7 1864.1L2081.5 1894.4Z" fill="#8c8581"/><path d="M2106.8 1896.1L2103.3 1865.6L2103.5 1835.5L2109 1805.9L2118.2 1776.6L2154.8 1781.9L2142.6 1810L2134 1838.9L2130.6 1868.8L2130.8 1899.5Z" fill="#8c8581"/><path d="M2148.4 1904.2L2152.2 1873.8L2159.5 1844.6L2171.8 1817.1L2187.6 1790.8L2229 1808.3L2209.8 1832.2L2193.9 1857.8L2182.7 1885.8L2174.8 1915.4Z" fill="#8c8581"/><path d="M2194 1926.1L2204.8 1897.4L2218.6 1870.7L2237 1846.8L2258.4 1824.9L2290.7 1849.2L2266.3 1867.7L2244.6 1888.6L2227 1913.1L2212.2 1939.8Z" fill="#8c8581"/><path d="M2228.2 1954.7L2245.6 1929.4L2265.4 1906.7L2289 1888L2315.1 1871.9L2339.3 1900.2L2311.6 1913.3L2286 1929.3L2263.8 1949.6L2243.6 1972.7Z" fill="#8c8581"/><path d="M1774.9 1782.7C1782.5 1780.2 1808.4 1785 1820.1 1790.2C1831.8 1795.5 1834.7 1806.5 1845.1 1814.1C1855.6 1821.6 1868.5 1830.1 1882.7 1835.4C1896.9 1840.6 1910.7 1843.3 1930.4 1845.4C1950 1847.5 1980.5 1847.7 2000.6 1847.9C2020.6 1848.1 2031.9 1846.7 2050.7 1846.7C2069.5 1846.7 2095.8 1845.6 2113.4 1847.9C2130.9 1850.2 2141.4 1855 2156 1860.4C2170.6 1865.9 2188.6 1872.6 2201.1 1880.5C2213.6 1888.4 2223.2 1900.6 2231.2 1908.1C2239.1 1915.6 2241.2 1922.5 2248.7 1925.6C2256.3 1928.8 2269.2 1927.3 2276.3 1926.9C2283.4 1926.5 2287.2 1922.9 2291.4 1923.1C2295.5 1923.3 2302.6 1926 2301.4 1928.1C2300.1 1930.2 2288 1931.3 2283.8 1935.6C2279.7 1940 2280.5 1953.4 2276.3 1954.2C2272.1 1955 2265 1945.4 2258.8 1940.7C2252.5 1935.9 2248.3 1932.7 2238.7 1925.6C2229.1 1918.5 2215.7 1906 2201.1 1898C2186.5 1890.1 2169.8 1882.6 2151 1878C2132.2 1873.4 2109.2 1872.1 2088.3 1870.5C2067.4 1868.8 2048.6 1868.8 2025.6 1868C2002.6 1867.1 1973.4 1868 1950.4 1865.5C1927.4 1862.9 1906.5 1858.8 1887.7 1852.9C1868.9 1847.1 1852.2 1838.3 1837.6 1830.4C1823 1822.4 1810.4 1809.5 1800 1805.3C1789.6 1801.1 1779.1 1809 1774.9 1805.3C1770.8 1801.5 1767.4 1785.2 1774.9 1782.7Z" fill="#4a3e3b" opacity=".42"/></g>
<path d="M1348.2 1540.4C1337.4 1549.4 1359.8 1553.9 1364.3 1561.9C1368.8 1570 1371.8 1580.2 1375.1 1588.8C1378.3 1597.4 1381.4 1607.7 1383.7 1613.5C1385.9 1619.4 1385.4 1618 1388.5 1623.8C1391.5 1629.5 1397 1640.8 1401.9 1648C1406.9 1655.1 1413.1 1661.4 1418.1 1666.8C1423 1672.2 1427 1675.7 1431.5 1680.2C1436 1684.7 1445.4 1686.5 1444.9 1693.7C1444.5 1700.8 1433.9 1712.3 1428.8 1723.2C1423.8 1734.2 1425.9 1751.5 1414.6 1759.4C1403.4 1767.2 1372.3 1765.6 1361.3 1770.3C1350.4 1775 1350.6 1780.9 1348.8 1787.6C1347 1794.2 1345.7 1805.9 1350.4 1810.1C1355.1 1814.4 1370.9 1814.9 1377 1813.3C1383.1 1811.6 1375 1804.4 1387 1800.1C1399 1795.8 1432.5 1790.6 1449.1 1787.6C1465.7 1784.5 1479.8 1781.9 1486.7 1781.9C1493.6 1781.9 1488.4 1783.9 1490.5 1787.6C1492.5 1791.2 1494.6 1801.7 1499.2 1803.9C1503.8 1806.1 1509.7 1801.3 1518 1800.7C1526.4 1800.2 1526.4 1797.9 1549.4 1800.7C1572.3 1803.6 1636 1816.9 1655.9 1818C1675.9 1819 1658.1 1809.6 1669.1 1807C1680 1804.4 1705.1 1805.4 1721.7 1802.3C1738.3 1799.2 1757.2 1793.3 1768.7 1788.2C1780.2 1783.1 1783.4 1778.8 1790.7 1771.9C1798 1765 1806.6 1754.7 1812.6 1746.8C1818.6 1739 1823.9 1729.6 1826.7 1724.9C1829.5 1720.2 1829.1 1721 1829.5 1718.4C1829.8 1715.9 1828.6 1714.3 1828.8 1709.5C1829.1 1704.6 1829 1693.3 1831.1 1689.3C1833.1 1685.3 1839.1 1687.9 1841.4 1685.3C1843.6 1682.7 1844.3 1678.1 1844.7 1673.6C1845.1 1669.1 1845.1 1662.5 1843.6 1658.4C1842.1 1654.3 1836.3 1651.7 1836 1649C1835.6 1646.3 1842.8 1644.5 1841.6 1642.3C1840.4 1640 1832.8 1639.6 1828.8 1635.5C1824.8 1631.4 1823.2 1625.5 1817.6 1617.6C1812 1609.8 1804.5 1599.3 1795.2 1588.5C1785.9 1577.7 1774.7 1564.6 1761.6 1552.7C1748.5 1540.7 1733.6 1527.3 1716.8 1516.8C1700 1506.4 1679.1 1497.6 1660.8 1489.9C1642.5 1482.3 1620.1 1473.9 1607 1470.9C1594 1467.9 1594 1468.1 1582.4 1472C1570.8 1475.9 1549.8 1488.4 1537.6 1494.4C1525.4 1500.4 1527.6 1505.9 1509.5 1508.2C1491.3 1510.5 1455.7 1502.8 1428.8 1508.2C1401.9 1513.5 1358.9 1531.5 1348.2 1540.4Z" fill="#796c64"/>
<clipPath id="m2b"><path d="M1348.2 1540.4C1337.4 1549.4 1359.8 1553.9 1364.3 1561.9C1368.8 1570 1371.8 1580.2 1375.1 1588.8C1378.3 1597.4 1381.4 1607.7 1383.7 1613.5C1385.9 1619.4 1385.4 1618 1388.5 1623.8C1391.5 1629.5 1397 1640.8 1401.9 1648C1406.9 1655.1 1413.1 1661.4 1418.1 1666.8C1423 1672.2 1427 1675.7 1431.5 1680.2C1436 1684.7 1445.4 1686.5 1444.9 1693.7C1444.5 1700.8 1433.9 1712.3 1428.8 1723.2C1423.8 1734.2 1425.9 1751.5 1414.6 1759.4C1403.4 1767.2 1372.3 1765.6 1361.3 1770.3C1350.4 1775 1350.6 1780.9 1348.8 1787.6C1347 1794.2 1345.7 1805.9 1350.4 1810.1C1355.1 1814.4 1370.9 1814.9 1377 1813.3C1383.1 1811.6 1375 1804.4 1387 1800.1C1399 1795.8 1432.5 1790.6 1449.1 1787.6C1465.7 1784.5 1479.8 1781.9 1486.7 1781.9C1493.6 1781.9 1488.4 1783.9 1490.5 1787.6C1492.5 1791.2 1494.6 1801.7 1499.2 1803.9C1503.8 1806.1 1509.7 1801.3 1518 1800.7C1526.4 1800.2 1526.4 1797.9 1549.4 1800.7C1572.3 1803.6 1636 1816.9 1655.9 1818C1675.9 1819 1658.1 1809.6 1669.1 1807C1680 1804.4 1705.1 1805.4 1721.7 1802.3C1738.3 1799.2 1757.2 1793.3 1768.7 1788.2C1780.2 1783.1 1783.4 1778.8 1790.7 1771.9C1798 1765 1806.6 1754.7 1812.6 1746.8C1818.6 1739 1823.9 1729.6 1826.7 1724.9C1829.5 1720.2 1829.1 1721 1829.5 1718.4C1829.8 1715.9 1828.6 1714.3 1828.8 1709.5C1829.1 1704.6 1829 1693.3 1831.1 1689.3C1833.1 1685.3 1839.1 1687.9 1841.4 1685.3C1843.6 1682.7 1844.3 1678.1 1844.7 1673.6C1845.1 1669.1 1845.1 1662.5 1843.6 1658.4C1842.1 1654.3 1836.3 1651.7 1836 1649C1835.6 1646.3 1842.8 1644.5 1841.6 1642.3C1840.4 1640 1832.8 1639.6 1828.8 1635.5C1824.8 1631.4 1823.2 1625.5 1817.6 1617.6C1812 1609.8 1804.5 1599.3 1795.2 1588.5C1785.9 1577.7 1774.7 1564.6 1761.6 1552.7C1748.5 1540.7 1733.6 1527.3 1716.8 1516.8C1700 1506.4 1679.1 1497.6 1660.8 1489.9C1642.5 1482.3 1620.1 1473.9 1607 1470.9C1594 1467.9 1594 1468.1 1582.4 1472C1570.8 1475.9 1549.8 1488.4 1537.6 1494.4C1525.4 1500.4 1527.6 1505.9 1509.5 1508.2C1491.3 1510.5 1455.7 1502.8 1428.8 1508.2C1401.9 1513.5 1358.9 1531.5 1348.2 1540.4Z"/></clipPath>
<g clip-path="url(#m2b)"><path d="M1631.7 1479.8C1639.5 1477.8 1660.4 1482.6 1660.8 1491C1661.2 1499.4 1642 1521.1 1633.9 1530.3C1625.9 1539.4 1617.5 1541.3 1612.6 1545.9C1607.8 1550.6 1607.6 1557.1 1604.8 1558.3C1602 1559.4 1596.8 1558.1 1595.8 1552.7C1594.9 1547.2 1596.2 1534 1599.2 1525.8C1602.2 1517.6 1608.3 1511 1613.8 1503.4C1619.2 1495.7 1623.8 1481.9 1631.7 1479.8Z" fill="#8d8683"/><path d="M1685.4 1500.7C1690.5 1498.1 1700.8 1501.8 1700 1507.8C1699.3 1513.9 1687.9 1529.1 1681 1537C1674.1 1544.8 1664.5 1550.7 1658.6 1554.9C1652.6 1559.1 1650.9 1561.4 1645.1 1562.3C1639.3 1563.1 1623.1 1563.1 1623.8 1560C1624.6 1556.9 1642 1549.8 1649.6 1543.7C1657.3 1537.6 1663.8 1530.7 1669.8 1523.5C1675.7 1516.4 1680.4 1503.3 1685.4 1500.7Z" fill="#8d8683"/><path d="M1714.6 1520.8C1719.5 1519 1730.7 1524.6 1730.7 1530.3C1730.7 1535.9 1720.2 1547.8 1714.6 1554.9C1708.9 1562 1701.5 1569 1696.6 1572.8C1691.8 1576.6 1690.7 1577.1 1685.4 1577.7C1680.1 1578.4 1664.8 1579.5 1664.8 1576.8C1664.8 1574.2 1679.4 1567.5 1685.4 1561.6C1691.5 1555.7 1696.3 1548.2 1701.1 1541.5C1706 1534.7 1709.6 1522.7 1714.6 1520.8Z" fill="#8d8683"/><path d="M1745.9 1543.2C1750.5 1542.2 1762.1 1549.7 1762.1 1555.3C1762.1 1561 1751.6 1571 1745.9 1577.3C1740.3 1583.6 1732.9 1589.4 1728 1593C1723.2 1596.6 1721 1598.4 1716.8 1598.8C1712.6 1599.2 1702.2 1598.5 1702.9 1595.7C1703.7 1592.8 1716 1587.4 1721.3 1581.8C1726.6 1576.1 1730.6 1568 1734.7 1561.6C1738.8 1555.2 1741.4 1544.3 1745.9 1543.2Z" fill="#8d8683"/><path d="M1772.8 1567.9C1777 1568 1787.1 1577.3 1786.7 1582.2C1786.3 1587.2 1776.2 1593 1770.6 1597.5C1764.9 1601.9 1757.1 1606.2 1752.7 1608.7C1748.2 1611.2 1747.5 1612.2 1743.7 1612.5C1739.9 1612.7 1729.1 1612.7 1729.8 1610.2C1730.5 1607.7 1742.9 1602.2 1748.2 1597.5C1753.5 1592.7 1757.5 1586.7 1761.6 1581.8C1765.7 1576.8 1768.6 1567.8 1772.8 1567.9Z" fill="#8d8683"/><path d="M1797.5 1597.9C1803.5 1601.5 1821.1 1622.2 1820.3 1627C1819.6 1631.8 1801.3 1625.7 1793 1626.6C1784.7 1627.4 1775.8 1630.8 1770.6 1632.2C1765.3 1633.6 1765.2 1635.3 1761.6 1634.9C1758 1634.4 1748.1 1632.4 1748.8 1629.5C1749.6 1626.6 1760.2 1621.6 1766.1 1617.6C1772 1613.6 1778.8 1608.6 1784 1605.3C1789.2 1602 1791.4 1594.3 1797.5 1597.9Z" fill="#8d8683"/><path d="M1784 1648.5C1790.4 1647.8 1798.5 1647.4 1806.4 1649C1814.3 1650.5 1827.4 1655 1831.5 1657.9C1835.6 1660.9 1835.2 1666.2 1831.1 1666.9C1826.9 1667.6 1815.7 1662.7 1806.4 1662.4C1797.1 1662.1 1782.8 1665.2 1775.1 1665.1C1767.3 1665 1761.2 1663.7 1760 1661.7C1758.9 1659.8 1764.3 1655.7 1768.3 1653.5C1772.3 1651.3 1777.7 1649.3 1784 1648.5Z" fill="#8d8683"/><path d="M1607 1469.8C1610.6 1466.8 1619.9 1472.4 1621.6 1476.5C1623.3 1480.6 1619.9 1488.4 1617.1 1494.4C1614.3 1500.4 1610.6 1506.9 1604.8 1512.3C1599 1517.7 1591.4 1523.5 1582.4 1526.9C1573.4 1530.3 1556.3 1536.8 1551 1532.5C1545.8 1528.2 1545.8 1506 1551 1501.1C1556.3 1496.3 1574.2 1504.5 1582.4 1503.4C1590.6 1502.2 1596.2 1500 1600.3 1494.4C1604.4 1488.8 1603.5 1472.8 1607 1469.8Z" fill="#5f5450"/><path d="M1348.2 1540.4C1346.4 1535.9 1357.6 1556.6 1364.3 1561.9C1371 1567.3 1382.2 1569.8 1388.5 1572.7C1394.8 1575.6 1395.2 1578.5 1401.9 1579.4C1408.7 1580.3 1422.1 1576.5 1428.8 1578.1C1435.5 1579.6 1434.2 1589.3 1442.3 1588.8C1450.3 1588.4 1466 1580.8 1477.2 1575.4C1488.4 1570 1497.4 1563.3 1509.5 1556.6C1521.6 1549.8 1539.5 1542.2 1549.8 1535.1C1560.1 1527.9 1565.9 1515.3 1571.3 1513.5C1576.7 1511.8 1584.3 1517.6 1582 1524.3C1579.8 1531 1566.4 1545.6 1557.8 1553.9C1549.3 1562.2 1541.3 1568.2 1531 1574C1520.7 1579.9 1508.6 1584.6 1496 1588.8C1483.5 1593.1 1469.6 1596.1 1455.7 1599.6C1441.8 1603.1 1423.9 1608.8 1412.7 1609.8C1401.5 1610.8 1394.8 1609 1388.5 1605.5C1382.2 1602 1381.8 1599.7 1375.1 1588.8C1368.3 1578 1350 1544.9 1348.2 1540.4Z" fill="#5f5450"/><path d="M1388.5 1604.9C1391.6 1602.9 1401.5 1609.9 1412.7 1609C1423.9 1608.1 1441.8 1602.9 1455.7 1599.6C1469.6 1596.2 1483.5 1593.3 1496 1588.8C1508.6 1584.3 1524.2 1573.6 1531 1572.7C1537.8 1571.8 1538.2 1578.5 1536.9 1583.4C1535.5 1588.4 1529.7 1596.9 1522.9 1602.3C1516.1 1607.6 1505 1610.8 1496 1615.7C1487.1 1620.6 1480.3 1627.3 1469.1 1631.8C1457.9 1636.3 1437.2 1639.4 1428.8 1642.6C1420.4 1645.8 1423.1 1652.1 1418.6 1651.2C1414.1 1650.3 1406.1 1642.2 1401.9 1637.2C1397.8 1632.2 1396.1 1626.5 1393.9 1621.1C1391.6 1615.7 1385.4 1607 1388.5 1604.9Z" fill="#8d8683"/><path d="M1733.6 1636.7C1734.4 1635 1739 1642.8 1741.9 1649C1744.8 1655.1 1747.6 1665.8 1750.9 1673.6C1754.1 1681.5 1757.6 1689.3 1761.6 1696C1765.6 1702.7 1773.9 1710.7 1775.1 1713.9C1776.2 1717.2 1765.6 1712.1 1768.7 1715.5C1771.9 1718.9 1784.9 1732.2 1793.8 1734.3C1802.7 1736.4 1819.4 1723.9 1822 1728C1824.6 1732.2 1817.3 1749.3 1809.5 1759.4C1801.6 1769.4 1789.6 1781 1775 1788.2C1760.4 1795.4 1739.4 1799.2 1721.7 1802.3C1704.1 1805.4 1680 1804.4 1669.1 1807C1658.1 1809.6 1665.4 1817.4 1655.9 1818C1646.4 1818.5 1629.8 1813 1612 1810.1C1594.3 1807.3 1564.3 1804.5 1549.4 1800.7C1534.5 1797 1522.7 1792.4 1522.7 1787.6C1522.7 1782.8 1548.1 1778.7 1549.4 1771.9C1550.7 1765.1 1533.7 1754.1 1530.6 1746.8C1527.4 1739.5 1526.4 1730.5 1530.6 1728C1534.7 1725.5 1547.3 1729.4 1555.6 1731.8C1564 1734.1 1571.3 1736.9 1580.7 1742.1C1590.1 1747.4 1601.6 1756.9 1612 1763.1C1622.5 1769.4 1632.9 1777.1 1643.4 1779.7C1653.8 1782.3 1664.3 1780.1 1674.7 1778.8C1685.2 1777.5 1695.6 1777.8 1706.1 1771.9C1716.5 1766.1 1730.5 1756.2 1737.4 1743.7C1744.3 1731.2 1747.4 1710.8 1747.4 1696.7C1747.4 1682.6 1739.7 1669.1 1737.4 1659.1C1735.1 1649.1 1732.9 1638.3 1733.6 1636.7Z" fill="#5f5450"/><path d="M1535.3 1580.7C1536.8 1580.7 1532.3 1617.3 1530.6 1634C1528.8 1650.7 1524.9 1665.4 1524.9 1681C1524.9 1696.7 1526.5 1713.9 1530.6 1728C1534.6 1742.1 1550.4 1755.7 1549.4 1765.6C1548.3 1775.6 1531.6 1785.5 1524.3 1787.6C1517 1789.7 1507.1 1788.1 1505.5 1778.2C1503.9 1768.2 1512.8 1744.2 1514.9 1728C1517 1711.8 1517 1696.7 1518 1681C1519.1 1665.4 1518.3 1650.7 1521.2 1634C1524 1617.3 1533.7 1580.7 1535.3 1580.7Z" fill="#6b5f59"/><path d="M1449.1 1690.4C1443.9 1698.3 1439.2 1710.3 1433.4 1721.8C1427.7 1733.3 1414.6 1753.6 1414.6 1759.4C1414.6 1765.1 1426.6 1763.5 1433.4 1756.2C1440.2 1748.9 1450.1 1729.1 1455.4 1715.5C1460.6 1701.9 1465.8 1678.9 1464.8 1674.8C1463.7 1670.6 1454.3 1682.6 1449.1 1690.4Z" fill="#6b5f59"/><path d="M1550.9 1731.2C1557.2 1731.2 1568.5 1739.4 1572.9 1745.3C1577.2 1751.1 1580.9 1763.1 1576.9 1766.3C1573 1769.4 1557.9 1765 1549.4 1764.1C1540.9 1763.2 1528.2 1764.1 1525.9 1760.9C1523.5 1757.8 1531.1 1750.2 1535.3 1745.3C1539.4 1740.3 1544.7 1731.2 1550.9 1731.2Z" fill="#3a2f2d"/><path d="M1490.5 1787.6C1490.5 1782.9 1493.6 1778.7 1499.2 1775.7C1504.9 1772.6 1510.7 1769 1524.3 1769.4C1537.9 1769.8 1560.9 1773.8 1580.7 1778.2C1600.6 1782.5 1628.7 1790.6 1643.4 1795.4C1658.1 1800.2 1667 1803.2 1669.1 1807C1671.2 1810.8 1675.9 1819 1655.9 1818C1636 1816.9 1572.3 1803.6 1549.4 1800.7C1526.4 1797.9 1526.4 1800.2 1518 1800.7C1509.7 1801.3 1503.8 1806.1 1499.2 1803.9C1494.6 1801.7 1490.5 1792.3 1490.5 1787.6Z" fill="#796c64"/><path d="M1518 1800.7C1521.2 1802.1 1526.4 1797.9 1549.4 1800.7C1572.3 1803.6 1637.1 1816 1655.9 1818C1674.7 1820 1674.7 1816.7 1662.2 1812.6C1649.6 1808.6 1602.6 1797.2 1580.7 1793.8C1558.8 1790.4 1541 1791.1 1530.6 1792.3C1520.1 1793.4 1514.9 1799.3 1518 1800.7Z" fill="#695d57"/></g>
<path d="M1361.3 1770.3C1358.8 1770.3 1351.2 1780.9 1349.4 1787.6C1347.7 1794.2 1348.2 1805.5 1350.7 1810.1C1353.2 1814.7 1360.1 1814.6 1364.5 1815.1C1368.9 1815.7 1373.9 1815.4 1377 1813.3C1380.1 1811.2 1384.3 1805.3 1383.3 1802.6C1382.2 1799.9 1373.9 1799.5 1370.7 1797C1367.6 1794.5 1366 1792 1364.5 1787.6C1362.9 1783.1 1363.8 1770.3 1361.3 1770.3Z" fill="#544a47"/>
<path d="M1490.5 1790.7C1490.5 1793.4 1494.6 1802.2 1499.2 1803.9C1503.8 1805.5 1514 1802.1 1518 1800.7C1522.1 1799.3 1525.2 1796.8 1523.7 1795.4C1522.1 1794 1512.7 1793.6 1508.6 1792.3C1504.6 1791 1502.3 1787.8 1499.2 1787.6C1496.2 1787.3 1490.5 1788 1490.5 1790.7Z" fill="#544a47"/>
<path d="M1348.8 1787.6C1347.5 1790.8 1346.7 1805.4 1348.8 1810.1C1350.9 1814.8 1358.2 1815.9 1361.3 1815.8C1364.5 1815.7 1367.9 1811.9 1367.6 1809.5C1367.3 1807.2 1361.6 1804.8 1359.8 1801.7C1357.9 1798.5 1358.5 1793.1 1356.6 1790.7C1354.8 1788.4 1350.1 1784.3 1348.8 1787.6Z" fill="#3f3634"/>
<path d="M1546.2 1583.9C1543.9 1592.2 1532.7 1617.8 1532.1 1634C1531.6 1650.2 1535 1665.4 1543.1 1681C1551.2 1696.7 1569.2 1715 1580.7 1728C1592.2 1741.1 1601.6 1751 1612 1759.4C1622.5 1767.7 1638.2 1775 1643.4 1778.2M1530.6 1728C1528.5 1720.2 1519.6 1696.7 1518 1681C1516.5 1665.4 1520.6 1641.8 1521.2 1634M1733.6 1636.7C1735.1 1639.1 1739.8 1645.1 1742.6 1651.2C1745.4 1657.4 1749.1 1669.9 1750.4 1673.6" fill="none" stroke="#5a4e4a" stroke-width="1.6" stroke-linecap="round" opacity=".7"/>
<path d="M1498.7 1398C1501.4 1394.8 1512.2 1391.9 1522.9 1389.9C1533.7 1387.9 1551.1 1385.4 1563.2 1385.9C1575.3 1386.3 1588 1388.8 1595.5 1392.6C1603 1396.4 1604.9 1400.6 1608.1 1408.7C1611.3 1416.8 1614.2 1430.7 1614.8 1441C1615.5 1451.3 1613.5 1462 1612.2 1470.5C1610.8 1479.1 1609.9 1486 1606.8 1492C1603.6 1498 1598.6 1504.8 1593.3 1506.6C1588.1 1508.4 1581.2 1506.1 1575.3 1502.8C1569.4 1499.5 1565.2 1492 1557.8 1486.7C1550.5 1481.3 1539 1476.8 1531 1470.5C1522.9 1464.3 1513.9 1456.2 1509.5 1449C1505 1441.9 1504.5 1434.2 1504.1 1427.5C1503.6 1420.8 1507.7 1413.6 1506.8 1408.7C1505.9 1403.8 1496 1401.1 1498.7 1398Z" fill="#ddd7c7"/>
<clipPath id="m2r"><path d="M1498.7 1398C1501.4 1394.8 1512.2 1391.9 1522.9 1389.9C1533.7 1387.9 1551.1 1385.4 1563.2 1385.9C1575.3 1386.3 1588 1388.8 1595.5 1392.6C1603 1396.4 1604.9 1400.6 1608.1 1408.7C1611.3 1416.8 1614.2 1430.7 1614.8 1441C1615.5 1451.3 1613.5 1462 1612.2 1470.5C1610.8 1479.1 1609.9 1486 1606.8 1492C1603.6 1498 1598.6 1504.8 1593.3 1506.6C1588.1 1508.4 1581.2 1506.1 1575.3 1502.8C1569.4 1499.5 1565.2 1492 1557.8 1486.7C1550.5 1481.3 1539 1476.8 1531 1470.5C1522.9 1464.3 1513.9 1456.2 1509.5 1449C1505 1441.9 1504.5 1434.2 1504.1 1427.5C1503.6 1420.8 1507.7 1413.6 1506.8 1408.7C1505.9 1403.8 1496 1401.1 1498.7 1398Z"/></clipPath>
<path d="M1497.6 1401.3L1502.3 1393.1L1506.8 1397.2ZM1504.5 1398.3L1506.7 1390.2L1511.7 1395.2ZM1510 1395.4L1515 1389L1515.8 1393.4ZM1512.9 1394.4L1518.1 1389L1520.9 1391.9ZM1516.1 1393.3L1521.9 1388L1525.8 1391.1ZM1525.2 1390.8L1530.6 1387.1L1531.3 1389.9ZM1529 1390.6L1535.1 1386.1L1538.7 1389.1ZM1532.3 1389.3L1540.4 1385.9L1542 1388ZM1538.8 1388.7L1547.7 1383L1547.7 1387.8ZM1543.3 1387.9L1553.4 1383L1553.5 1387.2ZM1553.2 1387.3L1559.6 1384L1559.6 1387.2ZM1555.3 1387.2L1562.1 1384.6L1563.8 1387.3ZM1561 1387.2L1568.9 1383.4L1568.1 1387.5ZM1568.9 1387.6L1576.8 1384.8L1576.8 1388.6ZM1574.9 1387.8L1581.2 1387.1L1580.5 1388.8ZM1579.2 1389.1L1588.5 1385.9L1588.3 1391.4ZM1585.1 1390.5L1592 1387.8L1590.6 1392.4ZM1588.2 1391.1L1598 1389.2L1596.5 1395ZM1596.4 1394.7L1605.2 1394.1L1601.8 1399.5ZM1599.4 1396.6L1607.3 1397.3L1604.5 1404.3ZM1603 1401.5L1610.6 1403.1L1606.9 1410.9ZM1604.1 1404L1610.6 1407.7L1607.8 1413.2ZM1607.1 1411.3L1614.7 1413.6L1609.1 1418.1ZM1608.8 1417.3L1613.5 1419L1610.3 1423.4ZM1610.4 1424L1617.8 1425.3L1611.5 1429.8ZM1611.6 1429.7L1617.4 1432.8L1612.4 1436.4ZM1612.1 1433.4L1618.9 1437.3L1612.9 1441ZM1612.7 1437.4L1619.5 1440.3L1613 1445.3ZM1613.2 1443.7L1616.7 1449.8L1612.6 1453.8ZM1612.9 1450.4L1618.7 1454.2L1612.1 1458ZM1612.5 1454.1L1618.4 1458.8L1611.6 1461.8ZM1611.7 1461.7L1616.6 1468.9L1610.5 1469.4ZM1610.8 1466.3L1616 1471.8L1609.7 1473.2ZM1610.3 1470L1613.2 1476.4L1608.6 1480.2ZM1609 1478.7L1613.3 1484.7L1607.3 1485.7ZM1609.1 1479.9L1611.3 1487.1L1606.2 1489.2ZM1607.3 1486.5L1610.2 1494.4L1603.4 1494.6ZM1604.3 1492.8L1606.7 1499.3L1598.3 1499.6ZM1601.8 1495.8L1602.4 1502.5L1595.4 1502.1ZM1597.5 1500L1599.4 1507.4L1591.3 1505.6Z" fill="#ddd7c7"/>
<g clip-path="url(#m2r)"><path d="M1503.8 1399.8Q1502.3 1399.5 1501 1398.4M1509.5 1402.2Q1511.5 1397.5 1515.4 1394.3M1514.7 1401.6Q1518.8 1395.6 1525.1 1392.1M1528.3 1403.6Q1537.9 1393.9 1550.8 1389.6M1529.2 1416.3Q1551.5 1398.4 1579.6 1392.5M1535.5 1416.6Q1559.8 1398.5 1589.7 1393.3M1542.8 1422.7Q1567.8 1407 1597.2 1404.4M1544.9 1428.1Q1570.3 1414.3 1599.3 1413.4M1524.1 1442Q1565.6 1427.4 1609.2 1433.2M1548 1449.9Q1579.3 1443.1 1610.3 1451.2M1555.8 1462.5Q1578.4 1461.2 1599.2 1470.3M1545.6 1468.1Q1578.1 1469.2 1606.5 1484.9M1538.9 1470.6Q1566.8 1474.7 1589.8 1491M1559.2 1483Q1576.3 1486.7 1589.9 1497.8" fill="none" stroke="#c6bfad" stroke-width="2" opacity=".75"/><path d="M1505.2 1400.4Q1504.7 1398.8 1504.9 1397.1M1510.3 1408.9Q1520.9 1397 1535.2 1390.1M1516.9 1416.7Q1538.6 1398.6 1565.6 1390.2M1519.4 1421.6Q1547.1 1402.5 1580 1395.6M1534.2 1425.6Q1564 1408.4 1598.2 1404.1M1529 1433Q1558.5 1419.2 1591 1417.8M1554 1446.8Q1579.4 1441.4 1605 1446.2M1539.9 1460.2Q1573.8 1460.2 1605.1 1473.4M1540.1 1464.6Q1573.1 1466.2 1602.9 1480.4M1547.4 1477.8Q1567.8 1483.5 1584.5 1496.6" fill="none" stroke="#ece8dc" stroke-width="2.4" opacity=".8"/></g>
<path d="M1412.7 1371.1C1419 1368.6 1427 1365.7 1434.2 1364.4C1441.4 1363 1445.4 1361.9 1455.7 1363C1466 1364.1 1483.8 1367.9 1496 1371.1C1508.2 1374.2 1525.2 1378.7 1528.8 1381.8C1532.4 1385 1521.2 1387.2 1517.5 1389.9C1513.9 1392.6 1508.9 1391.7 1506.8 1398C1504.7 1404.2 1504.4 1419 1504.9 1427.5C1505.3 1436 1505.1 1441.9 1509.5 1449C1513.8 1456.2 1522.9 1464.3 1531 1470.5C1539 1476.8 1550.3 1481.2 1557.8 1486.7C1565.4 1492.1 1573.9 1498.8 1576.1 1503.3C1578.4 1507.9 1575.7 1508.8 1571.3 1514.1C1566.9 1519.4 1560.1 1528 1549.8 1535.1C1539.5 1542.1 1521.6 1549.7 1509.5 1556.6C1497.4 1563.4 1488.4 1570.4 1477.2 1575.9C1466 1581.4 1450.3 1589 1442.3 1589.4C1434.2 1589.7 1435.5 1579.6 1428.8 1578.1C1422.1 1576.5 1408.7 1580.8 1401.9 1579.9C1395.2 1579.1 1394.8 1575.7 1388.5 1572.7C1382.2 1569.7 1371.9 1568.2 1364.3 1561.9C1356.7 1555.7 1348.2 1544 1342.8 1535.1C1337.4 1526.1 1333.6 1516.7 1332 1508.2C1330.5 1499.7 1330.7 1491.6 1333.4 1484C1336.1 1476.4 1342.1 1470.5 1348.2 1462.5C1354.2 1454.4 1364.1 1445.9 1369.7 1435.6C1375.3 1425.3 1377.3 1410.1 1381.8 1400.6C1386.3 1391.2 1391.4 1384.1 1396.6 1379.1C1401.7 1374.2 1406.4 1373.5 1412.7 1371.1Z" fill="#433a38"/>
<clipPath id="m2m"><path d="M1412.7 1371.1C1419 1368.6 1427 1365.7 1434.2 1364.4C1441.4 1363 1445.4 1361.9 1455.7 1363C1466 1364.1 1483.8 1367.9 1496 1371.1C1508.2 1374.2 1525.2 1378.7 1528.8 1381.8C1532.4 1385 1521.2 1387.2 1517.5 1389.9C1513.9 1392.6 1508.9 1391.7 1506.8 1398C1504.7 1404.2 1504.4 1419 1504.9 1427.5C1505.3 1436 1505.1 1441.9 1509.5 1449C1513.8 1456.2 1522.9 1464.3 1531 1470.5C1539 1476.8 1550.3 1481.2 1557.8 1486.7C1565.4 1492.1 1573.9 1498.8 1576.1 1503.3C1578.4 1507.9 1575.7 1508.8 1571.3 1514.1C1566.9 1519.4 1560.1 1528 1549.8 1535.1C1539.5 1542.1 1521.6 1549.7 1509.5 1556.6C1497.4 1563.4 1488.4 1570.4 1477.2 1575.9C1466 1581.4 1450.3 1589 1442.3 1589.4C1434.2 1589.7 1435.5 1579.6 1428.8 1578.1C1422.1 1576.5 1408.7 1580.8 1401.9 1579.9C1395.2 1579.1 1394.8 1575.7 1388.5 1572.7C1382.2 1569.7 1371.9 1568.2 1364.3 1561.9C1356.7 1555.7 1348.2 1544 1342.8 1535.1C1337.4 1526.1 1333.6 1516.7 1332 1508.2C1330.5 1499.7 1330.7 1491.6 1333.4 1484C1336.1 1476.4 1342.1 1470.5 1348.2 1462.5C1354.2 1454.4 1364.1 1445.9 1369.7 1435.6C1375.3 1425.3 1377.3 1410.1 1381.8 1400.6C1386.3 1391.2 1391.4 1384.1 1396.6 1379.1C1401.7 1374.2 1406.4 1373.5 1412.7 1371.1Z"/></clipPath>
<g clip-path="url(#m2m)"><path d="M1348.2 1543.1C1346.4 1543.6 1357.6 1557 1364.3 1561.9C1371 1566.9 1382.2 1569.7 1388.5 1572.7C1394.8 1575.7 1395.2 1579.1 1401.9 1579.9C1408.7 1580.8 1422.1 1576.5 1428.8 1578.1C1435.5 1579.6 1434.2 1589.7 1442.3 1589.4C1450.3 1589 1466 1581.4 1477.2 1575.9C1488.4 1570.4 1498.7 1562.5 1509.5 1556.6C1520.2 1550.6 1541.7 1541.8 1541.7 1540.4C1541.7 1539.1 1519.3 1544.7 1509.5 1548.5C1499.6 1552.3 1491.5 1559.7 1482.6 1563.3C1473.6 1566.9 1464.7 1568.7 1455.7 1570C1446.7 1571.3 1437.8 1571.3 1428.8 1571.3C1419.9 1571.3 1410.9 1572 1401.9 1570C1393 1568 1384 1563.7 1375.1 1559.2C1366.1 1554.8 1350 1542.7 1348.2 1543.1Z" fill="#332a29"/><path d="M1469.1 1400.6C1472.3 1393.5 1500.8 1393.5 1506.8 1398C1512.7 1402.4 1504.4 1419 1504.9 1427.5C1505.3 1436 1505.1 1441.9 1509.5 1449C1513.8 1456.2 1522.9 1464.3 1531 1470.5C1539 1476.8 1550.3 1481.2 1557.8 1486.7C1565.4 1492.1 1577.5 1495.3 1576.1 1503.3C1574.8 1511.4 1560.9 1526.2 1549.8 1535.1C1538.7 1543.9 1512.6 1558.4 1509.5 1556.6C1506.3 1554.8 1526.5 1534.6 1531 1524.3C1535.4 1514 1539.9 1503.7 1536.3 1494.7C1532.8 1485.8 1517.5 1479.5 1509.5 1470.5C1501.4 1461.6 1494.7 1452.6 1488 1441C1481.2 1429.3 1466 1407.8 1469.1 1400.6Z" fill="#463d3b"/></g>
<path d="M1412.7 1371.1C1411.3 1368.2 1398.4 1363.5 1388.5 1361.7C1378.6 1359.8 1365.2 1358.7 1353.5 1359.8C1341.9 1360.9 1326.4 1363.8 1318.6 1368.4C1310.8 1373 1309.6 1380.5 1306.5 1387.2C1303.4 1393.9 1300.5 1401.1 1299.8 1408.7C1299.1 1416.3 1301.4 1424.8 1302.5 1432.9C1303.6 1441 1304.5 1449.5 1306.5 1457.1C1308.5 1464.7 1311.2 1473.2 1314.6 1478.6C1317.9 1484 1322.9 1490.7 1326.7 1489.4C1330.5 1488 1332.5 1476.4 1337.4 1470.5C1342.3 1464.7 1350 1461.6 1356.2 1454.4C1362.5 1447.2 1370.6 1436.5 1375.1 1427.5C1379.5 1418.6 1379.5 1408.7 1383.1 1400.6C1386.7 1392.6 1391.6 1384.1 1396.6 1379.1C1401.5 1374.2 1414 1374 1412.7 1371.1Z" fill="#ddd7c7"/>
<clipPath id="m2l"><path d="M1412.7 1371.1C1411.3 1368.2 1398.4 1363.5 1388.5 1361.7C1378.6 1359.8 1365.2 1358.7 1353.5 1359.8C1341.9 1360.9 1326.4 1363.8 1318.6 1368.4C1310.8 1373 1309.6 1380.5 1306.5 1387.2C1303.4 1393.9 1300.5 1401.1 1299.8 1408.7C1299.1 1416.3 1301.4 1424.8 1302.5 1432.9C1303.6 1441 1304.5 1449.5 1306.5 1457.1C1308.5 1464.7 1311.2 1473.2 1314.6 1478.6C1317.9 1484 1322.9 1490.7 1326.7 1489.4C1330.5 1488 1332.5 1476.4 1337.4 1470.5C1342.3 1464.7 1350 1461.6 1356.2 1454.4C1362.5 1447.2 1370.6 1436.5 1375.1 1427.5C1379.5 1418.6 1379.5 1408.7 1383.1 1400.6C1386.7 1392.6 1391.6 1384.1 1396.6 1379.1C1401.5 1374.2 1414 1374 1412.7 1371.1Z"/></clipPath>
<path d="M1396.2 1376.6L1396.2 1369.7L1394.7 1370.8ZM1396.1 1371.3L1393.3 1363.1L1392.1 1364.4ZM1394.2 1366.6L1390.6 1360.1L1389.1 1363.4ZM1388.8 1363.4L1383.5 1356.6L1382.2 1362ZM1382.9 1362.2L1377.7 1355.2L1375.4 1361.5ZM1376 1361.5L1371.8 1357.8L1369 1361.2ZM1375.1 1361.1L1368.4 1357.6L1365.6 1361ZM1368.3 1361.1L1362.2 1356.1L1360.9 1361.1ZM1361.8 1360.7L1355.7 1358.4L1355.2 1361ZM1356.7 1361L1349 1357.9L1348.3 1361.9ZM1351.9 1361.7L1344.9 1358.6L1343 1363ZM1347.8 1362L1339.1 1359L1338.2 1363.6ZM1338.8 1363.7L1333.1 1360.8L1332.8 1365.1ZM1335.9 1363.7L1326.5 1362.1L1328.2 1365.9ZM1331.7 1365.2L1323.3 1362.6L1323.7 1367.7ZM1323.8 1367.2L1316.5 1366.9L1316.7 1371.9ZM1320.1 1368.6L1312.5 1369.3L1313.1 1376ZM1316.2 1371.8L1308 1374.5L1311.3 1379.3ZM1312.2 1378.3L1304.8 1378.3L1309.7 1384.8ZM1310.9 1381.4L1303.6 1384.8L1308 1388.7ZM1309.4 1385.1L1303.6 1389.3L1305.6 1393.6ZM1307.2 1390L1301.1 1394.1L1303.7 1399.1ZM1305.1 1394.9L1298.6 1399L1302.2 1404.3ZM1302.4 1403.2L1295.5 1407.5L1301.5 1410.7ZM1301.6 1408.3L1295.2 1410.2L1301.6 1414.7ZM1301.5 1411.6L1297.6 1416.5L1302.2 1419.5ZM1302 1418.3L1298.6 1423.8L1303.3 1425.8ZM1302.9 1423.2L1298.1 1427.5L1304.4 1432ZM1304.1 1430.2L1298.9 1434.1L1304.9 1436ZM1304.8 1435.2L1299.3 1440.8L1306.1 1444.5ZM1305 1438.6L1301.6 1445.6L1306.3 1447.1ZM1305.8 1444.1L1303.2 1449.3L1306.9 1450.4ZM1306.7 1450.2L1304.7 1455.8L1308.1 1456.4ZM1307.2 1453.1L1305.1 1461.2L1309.8 1462.5ZM1309.5 1461.3L1307.7 1467.5L1311.8 1468.2ZM1310.7 1464.7L1309 1471.4L1314.3 1474.5ZM1312.9 1471.6L1311.1 1478.4L1315.7 1477ZM1315.4 1476.6L1313.7 1481.6L1319.4 1481.6ZM1317.8 1480L1315.4 1486.9L1322.6 1484.1ZM1321.7 1483.3L1323.5 1489L1330.1 1489.2Z" fill="#ddd7c7"/>
<g clip-path="url(#m2l)"><path d="M1383.1 1400.6C1379.5 1408.7 1379.5 1418.6 1375.1 1427.5C1370.6 1436.5 1362.5 1447.2 1356.2 1454.4C1350 1461.6 1342.3 1464.7 1337.4 1470.5C1332.5 1476.4 1327.1 1492.9 1326.7 1489.4C1326.2 1485.8 1330.3 1460.2 1334.7 1449C1339.2 1437.8 1347.3 1431.1 1353.5 1422.2C1359.8 1413.2 1365.2 1402.4 1372.4 1395.3C1379.5 1388.1 1394.8 1378.2 1396.6 1379.1C1398.4 1380 1386.7 1392.6 1383.1 1400.6Z" fill="#c6bfad"/><path d="M1400.9 1373.5Q1398.9 1372.5 1396.8 1372.5M1397.9 1376.2Q1396.9 1370.6 1393.4 1366.1M1381.4 1376.8Q1375 1367 1364.8 1361.1M1378.8 1381.2Q1369.8 1370.3 1356.7 1364.7M1377.6 1390.1Q1360.4 1375.1 1338.2 1369.5M1353 1397.2Q1334.5 1385.5 1312.7 1383.5M1364.7 1407.6Q1341.5 1395.4 1315.2 1395.1M1349.7 1411.9Q1327.6 1403.2 1303.9 1405.4M1362.1 1422.7Q1334.8 1416.2 1307.5 1422.7M1351.4 1430.4Q1332.5 1428.5 1314.7 1435.4M1357.4 1435.8Q1330.6 1436.2 1306.8 1448.7M1343.9 1452.7Q1329.1 1455.8 1317.2 1465.3M1342.5 1460.8Q1328 1467.4 1318.1 1479.9M1342.1 1467.3Q1333.1 1474.3 1328.3 1484.5" fill="none" stroke="#c6bfad" stroke-width="2" opacity=".75"/><path d="M1399.3 1373.5Q1397.8 1371.6 1395.7 1370.4M1391.8 1376.2Q1388.8 1368.4 1383 1362.4M1380 1381.3Q1370.3 1369.6 1356.8 1362.5M1371.8 1397.7Q1349.4 1383 1323.1 1378M1353.5 1397.4Q1335.2 1386.7 1314.2 1384M1344.9 1407.4Q1325.1 1399.5 1303.7 1399.8M1349.9 1427Q1331.9 1424.9 1314.5 1429.9M1350 1433.5Q1332.6 1432.9 1316.3 1439M1350.1 1447.7Q1333.4 1451.8 1319.6 1462M1342.5 1464.4Q1330.6 1472.2 1322.6 1483.9" fill="none" stroke="#ece8dc" stroke-width="2.4" opacity=".8"/></g>
<path d="M1393.9 1406C1400.6 1403.6 1414.9 1403.8 1423.4 1404.7C1432 1405.6 1440.7 1407.6 1444.9 1411.4C1449.2 1415.2 1445.4 1421.7 1449 1427.5C1452.6 1433.4 1464 1440.1 1466.5 1446.3C1468.9 1452.6 1466 1459.3 1463.8 1465.2C1461.5 1471 1455.3 1475.9 1453 1481.3C1450.8 1486.7 1453 1492.4 1450.3 1497.4C1447.6 1502.4 1442.7 1508.4 1436.9 1511.4C1431.1 1514.4 1422.1 1515.5 1415.4 1515.7C1408.7 1515.9 1401.9 1515.1 1396.6 1512.5C1391.2 1509.9 1386 1505.8 1383.1 1500.1C1380.2 1494.5 1379.5 1485.3 1379.1 1478.6C1378.6 1471.9 1381.1 1466.1 1380.4 1459.8C1379.8 1453.5 1374.6 1447.7 1375.1 1441C1375.5 1434.2 1380 1425.3 1383.1 1419.5C1386.3 1413.6 1387.2 1408.5 1393.9 1406Z" fill="#d9a090"/>
<path d="M1396.6 1454.4C1400.1 1449.5 1405.3 1446.3 1410 1446.3C1414.7 1446.3 1419.9 1449.5 1424.8 1454.4C1429.7 1459.3 1435.5 1469.6 1439.6 1475.9C1443.6 1482.2 1449.4 1486.1 1449 1492C1448.5 1498 1442.5 1507.5 1436.9 1511.4C1431.3 1515.3 1422.1 1515.5 1415.4 1515.7C1408.7 1515.9 1401.5 1515.5 1396.6 1512.5C1391.6 1509.4 1387.2 1503.5 1385.8 1497.4C1384.5 1491.3 1386.7 1483.1 1388.5 1475.9C1390.3 1468.7 1393 1459.3 1396.6 1454.4Z" fill="#d3988a"/>
<path d="M1400.6 1446.3C1404.9 1443.7 1412.7 1445 1416.7 1449C1420.8 1453.1 1425 1465.6 1424.8 1470.5C1424.6 1475.5 1420.1 1477.9 1415.4 1478.6C1410.7 1479.3 1400.7 1476.8 1396.6 1474.6C1392.4 1472.3 1390 1469.9 1390.6 1465.2C1391.3 1460.5 1396.2 1449 1400.6 1446.3Z" fill="#b98579"/>
<path d="M1393.3 1481.3C1395.6 1478.8 1419.5 1480.1 1422.1 1482.9C1424.7 1485.7 1413.4 1498.2 1408.7 1498C1403.9 1497.7 1391.1 1483.8 1393.3 1481.3Z" fill="#c0877a"/>
<path d="M1391.7 1479.7C1394.8 1480.5 1404.8 1484.2 1410 1484.5C1415.2 1484.8 1420.8 1481.8 1422.9 1481.3" fill="none" stroke="#8c5a50" stroke-width="1.6" stroke-linecap="round"/>
<ellipse cx="1394.7" cy="1467.3" rx="2" ry="2.6" fill="#8a5a52"/>
<ellipse cx="1414.3" cy="1472.2" rx="2" ry="2.6" fill="#8a5a52"/>
<ellipse cx="1395.9" cy="1437.7" rx="10" ry="9" fill="#e6cfc2"/>
<circle cx="1393.4" cy="1437.2" r="8.8" fill="#99591f" stroke="#4a2a18" stroke-width="1.4"/><circle cx="1394.4" cy="1437.2" r="4.2" fill="#1c120c"/><circle cx="1396.9" cy="1434.2" r="1.1" fill="#fff"/>
<ellipse cx="1437.6" cy="1443.3" rx="11.5" ry="10" fill="#e6cfc2"/>
<circle cx="1440.6" cy="1442.8" r="10" fill="#99591f" stroke="#4a2a18" stroke-width="1.4"/><circle cx="1440.1" cy="1442.8" r="4.8" fill="#1c120c"/><circle cx="1442.6" cy="1439.3" r="1.2" fill="#fff"/></g>
<g id="dashes"><path d="M126.3 936.3L686 1297.8" stroke="#000" stroke-width="9.6" stroke-dasharray="40 31.75" fill="none"/>
<path d="M783.8 1292.5L1097.4 1190" stroke="#000" stroke-width="9.6" stroke-dasharray="40.6 31.7" fill="none"/></g>
<g id="texts"><text x="1420.63" y="135.9" font-size="101.2" fill="#000" textLength="641.92" lengthAdjust="spacingAndGlyphs">Novel wireless</text>
<text x="1419.49" y="267.7" font-size="101.2" fill="#000" textLength="784.26" lengthAdjust="spacingAndGlyphs">electrophysiology</text>
<text x="1423.5" y="399.7" font-size="101.2" fill="#000" textLength="704.49" lengthAdjust="spacingAndGlyphs">with Neuropixel</text>
<text x="1517.28" y="1018" font-size="101.2" fill="#000" textLength="659.84" lengthAdjust="spacingAndGlyphs">Neural basis of</text>
<text x="1517.19" y="1149.7" font-size="101.2" fill="#000" textLength="1087.73" lengthAdjust="spacingAndGlyphs">naturalistic conversation</text>
<text x="184.35" y="799.7" font-size="75" fill="#000" textLength="523.32" lengthAdjust="spacingAndGlyphs">Endogenous OT</text>
<text x="184.88" y="898.5" font-size="75" fill="#000" textLength="444.34" lengthAdjust="spacingAndGlyphs">manipulation</text>
<text x="843.7" y="572.7" font-size="75" fill="#000" textLength="134.86" lengthAdjust="spacingAndGlyphs">ACC</text></g>
</svg>
</body></html>
